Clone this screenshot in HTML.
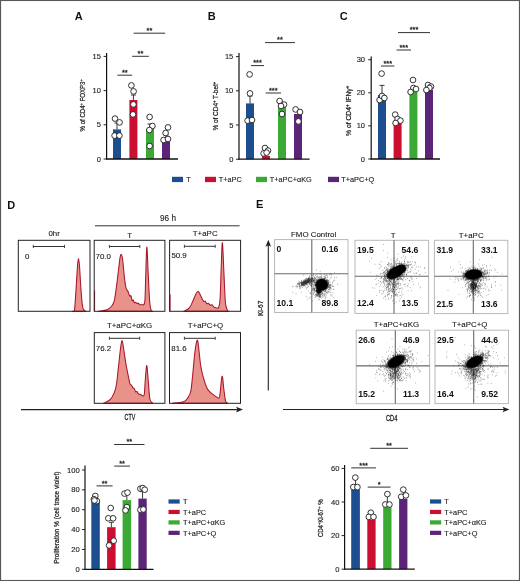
<!DOCTYPE html><html><head><meta charset="utf-8"><style>html,body{margin:0;padding:0;background:#fff;}body{width:520px;height:581px;overflow:hidden;}svg{display:block;will-change:transform;}text{font-family:"Liberation Sans",sans-serif;}</style></head><body><svg width="520" height="581" viewBox="0 0 520 581" font-family="'Liberation Sans', sans-serif" fill="#222"><rect x="0" y="0" width="520" height="581" fill="#fff"/>
<rect x="113" y="129.4" width="8" height="29.6" fill="#1d4e8f"/>
<line x1="117" y1="129.4" x2="117" y2="123" stroke="#222" stroke-width="0.9"/>
<line x1="114.5" y1="123" x2="119.5" y2="123" stroke="#222" stroke-width="0.9"/>
<rect x="129.4" y="100" width="8" height="59" fill="#cc0f30"/>
<line x1="133.4" y1="100" x2="133.4" y2="95" stroke="#222" stroke-width="0.9"/>
<line x1="130.9" y1="95" x2="135.9" y2="95" stroke="#222" stroke-width="0.9"/>
<rect x="146" y="129" width="8" height="30" fill="#3aaa35"/>
<line x1="150" y1="129" x2="150" y2="124" stroke="#222" stroke-width="0.9"/>
<line x1="147.5" y1="124" x2="152.5" y2="124" stroke="#222" stroke-width="0.9"/>
<rect x="162" y="139" width="8" height="20" fill="#5c2479"/>
<line x1="166" y1="139" x2="166" y2="135" stroke="#222" stroke-width="0.9"/>
<line x1="163.5" y1="135" x2="168.5" y2="135" stroke="#222" stroke-width="0.9"/>
<circle cx="115" cy="118.6" r="2.85" fill="#fff" stroke="#111" stroke-width="0.85"/>
<circle cx="119.6" cy="122.4" r="2.85" fill="#fff" stroke="#111" stroke-width="0.85"/>
<circle cx="114.6" cy="135.6" r="2.85" fill="#fff" stroke="#111" stroke-width="0.85"/>
<circle cx="119.4" cy="135.6" r="2.85" fill="#fff" stroke="#111" stroke-width="0.85"/>
<circle cx="131.4" cy="85.4" r="2.85" fill="#fff" stroke="#111" stroke-width="0.85"/>
<circle cx="133.6" cy="91.4" r="2.85" fill="#fff" stroke="#111" stroke-width="0.85"/>
<circle cx="133.4" cy="104.4" r="2.85" fill="#fff" stroke="#111" stroke-width="0.85"/>
<circle cx="133" cy="114.4" r="2.85" fill="#fff" stroke="#111" stroke-width="0.85"/>
<circle cx="149.6" cy="117" r="2.85" fill="#fff" stroke="#111" stroke-width="0.85"/>
<circle cx="152.4" cy="126" r="2.85" fill="#fff" stroke="#111" stroke-width="0.85"/>
<circle cx="149.4" cy="130" r="2.85" fill="#fff" stroke="#111" stroke-width="0.85"/>
<circle cx="149.6" cy="146" r="2.85" fill="#fff" stroke="#111" stroke-width="0.85"/>
<circle cx="168" cy="127.4" r="2.85" fill="#fff" stroke="#111" stroke-width="0.85"/>
<circle cx="165.6" cy="133" r="2.85" fill="#fff" stroke="#111" stroke-width="0.85"/>
<circle cx="163.6" cy="140" r="2.85" fill="#fff" stroke="#111" stroke-width="0.85"/>
<circle cx="168" cy="139" r="2.85" fill="#fff" stroke="#111" stroke-width="0.85"/>
<line x1="106.6" y1="53" x2="106.6" y2="159.6" stroke="#111" stroke-width="1.2"/>
<line x1="106" y1="159" x2="178" y2="159" stroke="#111" stroke-width="1.3"/>
<line x1="103.6" y1="159" x2="106.6" y2="159" stroke="#222" stroke-width="1"/>
<text x="100.9" y="161.59" font-size="7.5" text-anchor="end" stroke="#222" stroke-width="0.12">0</text>
<line x1="103.6" y1="124.8" x2="106.6" y2="124.8" stroke="#222" stroke-width="1"/>
<text x="100.9" y="127.39" font-size="7.5" text-anchor="end" stroke="#222" stroke-width="0.12">5</text>
<line x1="103.6" y1="90.6" x2="106.6" y2="90.6" stroke="#222" stroke-width="1"/>
<text x="100.9" y="93.19" font-size="7.5" text-anchor="end" stroke="#222" stroke-width="0.12">10</text>
<line x1="103.6" y1="56.4" x2="106.6" y2="56.4" stroke="#222" stroke-width="1"/>
<text x="100.9" y="58.99" font-size="7.5" text-anchor="end" stroke="#222" stroke-width="0.12">15</text>
<line x1="117.4" y1="75.2" x2="132.2" y2="75.2" stroke="#333" stroke-width="1"/>
<text x="124.8" y="75" font-size="7.4" text-anchor="middle" stroke="#222" stroke-width="0.3">**</text>
<line x1="132.2" y1="56.3" x2="148.8" y2="56.3" stroke="#333" stroke-width="1"/>
<text x="140.5" y="56.1" font-size="7.4" text-anchor="middle" stroke="#222" stroke-width="0.3">**</text>
<line x1="133.6" y1="33.2" x2="165.2" y2="33.2" stroke="#333" stroke-width="1"/>
<text x="149.4" y="33" font-size="7.4" text-anchor="middle" stroke="#222" stroke-width="0.3">**</text>
<rect x="246" y="103.4" width="8" height="55.8" fill="#1d4e8f"/>
<line x1="250" y1="103.4" x2="250" y2="96" stroke="#222" stroke-width="0.9"/>
<line x1="247.5" y1="96" x2="252.5" y2="96" stroke="#222" stroke-width="0.9"/>
<rect x="262" y="156" width="8" height="3.2" fill="#cc0f30"/>
<rect x="278" y="105" width="8" height="54.2" fill="#3aaa35"/>
<rect x="294" y="114" width="8" height="45.2" fill="#5c2479"/>
<circle cx="249.6" cy="74.4" r="2.85" fill="#fff" stroke="#111" stroke-width="0.85"/>
<circle cx="250" cy="93.4" r="2.85" fill="#fff" stroke="#111" stroke-width="0.85"/>
<circle cx="247.6" cy="120.6" r="2.85" fill="#fff" stroke="#111" stroke-width="0.85"/>
<circle cx="252" cy="120" r="2.85" fill="#fff" stroke="#111" stroke-width="0.85"/>
<circle cx="265" cy="148" r="2.85" fill="#fff" stroke="#111" stroke-width="0.85"/>
<circle cx="268" cy="150.6" r="2.85" fill="#fff" stroke="#111" stroke-width="0.85"/>
<circle cx="263.6" cy="153.4" r="2.85" fill="#fff" stroke="#111" stroke-width="0.85"/>
<circle cx="266.6" cy="152.6" r="2.85" fill="#fff" stroke="#111" stroke-width="0.85"/>
<circle cx="279.6" cy="101" r="2.85" fill="#fff" stroke="#111" stroke-width="0.85"/>
<circle cx="284" cy="104.6" r="2.85" fill="#fff" stroke="#111" stroke-width="0.85"/>
<circle cx="282" cy="114" r="2.85" fill="#fff" stroke="#111" stroke-width="0.85"/>
<circle cx="281" cy="106" r="2.85" fill="#fff" stroke="#111" stroke-width="0.85"/>
<circle cx="295.6" cy="109.4" r="2.85" fill="#fff" stroke="#111" stroke-width="0.85"/>
<circle cx="300" cy="112" r="2.85" fill="#fff" stroke="#111" stroke-width="0.85"/>
<circle cx="298.4" cy="121.4" r="2.85" fill="#fff" stroke="#111" stroke-width="0.85"/>
<line x1="239" y1="53" x2="239" y2="159.8" stroke="#111" stroke-width="1.2"/>
<line x1="238.4" y1="159.2" x2="309.6" y2="159.2" stroke="#111" stroke-width="1.3"/>
<line x1="236" y1="159.2" x2="239" y2="159.2" stroke="#222" stroke-width="1"/>
<text x="233.3" y="161.79" font-size="7.5" text-anchor="end" stroke="#222" stroke-width="0.12">0</text>
<line x1="236" y1="125" x2="239" y2="125" stroke="#222" stroke-width="1"/>
<text x="233.3" y="127.59" font-size="7.5" text-anchor="end" stroke="#222" stroke-width="0.12">5</text>
<line x1="236" y1="90.8" x2="239" y2="90.8" stroke="#222" stroke-width="1"/>
<text x="233.3" y="93.39" font-size="7.5" text-anchor="end" stroke="#222" stroke-width="0.12">10</text>
<line x1="236" y1="56.6" x2="239" y2="56.6" stroke="#222" stroke-width="1"/>
<text x="233.3" y="59.19" font-size="7.5" text-anchor="end" stroke="#222" stroke-width="0.12">15</text>
<line x1="251" y1="65.6" x2="264" y2="65.6" stroke="#333" stroke-width="1"/>
<text x="257.5" y="65.4" font-size="7.4" text-anchor="middle" stroke="#222" stroke-width="0.3">***</text>
<line x1="265.6" y1="93" x2="281" y2="93" stroke="#333" stroke-width="1"/>
<text x="273.3" y="92.8" font-size="7.4" text-anchor="middle" stroke="#222" stroke-width="0.3">***</text>
<line x1="265" y1="42.6" x2="295" y2="42.6" stroke="#333" stroke-width="1"/>
<text x="280" y="42.4" font-size="7.4" text-anchor="middle" stroke="#222" stroke-width="0.3">**</text>
<rect x="378" y="95" width="8" height="64" fill="#1d4e8f"/>
<line x1="382" y1="95" x2="382" y2="85.4" stroke="#222" stroke-width="0.9"/>
<line x1="379.5" y1="85.4" x2="384.5" y2="85.4" stroke="#222" stroke-width="0.9"/>
<rect x="393.6" y="123" width="8" height="36" fill="#cc0f30"/>
<rect x="409.4" y="92" width="8" height="67" fill="#3aaa35"/>
<rect x="425" y="90" width="8" height="69" fill="#5c2479"/>
<circle cx="379.6" cy="100" r="2.85" fill="#fff" stroke="#111" stroke-width="0.85"/>
<circle cx="382" cy="96" r="2.85" fill="#fff" stroke="#111" stroke-width="0.85"/>
<circle cx="384.4" cy="98" r="2.85" fill="#fff" stroke="#111" stroke-width="0.85"/>
<circle cx="381.6" cy="73.6" r="2.85" fill="#fff" stroke="#111" stroke-width="0.85"/>
<circle cx="395.2" cy="114.6" r="2.85" fill="#fff" stroke="#111" stroke-width="0.85"/>
<circle cx="397.6" cy="119" r="2.85" fill="#fff" stroke="#111" stroke-width="0.85"/>
<circle cx="400.4" cy="120.6" r="2.85" fill="#fff" stroke="#111" stroke-width="0.85"/>
<circle cx="395.6" cy="123" r="2.85" fill="#fff" stroke="#111" stroke-width="0.85"/>
<circle cx="413" cy="80" r="2.85" fill="#fff" stroke="#111" stroke-width="0.85"/>
<circle cx="413.4" cy="88" r="2.85" fill="#fff" stroke="#111" stroke-width="0.85"/>
<circle cx="416" cy="89" r="2.85" fill="#fff" stroke="#111" stroke-width="0.85"/>
<circle cx="410.6" cy="92" r="2.85" fill="#fff" stroke="#111" stroke-width="0.85"/>
<circle cx="428" cy="85" r="2.85" fill="#fff" stroke="#111" stroke-width="0.85"/>
<circle cx="431" cy="86.6" r="2.85" fill="#fff" stroke="#111" stroke-width="0.85"/>
<circle cx="429.4" cy="88" r="2.85" fill="#fff" stroke="#111" stroke-width="0.85"/>
<circle cx="426.4" cy="90" r="2.85" fill="#fff" stroke="#111" stroke-width="0.85"/>
<line x1="371.2" y1="56.6" x2="371.2" y2="159.6" stroke="#111" stroke-width="1.2"/>
<line x1="370.6" y1="159" x2="440" y2="159" stroke="#111" stroke-width="1.3"/>
<line x1="368.2" y1="159" x2="371.2" y2="159" stroke="#222" stroke-width="1"/>
<text x="365" y="161.59" font-size="7.5" text-anchor="end" stroke="#222" stroke-width="0.12">0</text>
<line x1="368.2" y1="125.9" x2="371.2" y2="125.9" stroke="#222" stroke-width="1"/>
<text x="365" y="128.49" font-size="7.5" text-anchor="end" stroke="#222" stroke-width="0.12">10</text>
<line x1="368.2" y1="92.8" x2="371.2" y2="92.8" stroke="#222" stroke-width="1"/>
<text x="365" y="95.39" font-size="7.5" text-anchor="end" stroke="#222" stroke-width="0.12">20</text>
<line x1="368.2" y1="59.7" x2="371.2" y2="59.7" stroke="#222" stroke-width="1"/>
<text x="365" y="62.29" font-size="7.5" text-anchor="end" stroke="#222" stroke-width="0.12">30</text>
<line x1="381" y1="66" x2="394.4" y2="66" stroke="#333" stroke-width="1"/>
<text x="387.7" y="65.8" font-size="7.4" text-anchor="middle" stroke="#222" stroke-width="0.3">***</text>
<line x1="396.6" y1="50" x2="411" y2="50" stroke="#333" stroke-width="1"/>
<text x="403.8" y="49.8" font-size="7.4" text-anchor="middle" stroke="#222" stroke-width="0.3">***</text>
<line x1="398" y1="32.6" x2="430" y2="32.6" stroke="#333" stroke-width="1"/>
<text x="414" y="32.4" font-size="7.4" text-anchor="middle" stroke="#222" stroke-width="0.3">***</text>
<text x="74.8" y="20" font-size="11" font-weight="bold" fill="#111">A</text>
<text x="207.8" y="20" font-size="11" font-weight="bold" fill="#111">B</text>
<text x="339.8" y="20" font-size="11" font-weight="bold" fill="#111">C</text>
<text x="7.3" y="208.8" font-size="11" font-weight="bold" fill="#111">D</text>
<text x="256" y="208.2" font-size="11" font-weight="bold" fill="#111">E</text>
<text x="84.89" y="131.4" font-size="7.8" textLength="52.1" lengthAdjust="spacingAndGlyphs" transform="rotate(-90 84.89 131.4)" stroke="#222" stroke-width="0.25">% of CD4<tspan dy="-2" font-size="5">+</tspan><tspan dy="2"> FOXP3</tspan><tspan dy="-2" font-size="5">+</tspan></text>
<text x="217.79" y="130.6" font-size="7.8" textLength="48.8" lengthAdjust="spacingAndGlyphs" transform="rotate(-90 217.79 130.6)" stroke="#222" stroke-width="0.25">% of CD4<tspan dy="-2" font-size="5">+</tspan><tspan dy="2"> T-bet</tspan><tspan dy="-2" font-size="5">+</tspan></text>
<text x="350.59" y="136" font-size="7.8" textLength="50.3" lengthAdjust="spacingAndGlyphs" transform="rotate(-90 350.59 136)" stroke="#222" stroke-width="0.25">% of CD4<tspan dy="-2" font-size="5">+</tspan><tspan dy="2"> IFN&#947;</tspan><tspan dy="-2" font-size="5">+</tspan></text>
<rect x="172" y="176.8" width="11" height="5.3" fill="#1d4e8f"/>
<text x="186.3" y="182.1" font-size="7.3" stroke="#222" stroke-width="0.12">T</text>
<rect x="205" y="176.8" width="11" height="5.3" fill="#cc0f30"/>
<text x="218.8" y="182.1" font-size="7.3" stroke="#222" stroke-width="0.12">T+aPC</text>
<rect x="256" y="176.8" width="11" height="5.3" fill="#3aaa35"/>
<text x="269.8" y="182.1" font-size="7.3" stroke="#222" stroke-width="0.12">T+aPC+&#945;KG</text>
<rect x="328" y="176.8" width="11" height="5.3" fill="#5c2479"/>
<text x="341.3" y="182.1" font-size="7.3" stroke="#222" stroke-width="0.12">T+aPC+Q</text>
<path d="M72.5 311.3C72.83 311 73.92 313.05 74.5 309.5C75.08 305.95 75.5 297.25 76 290C76.5 282.75 77.08 271.25 77.5 266C77.92 260.75 78.17 258.5 78.5 258.5C78.83 258.5 79.08 260.75 79.5 266C79.92 271.25 80.5 283.33 81 290C81.5 296.67 82 302.67 82.5 306C83 309.33 83.42 309.12 84 310C84.58 310.88 85.67 311.08 86 311.3Z" fill="#e8928a" stroke="#a8142c" stroke-width="1.05" stroke-linejoin="round"/>
<path d="M98.5 311.3C99.95 311.05 105.03 310.63 107.2 309.8C109.37 308.97 110.32 307.83 111.5 306.3C112.68 304.77 113.47 303.92 114.3 300.6C115.13 297.28 115.78 291.62 116.5 286.4C117.22 281.18 118.02 274.05 118.6 269.3C119.18 264.55 119.57 260.38 120 257.9C120.43 255.42 120.77 254.17 121.2 254.4C121.63 254.63 122.08 255.63 122.6 259.3C123.12 262.97 123.73 271.65 124.3 276.4C124.87 281.15 125.4 285.32 126 287.8C126.6 290.28 127.4 290.18 127.9 291.3C128.4 292.42 128.65 293.67 129 294.5C129.35 295.33 129.67 296.08 130 296.3C130.33 296.52 130.65 295.08 131 295.8C131.35 296.52 131.73 299.9 132.1 300.6C132.47 301.3 132.83 299.65 133.2 300C133.57 300.35 133.92 302.33 134.3 302.7C134.68 303.07 135.03 302.08 135.5 302.2C135.97 302.32 136.6 303.23 137.1 303.4C137.6 303.57 138.03 302.95 138.5 303.2C138.97 303.45 139.37 304.72 139.9 304.9C140.43 305.08 141.1 304.3 141.7 304.3C142.3 304.3 142.97 305.52 143.5 304.9C144.03 304.28 144.55 304.63 144.9 300.6C145.25 296.57 145.28 289.6 145.6 280.7C145.92 271.8 146.37 248.38 146.8 247.2C147.23 246.02 147.73 264.7 148.2 273.6C148.67 282.5 149.13 294.57 149.6 300.6C150.07 306.63 150.48 308.02 151 309.8C151.52 311.58 152.42 311.05 152.7 311.3Z" fill="#e8928a" stroke="#a8142c" stroke-width="1.05" stroke-linejoin="round"/>
<line x1="94.6" y1="290.5" x2="94.6" y2="311.3" stroke="#a8142c" stroke-width="1"/>
<path d="M183.9 311.3C184.82 310.73 187.9 309.62 189.4 307.9C190.9 306.18 191.87 303.2 192.9 301C193.93 298.8 194.73 296.33 195.6 294.7C196.47 293.07 197.28 291.08 198.1 291.2C198.92 291.32 199.82 294.1 200.5 295.4C201.18 296.7 201.63 297.97 202.2 299C202.77 300.03 203.38 301.25 203.9 301.6C204.42 301.95 204.83 300.75 205.3 301.1C205.77 301.45 206.22 303.33 206.7 303.7C207.18 304.07 207.62 303.07 208.2 303.3C208.78 303.53 209.57 304.85 210.2 305.1C210.83 305.35 211.32 304.45 212 304.8C212.68 305.15 213.22 306.73 214.3 307.2C215.38 307.67 217.53 309.1 218.5 307.6C219.47 306.1 219.65 304.85 220.1 298.2C220.55 291.55 220.82 276.93 221.2 267.7C221.58 258.47 221.93 241.65 222.4 242.8C222.87 243.95 223.5 264.68 224 274.6C224.5 284.52 224.82 296.3 225.4 302.3C225.98 308.3 226.9 309.1 227.5 310.6C228.1 312.1 228.75 311.18 229 311.3Z" fill="#e8928a" stroke="#a8142c" stroke-width="1.05" stroke-linejoin="round"/>
<line x1="170.1" y1="294.5" x2="170.1" y2="311.3" stroke="#a8142c" stroke-width="1"/>
<path d="M103.7 403.2C104.77 402.62 108.33 401.47 110.1 399.7C111.87 397.93 113.23 395.22 114.3 392.6C115.37 389.98 115.78 388.5 116.5 384C117.22 379.5 117.9 371.77 118.6 365.6C119.3 359.43 120.1 351.15 120.7 347C121.3 342.85 121.72 340.45 122.2 340.7C122.68 340.95 123.02 344.83 123.6 348.5C124.18 352.17 124.98 358.43 125.7 362.7C126.42 366.97 127.35 371.3 127.9 374.1C128.45 376.9 128.65 377.85 129 379.5C129.35 381.15 129.6 383.08 130 384C130.4 384.92 130.93 384.4 131.4 385C131.87 385.6 132.33 387 132.8 387.6C133.27 388.2 133.72 387.88 134.2 388.6C134.68 389.32 135.23 391.42 135.7 391.9C136.17 392.38 136.53 391.15 137 391.5C137.47 391.85 137.97 393.55 138.5 394C139.03 394.45 139.6 393.97 140.2 394.2C140.8 394.43 141.43 395.32 142.1 395.4C142.77 395.48 143.67 397.3 144.2 394.7C144.73 392.1 144.87 384.65 145.3 379.8C145.73 374.95 146.27 364.9 146.8 365.6C147.33 366.3 147.98 378.43 148.5 384C149.02 389.57 149.2 395.8 149.9 399C150.6 402.2 152.23 402.5 152.7 403.2Z" fill="#e8928a" stroke="#a8142c" stroke-width="1.05" stroke-linejoin="round"/>
<path d="M172.3 403.2C174.18 402.97 181 402.73 183.6 401.8C186.2 400.87 186.7 399.37 187.9 397.6C189.1 395.83 189.97 395.35 190.8 391.2C191.63 387.05 192.2 379.35 192.9 372.7C193.6 366.05 194.28 356.72 195 351.3C195.72 345.88 196.6 340.92 197.2 340.2C197.8 339.48 198.02 342.77 198.6 347C199.18 351.23 199.87 360.37 200.7 365.6C201.53 370.83 202.53 374.62 203.6 378.4C204.67 382.18 205.92 385.93 207.1 388.3C208.28 390.67 209.52 391.42 210.7 392.6C211.88 393.78 212.9 394.5 214.2 395.4C215.5 396.3 217.55 398.12 218.5 398C219.45 397.88 219.3 398.33 219.9 394.7C220.5 391.07 221.43 377.03 222.1 376.2C222.77 375.37 223.32 385.55 223.9 389.7C224.48 393.85 224.97 398.85 225.6 401.1C226.23 403.35 227.35 402.85 227.7 403.2Z" fill="#e8928a" stroke="#a8142c" stroke-width="1.05" stroke-linejoin="round"/>
<rect x="18.3" y="240.3" width="71.7" height="71" fill="none" stroke="#222" stroke-width="1.0"/>
<rect x="94.2" y="240.3" width="70.7" height="71" fill="none" stroke="#222" stroke-width="1.0"/>
<rect x="169.6" y="240.3" width="71" height="71" fill="none" stroke="#222" stroke-width="1.0"/>
<rect x="94.3" y="332.6" width="70.6" height="70.7" fill="none" stroke="#222" stroke-width="1.0"/>
<rect x="169.5" y="332.6" width="71" height="70.7" fill="none" stroke="#222" stroke-width="1.0"/>
<line x1="33.3" y1="246.5" x2="64.5" y2="246.5" stroke="#333" stroke-width="1"/>
<line x1="33.3" y1="244.9" x2="33.3" y2="248.1" stroke="#333" stroke-width="0.9"/>
<line x1="64.5" y1="244.9" x2="64.5" y2="248.1" stroke="#333" stroke-width="0.9"/>
<line x1="109.4" y1="246.5" x2="139.8" y2="246.5" stroke="#333" stroke-width="1"/>
<line x1="109.4" y1="244.9" x2="109.4" y2="248.1" stroke="#333" stroke-width="0.9"/>
<line x1="139.8" y1="244.9" x2="139.8" y2="248.1" stroke="#333" stroke-width="0.9"/>
<line x1="184.4" y1="246.3" x2="215.2" y2="246.3" stroke="#333" stroke-width="1"/>
<line x1="184.4" y1="244.7" x2="184.4" y2="247.9" stroke="#333" stroke-width="0.9"/>
<line x1="215.2" y1="244.7" x2="215.2" y2="247.9" stroke="#333" stroke-width="0.9"/>
<line x1="109.4" y1="338.3" x2="139.7" y2="338.3" stroke="#333" stroke-width="1"/>
<line x1="109.4" y1="336.7" x2="109.4" y2="339.9" stroke="#333" stroke-width="0.9"/>
<line x1="139.7" y1="336.7" x2="139.7" y2="339.9" stroke="#333" stroke-width="0.9"/>
<line x1="184.4" y1="338.3" x2="215.2" y2="338.3" stroke="#333" stroke-width="1"/>
<line x1="184.4" y1="336.7" x2="184.4" y2="339.9" stroke="#333" stroke-width="0.9"/>
<line x1="215.2" y1="336.7" x2="215.2" y2="339.9" stroke="#333" stroke-width="0.9"/>
<text x="25" y="258.8" font-size="7.9" stroke="#222" stroke-width="0.12">0</text>
<text x="95.5" y="259" font-size="7.9" stroke="#222" stroke-width="0.12">70.0</text>
<text x="171.4" y="258.4" font-size="7.9" stroke="#222" stroke-width="0.12">50.9</text>
<text x="95.8" y="351" font-size="7.9" stroke="#222" stroke-width="0.12">76.2</text>
<text x="171.3" y="351" font-size="7.9" stroke="#222" stroke-width="0.12">81.6</text>
<text x="54.1" y="235.6" font-size="7.9" text-anchor="middle" stroke="#222" stroke-width="0.12">0hr</text>
<text x="168" y="221.2" font-size="8.2" text-anchor="middle" stroke="#222" stroke-width="0.12">96 h</text>
<line x1="95" y1="225.8" x2="239.6" y2="225.8" stroke="#333" stroke-width="1"/>
<text x="129.7" y="237.5" font-size="7.9" text-anchor="middle" stroke="#222" stroke-width="0.12">T</text>
<text x="205.2" y="235.6" font-size="7.9" text-anchor="middle" stroke="#222" stroke-width="0.12">T+aPC</text>
<text x="129.6" y="327.6" font-size="7.9" text-anchor="middle" stroke="#222" stroke-width="0.12">T+aPC+&#945;KG</text>
<text x="205.5" y="327.6" font-size="7.9" text-anchor="middle" stroke="#222" stroke-width="0.12">T+aPC+Q</text>
<line x1="21" y1="409.6" x2="238" y2="409.6" stroke="#222" stroke-width="1.1"/>
<path d="M243 409.6 L236 406.8 L237.5 409.6 L236 412.4Z" fill="#222"/>
<text x="124.6" y="420.4" font-size="8.2" textLength="10.6" lengthAdjust="spacingAndGlyphs" stroke="#222" stroke-width="0.3">CTV</text>
<rect x="274.6" y="239.6" width="73.4" height="72.9" fill="none" stroke="#b8b8b8" stroke-width="1"/>
<line x1="311.8" y1="239.6" x2="311.8" y2="312.5" stroke="#6a6a6a" stroke-width="1.1"/>
<line x1="274.6" y1="273.7" x2="348" y2="273.7" stroke="#6a6a6a" stroke-width="1.1"/>
<path d="M320.3 287.0h.6M320.5 283.7h.6M317.3 284.1h.6M326.5 286.7h.6M326.2 286.0h.6M323.3 285.7h.6M314.0 288.4h.6M323.8 287.0h.6M313.9 278.0h.6M317.5 283.1h.6M322.9 284.8h.6M323.8 282.4h.6M322.9 286.6h.6M318.5 291.9h.6M324.0 289.8h.6M318.7 282.0h.6M320.0 284.6h.6M324.3 286.0h.6M319.5 281.2h.6M319.2 289.9h.6M317.9 286.0h.6M323.4 279.0h.6M321.7 290.2h.6M312.4 283.7h.6M321.0 281.7h.6M323.7 284.8h.6M314.9 288.3h.6M324.5 288.8h.6M328.0 286.4h.6M322.0 279.8h.6M324.3 282.6h.6M319.5 279.9h.6M317.1 282.9h.6M327.3 276.9h.6M314.9 286.0h.6M328.0 287.3h.6M313.0 274.9h.6M323.1 282.1h.6M316.5 288.9h.6M326.5 285.6h.6M322.6 286.7h.6M328.7 287.5h.6M323.8 287.2h.6M314.4 290.1h.6M325.8 287.1h.6M312.6 282.5h.6M325.3 277.8h.6M320.7 289.1h.6M315.6 291.4h.6M324.0 284.4h.6M323.0 287.6h.6M322.0 289.6h.6M318.5 283.3h.6M326.2 285.1h.6M317.5 288.8h.6M328.1 283.2h.6M315.3 284.5h.6M320.8 283.8h.6M327.8 280.9h.6M327.2 279.9h.6M318.0 287.5h.6M326.6 288.4h.6M323.1 285.6h.6M322.2 287.3h.6M320.7 286.1h.6M324.1 285.0h.6M324.9 287.3h.6M330.5 286.3h.6M319.6 283.5h.6M321.4 288.7h.6M320.0 286.5h.6M329.8 274.7h.6M316.4 286.0h.6M323.3 286.0h.6M319.6 287.6h.6M322.8 282.9h.6M332.4 286.4h.6M319.0 284.6h.6M320.5 284.7h.6M309.2 283.1h.6M326.0 280.3h.6M321.2 288.8h.6M325.4 291.0h.6M313.8 283.6h.6M320.0 287.5h.6M326.4 274.3h.6M326.4 279.2h.6M324.6 279.0h.6M322.3 289.8h.6M320.8 285.8h.6M325.1 285.6h.6M321.1 291.1h.6M326.2 283.8h.6M333.9 280.4h.6M325.6 283.9h.6M322.1 287.8h.6M322.5 287.6h.6M314.6 279.0h.6M324.3 281.1h.6M316.9 279.1h.6M327.2 288.0h.6M328.1 281.2h.6M321.5 280.4h.6M324.9 291.4h.6M317.5 291.2h.6M325.9 284.3h.6M312.6 290.6h.6M321.1 282.6h.6M323.3 286.6h.6M328.2 280.9h.6M326.6 290.9h.6M328.0 284.3h.6M318.2 289.1h.6M322.0 285.5h.6M327.9 283.9h.6M311.2 283.5h.6M313.2 288.3h.6M322.9 282.6h.6M321.5 288.3h.6M321.9 290.3h.6M321.2 289.2h.6M328.2 291.4h.6M318.5 288.5h.6M313.1 280.7h.6M312.7 289.3h.6M316.0 284.9h.6M320.6 284.9h.6M318.8 285.9h.6M329.6 285.2h.6M323.9 289.0h.6M320.6 280.0h.6M319.0 289.3h.6M314.1 282.6h.6M326.0 288.2h.6M321.5 288.2h.6M322.2 280.3h.6M314.5 282.4h.6M325.7 282.7h.6M317.4 281.9h.6M314.6 284.5h.6M316.2 286.5h.6M310.9 286.3h.6M318.6 277.2h.6M324.8 283.9h.6M311.5 281.5h.6M322.8 283.2h.6M325.0 288.0h.6M324.5 286.3h.6M327.5 287.6h.6M323.5 276.7h.6M325.5 290.2h.6M320.2 283.1h.6M330.2 278.0h.6M323.6 294.7h.6M317.3 287.8h.6M330.0 284.5h.6M324.0 288.6h.6M317.4 284.6h.6M322.8 288.3h.6M321.3 284.2h.6M316.9 283.6h.6M325.5 285.4h.6M317.7 281.6h.6M333.5 289.6h.6M324.4 274.6h.6M324.3 286.9h.6M329.1 286.7h.6M321.2 287.1h.6M312.8 289.1h.6M323.0 282.2h.6M327.5 292.2h.6M315.2 282.3h.6M322.8 285.7h.6M319.7 281.1h.6M331.0 289.1h.6M316.1 279.6h.6M329.2 289.0h.6M329.7 288.2h.6M317.6 286.0h.6M311.8 282.0h.6M321.2 287.1h.6M318.2 284.5h.6M323.6 286.5h.6M324.4 285.8h.6M320.0 288.2h.6M321.7 281.7h.6M318.7 285.0h.6M321.0 285.6h.6M321.5 285.7h.6M320.9 280.0h.6M323.4 289.2h.6M323.5 284.2h.6M323.5 281.1h.6M313.0 285.2h.6M317.3 288.0h.6M316.6 274.5h.6M316.8 291.3h.6M319.8 279.5h.6M318.1 287.1h.6M323.7 285.7h.6M328.2 287.8h.6M321.4 287.4h.6M328.9 288.9h.6M326.1 280.7h.6M320.8 287.9h.6M320.2 289.3h.6M324.2 288.6h.6M320.5 295.2h.6M327.1 284.1h.6M321.9 295.4h.6M320.0 288.5h.6M325.9 285.0h.6M316.2 285.8h.6M323.1 289.5h.6M325.0 285.1h.6M325.3 287.2h.6M322.4 285.2h.6M320.4 287.7h.6M316.8 282.5h.6M321.5 279.1h.6M319.5 277.0h.6M318.4 287.3h.6M324.0 284.8h.6M320.5 279.3h.6M329.7 287.1h.6M326.4 281.5h.6M320.7 277.7h.6M325.0 288.7h.6M313.0 284.8h.6M324.3 278.0h.6M313.3 280.7h.6M318.7 279.4h.6M321.6 286.0h.6M324.4 287.8h.6M328.3 289.7h.6M315.6 283.0h.6M316.7 280.7h.6M321.1 285.0h.6M323.7 278.7h.6M315.9 284.9h.6M320.6 283.8h.6M321.2 282.0h.6M324.7 286.4h.6M321.1 282.3h.6M320.7 274.1h.6M317.1 285.1h.6M314.7 285.8h.6M322.2 279.5h.6M320.4 283.7h.6M323.6 287.4h.6M321.3 281.6h.6M320.9 284.7h.6M324.8 286.2h.6M318.2 279.6h.6M319.8 282.0h.6M316.5 284.5h.6M319.3 285.4h.6M323.9 283.3h.6M332.0 283.7h.6M326.5 285.5h.6M326.5 275.5h.6M318.1 286.0h.6M324.2 294.3h.6M323.0 290.1h.6M324.9 288.8h.6M323.8 284.4h.6M323.8 280.7h.6M326.8 280.9h.6M322.6 293.5h.6M320.5 285.1h.6M326.7 285.1h.6M317.9 286.0h.6M324.1 287.8h.6M318.0 292.0h.6M329.0 285.1h.6M322.7 283.3h.6M327.9 282.2h.6M324.5 283.1h.6M318.4 287.9h.6M327.5 285.0h.6M318.5 288.2h.6M321.3 286.2h.6M328.4 289.5h.6M319.2 294.1h.6M321.5 288.1h.6M318.6 284.8h.6M313.6 292.1h.6M327.6 280.1h.6M314.7 278.5h.6M326.8 283.2h.6M321.2 283.7h.6M321.0 280.6h.6M321.6 279.2h.6M321.2 286.2h.6M323.6 284.1h.6M317.4 285.6h.6M319.3 291.3h.6M325.0 284.5h.6M319.4 282.2h.6M317.3 283.6h.6M322.8 287.1h.6M324.1 293.4h.6M318.3 285.1h.6M334.1 277.5h.6M319.2 285.7h.6M322.2 286.6h.6M320.4 286.5h.6M321.7 288.1h.6M313.0 281.5h.6M321.5 280.9h.6M316.8 287.5h.6M318.6 287.5h.6M324.9 286.2h.6M323.8 284.6h.6M315.2 284.9h.6M323.5 282.9h.6M321.1 288.0h.6M317.5 287.6h.6M329.9 282.8h.6M322.2 284.4h.6M328.4 286.3h.6M325.5 282.2h.6M321.4 285.0h.6M313.5 290.8h.6M325.5 278.0h.6M324.8 284.5h.6M323.5 286.5h.6M314.8 284.2h.6M328.2 282.7h.6M316.9 279.6h.6M316.0 286.3h.6M329.1 286.7h.6M322.6 293.9h.6M319.2 282.3h.6M323.9 287.2h.6M316.9 280.3h.6M322.8 286.0h.6M315.6 284.2h.6M319.1 286.8h.6M321.0 284.7h.6M319.9 289.2h.6M327.8 283.5h.6M325.3 282.0h.6M321.8 288.0h.6M328.3 283.5h.6M321.2 285.8h.6M314.8 285.1h.6M318.5 286.5h.6M316.4 277.1h.6M321.7 286.0h.6M319.0 288.6h.6M320.3 282.6h.6M323.6 278.7h.6M318.5 284.9h.6M325.3 284.3h.6M322.9 282.4h.6M322.9 291.7h.6M318.4 294.5h.6M318.6 285.1h.6M322.3 289.1h.6M315.9 276.6h.6M324.2 288.2h.6M324.3 295.5h.6M322.4 286.0h.6M325.7 286.5h.6M329.0 280.0h.6M319.8 271.2h.6M325.2 283.5h.6M325.7 293.6h.6M321.5 284.0h.6M319.3 281.6h.6M318.7 287.6h.6M321.7 285.3h.6M320.7 288.7h.6M323.7 284.4h.6M324.5 284.4h.6M316.3 290.8h.6M323.6 281.2h.6M326.4 286.4h.6M314.5 291.4h.6M323.0 288.6h.6M322.4 284.4h.6M314.5 288.9h.6M321.6 283.9h.6M323.1 285.3h.6M324.5 283.5h.6M321.3 276.4h.6M319.6 287.7h.6M327.5 283.5h.6M321.0 291.3h.6M320.0 287.9h.6M329.1 285.2h.6M327.0 282.2h.6M322.4 284.7h.6M322.0 289.5h.6M332.3 282.3h.6M318.9 287.0h.6M316.8 287.0h.6M324.1 283.9h.6M323.9 278.8h.6M324.9 278.8h.6M318.4 282.8h.6M319.7 288.4h.6M321.9 283.4h.6M323.9 291.3h.6M321.5 286.5h.6M327.1 286.1h.6M315.7 295.0h.6M331.4 277.1h.6M321.3 286.7h.6M325.8 287.7h.6M320.3 280.8h.6M322.0 289.1h.6M316.6 280.9h.6M321.4 277.3h.6M320.3 283.3h.6M323.5 282.2h.6M317.5 283.4h.6M321.3 282.3h.6M321.6 288.0h.6M326.8 291.8h.6M318.0 283.3h.6M310.3 292.6h.6M318.2 284.9h.6M323.9 279.6h.6M323.6 284.9h.6M313.3 286.2h.6M326.9 277.5h.6M325.1 285.8h.6M323.6 286.8h.6M327.4 284.1h.6M325.4 283.4h.6M324.8 281.7h.6M321.0 291.9h.6M323.5 284.4h.6M316.3 281.8h.6M322.4 288.8h.6M323.4 287.1h.6M321.3 290.4h.6M319.7 282.8h.6M325.5 285.3h.6M320.2 282.7h.6M320.3 287.5h.6M323.1 280.2h.6M323.4 285.7h.6M317.0 288.1h.6M320.2 283.7h.6M325.1 290.3h.6M318.4 286.8h.6M317.6 294.3h.6M319.3 289.8h.6M318.6 288.2h.6M331.5 274.8h.6M319.5 287.0h.6M321.1 282.3h.6M331.2 285.3h.6M314.1 288.4h.6M313.8 289.6h.6M318.9 285.6h.6M327.2 285.5h.6M315.2 278.2h.6M326.8 288.0h.6M317.8 288.4h.6M323.7 287.6h.6M311.3 283.8h.6M325.6 287.9h.6M325.5 275.2h.6M322.3 287.0h.6M333.0 281.2h.6M320.0 285.1h.6M325.5 283.2h.6M326.7 281.8h.6M322.7 282.9h.6M322.2 282.2h.6M314.3 289.4h.6M322.9 282.8h.6M322.4 289.0h.6M317.1 284.6h.6M323.9 287.1h.6M320.0 276.6h.6M327.1 286.3h.6M321.6 283.9h.6M322.7 283.3h.6M316.9 282.0h.6M318.8 282.6h.6M316.3 287.5h.6M315.6 287.6h.6M316.9 286.4h.6M327.7 285.8h.6M318.2 285.2h.6M322.2 278.1h.6M318.8 285.7h.6M319.4 285.3h.6M324.8 288.1h.6M325.6 287.4h.6M320.2 284.9h.6M320.3 283.7h.6M320.7 278.1h.6M320.0 284.9h.6M317.1 284.9h.6M323.8 284.3h.6M330.8 274.6h.6M320.6 277.7h.6M325.9 295.6h.6M310.2 285.5h.6M323.8 283.8h.6M324.0 276.0h.6M325.3 286.5h.6M321.6 282.6h.6M324.4 283.1h.6M322.5 283.0h.6M311.4 284.9h.6M322.4 288.0h.6M317.6 284.9h.6M324.3 285.6h.6M327.1 293.0h.6M317.4 277.3h.6M325.4 291.1h.6M325.7 288.3h.6M318.7 282.1h.6M325.5 281.4h.6M313.3 281.0h.6M332.7 292.7h.6M318.4 282.1h.6M322.5 282.0h.6M327.4 284.7h.6M316.6 290.2h.6M318.9 285.9h.6M321.4 283.7h.6M323.0 282.2h.6M313.2 276.2h.6M315.8 282.0h.6M321.4 285.2h.6M324.0 285.5h.6M317.9 282.2h.6M312.0 284.3h.6M323.7 287.1h.6M321.0 284.3h.6M325.7 285.1h.6M324.8 287.3h.6M322.5 290.2h.6M318.9 283.6h.6M317.9 281.8h.6M328.5 292.0h.6M321.6 287.3h.6M326.8 288.2h.6M326.9 279.9h.6M318.6 286.8h.6M328.0 285.4h.6M317.6 283.6h.6M318.5 281.6h.6M328.3 282.5h.6M321.6 293.6h.6M326.8 286.3h.6M318.7 286.6h.6M328.8 287.5h.6M327.2 285.4h.6M323.8 284.2h.6M323.4 290.2h.6M315.1 284.7h.6M322.6 282.7h.6M320.1 288.1h.6M330.5 287.5h.6M323.0 278.8h.6M330.2 285.3h.6M321.3 280.5h.6M321.2 280.6h.6M321.8 286.9h.6M321.6 286.1h.6M317.7 290.7h.6M318.6 277.7h.6M320.7 281.9h.6M317.0 283.6h.6M322.8 280.3h.6M320.9 290.7h.6M324.6 284.4h.6M322.1 284.5h.6M321.3 287.9h.6M321.1 275.4h.6M321.4 281.4h.6M324.4 282.6h.6M322.2 293.7h.6M316.8 280.5h.6M315.1 275.4h.6M313.0 286.5h.6M318.6 277.5h.6M314.8 287.5h.6M318.0 283.5h.6M323.0 290.4h.6M330.2 289.1h.6M322.1 285.7h.6M329.6 290.7h.6M320.1 286.8h.6M322.8 285.2h.6M319.2 279.7h.6M319.1 278.8h.6M327.0 287.1h.6M316.1 290.6h.6M325.5 277.4h.6M329.8 288.2h.6M321.6 288.3h.6M319.3 293.3h.6M318.8 292.5h.6M320.1 287.5h.6M316.6 287.8h.6M317.7 290.2h.6M319.1 292.8h.6M318.5 290.0h.6M317.8 294.9h.6M319.6 292.3h.6M318.0 296.7h.6M317.6 293.9h.6M320.2 291.2h.6M319.7 288.7h.6M320.0 292.6h.6M316.1 294.0h.6M317.2 295.8h.6M317.5 291.5h.6M318.9 291.0h.6M318.9 290.3h.6M319.5 292.0h.6M318.8 283.7h.6M320.2 292.1h.6M315.8 292.3h.6M319.2 295.2h.6M316.9 296.6h.6M318.3 299.2h.6M318.3 294.0h.6M318.0 288.7h.6M320.1 294.7h.6M320.8 294.6h.6M317.6 287.0h.6M317.5 290.0h.6M317.3 293.7h.6M319.0 291.2h.6M318.8 291.6h.6M318.8 294.3h.6M319.9 289.9h.6M316.2 296.3h.6M318.7 295.3h.6M316.0 291.0h.6M318.5 287.7h.6M317.7 294.2h.6M320.1 296.8h.6M317.2 287.8h.6M319.3 294.8h.6M318.8 288.1h.6M319.7 294.4h.6M319.3 290.5h.6M319.0 294.4h.6M317.7 286.5h.6M319.0 293.4h.6M318.5 294.7h.6M317.6 291.8h.6M318.0 293.7h.6M320.9 291.2h.6M321.6 296.6h.6M319.7 293.8h.6M321.2 291.5h.6M318.3 288.8h.6M319.2 296.0h.6M319.3 293.3h.6M318.2 292.5h.6M316.4 295.1h.6M317.9 288.7h.6M317.4 289.5h.6M319.8 295.2h.6M316.5 294.8h.6M319.8 290.3h.6M316.3 289.8h.6M317.5 293.0h.6M318.0 285.9h.6M318.9 287.4h.6M319.9 288.4h.6M317.5 289.4h.6M317.7 295.9h.6M319.8 293.8h.6M319.0 287.4h.6M317.7 290.3h.6M317.0 293.5h.6M317.4 289.9h.6M316.9 285.8h.6M319.4 296.0h.6M318.8 289.1h.6M314.4 292.5h.6M320.3 292.9h.6M319.9 296.4h.6M320.2 290.7h.6M320.1 294.3h.6M316.2 290.8h.6M316.4 291.7h.6M319.4 288.8h.6M315.4 295.9h.6M319.1 296.4h.6M316.5 295.2h.6M321.6 298.0h.6M318.2 292.8h.6M318.3 295.0h.6M320.1 292.3h.6M316.5 294.2h.6M317.8 293.9h.6M318.9 296.9h.6M320.2 290.6h.6M319.0 297.3h.6M317.7 293.3h.6M320.3 295.8h.6M319.3 288.0h.6M316.6 292.7h.6M319.1 299.6h.6M317.2 295.4h.6M319.7 287.0h.6M317.3 292.5h.6M317.8 291.5h.6M319.2 289.6h.6M319.2 290.1h.6M317.7 293.6h.6M317.6 292.9h.6M320.9 292.1h.6M318.3 294.2h.6M318.0 295.2h.6M316.6 293.9h.6M317.7 289.6h.6M321.2 289.4h.6M321.1 294.0h.6M320.7 289.1h.6M320.3 296.4h.6M318.3 291.6h.6M322.2 292.5h.6M317.9 290.1h.6M319.2 293.0h.6M318.8 297.2h.6M318.0 293.4h.6M320.7 289.0h.6M320.1 297.5h.6M316.5 288.7h.6M316.9 286.5h.6M319.2 286.4h.6M319.2 296.4h.6M316.1 291.1h.6M315.6 294.3h.6M317.4 291.2h.6M318.6 293.6h.6M318.0 292.0h.6M317.7 292.3h.6M316.7 292.2h.6M315.6 290.5h.6M321.4 292.2h.6M316.6 292.8h.6M317.0 287.0h.6M317.4 294.2h.6M307.4 281.2h.6M301.8 282.1h.6M311.4 280.1h.6M301.2 280.8h.6M302.0 287.4h.6M301.5 283.8h.6M306.7 281.5h.6M304.2 280.7h.6M302.9 285.9h.6M303.5 284.3h.6M299.3 284.4h.6M307.6 282.9h.6M302.0 284.6h.6M307.1 280.4h.6M307.4 280.1h.6M302.9 283.3h.6M295.4 286.3h.6M301.3 281.7h.6M304.8 283.7h.6M305.1 284.3h.6M300.8 282.2h.6M312.2 280.0h.6M309.2 279.4h.6M309.3 281.0h.6M308.5 281.0h.6M310.3 279.2h.6M301.5 281.7h.6M310.1 279.1h.6M301.5 282.5h.6M303.6 281.1h.6M304.5 281.7h.6M303.3 281.7h.6M305.9 281.3h.6M306.6 282.1h.6M306.1 278.6h.6M303.5 281.8h.6M308.1 278.7h.6M303.1 282.8h.6M305.2 283.8h.6M304.8 284.0h.6M299.3 282.1h.6M311.0 280.6h.6M308.0 281.4h.6M307.2 279.6h.6M309.4 279.8h.6M309.9 280.5h.6M297.7 283.6h.6M310.3 280.0h.6M304.6 283.0h.6M304.1 282.0h.6M306.5 282.0h.6M311.9 279.6h.6M314.3 281.3h.6M313.2 280.6h.6M306.6 282.0h.6M305.0 281.3h.6M305.4 281.3h.6M312.6 280.0h.6M303.2 280.3h.6M305.6 281.6h.6M301.2 282.3h.6M297.6 286.4h.6M307.2 285.4h.6M305.8 281.9h.6M311.7 279.8h.6M306.4 281.2h.6M304.5 284.9h.6M310.8 282.6h.6M304.7 282.6h.6M303.1 284.7h.6M300.9 285.0h.6M311.0 282.0h.6M303.0 284.9h.6M302.8 282.2h.6M301.5 285.7h.6M312.1 278.5h.6M302.9 282.8h.6M316.2 279.2h.6M302.9 280.6h.6M304.0 284.6h.6M313.1 278.6h.6M303.0 282.5h.6M299.2 286.3h.6M302.4 285.1h.6M298.7 283.2h.6M306.7 280.5h.6M309.0 280.7h.6M301.8 284.7h.6M308.2 278.2h.6M313.3 279.7h.6M307.9 278.4h.6M303.0 282.7h.6M309.4 278.4h.6M301.5 280.8h.6M305.3 282.8h.6M299.2 284.0h.6M308.8 283.2h.6M308.4 280.5h.6M300.9 282.7h.6M303.5 283.3h.6M306.7 284.2h.6M306.5 280.1h.6M312.5 280.7h.6M306.0 280.9h.6M298.2 283.7h.6M309.1 279.5h.6M301.0 284.4h.6M307.3 282.4h.6M309.3 282.7h.6M303.3 284.6h.6M302.6 284.5h.6M306.8 282.0h.6M309.7 280.4h.6M310.8 281.3h.6M306.2 281.0h.6M302.8 282.6h.6M305.2 282.3h.6M317.9 277.9h.6M308.5 279.6h.6M303.1 282.8h.6M306.2 280.3h.6M311.9 278.6h.6M308.9 277.2h.6M306.1 282.4h.6M307.1 282.5h.6M307.2 281.8h.6M298.3 284.2h.6M297.3 286.6h.6M307.1 281.2h.6M302.5 282.6h.6M314.1 281.2h.6M306.5 283.8h.6M298.8 282.1h.6M303.7 281.7h.6M303.9 283.2h.6M317.3 276.2h.6M306.3 282.3h.6M306.4 283.3h.6M312.2 277.5h.6M306.5 281.4h.6M306.5 279.4h.6M297.9 281.9h.6M308.1 281.4h.6M305.0 278.8h.6M304.1 281.6h.6M300.0 283.1h.6M309.0 281.6h.6M306.2 282.7h.6M303.7 283.1h.6M306.5 282.6h.6M305.7 281.9h.6M305.1 281.4h.6M314.9 279.0h.6M308.9 284.3h.6M310.6 277.7h.6M309.1 281.9h.6M314.0 280.6h.6M308.3 279.2h.6M302.8 283.8h.6M307.4 279.9h.6M304.3 282.1h.6M306.4 282.3h.6M304.2 280.9h.6M311.7 282.0h.6M306.1 283.5h.6M308.1 282.1h.6M307.4 280.2h.6M308.8 282.4h.6M303.6 286.0h.6M315.1 280.9h.6M314.1 279.7h.6M304.4 281.8h.6M302.9 283.5h.6M306.2 282.9h.6M299.4 288.3h.6M314.8 278.2h.6M308.9 281.5h.6M306.9 281.3h.6M305.1 281.1h.6M306.7 281.7h.6M306.8 280.4h.6M306.2 282.0h.6M307.8 279.6h.6M308.2 282.6h.6M308.1 280.5h.6M304.0 282.5h.6M309.7 282.8h.6M305.0 281.4h.6M307.6 281.6h.6M302.1 282.5h.6M306.0 283.0h.6M300.8 282.6h.6M307.3 279.6h.6M306.6 282.3h.6M305.0 280.9h.6M305.6 281.7h.6M306.8 280.4h.6M309.3 278.1h.6M305.3 282.3h.6M309.4 279.6h.6M307.8 280.4h.6M309.8 283.0h.6M304.7 283.2h.6M302.9 284.8h.6M310.7 280.1h.6M301.8 284.4h.6M311.0 281.5h.6M308.1 278.3h.6M304.1 284.9h.6M301.9 285.5h.6M313.7 279.9h.6M310.2 279.7h.6M301.2 283.9h.6M305.2 282.3h.6M308.6 280.7h.6M307.0 282.2h.6M307.0 284.4h.6M307.8 281.4h.6M304.9 281.5h.6M311.3 280.0h.6M301.5 283.0h.6M305.2 281.6h.6M309.6 278.7h.6M308.0 281.4h.6M301.5 284.0h.6M305.9 282.8h.6M304.4 283.1h.6M299.0 283.3h.6M309.6 282.1h.6M305.6 281.2h.6M309.0 277.5h.6M303.3 284.2h.6M308.0 279.6h.6M299.5 287.0h.6M306.1 280.6h.6M306.7 283.1h.6M296.6 287.7h.6M307.7 278.1h.6M308.0 278.4h.6M310.6 280.7h.6M314.4 277.5h.6M306.6 283.3h.6M303.1 282.1h.6M304.5 282.5h.6M302.1 284.4h.6M308.1 281.2h.6M312.4 278.8h.6M310.8 279.2h.6M307.9 278.3h.6M306.7 281.5h.6M303.8 282.0h.6M304.3 281.6h.6M297.2 284.8h.6M303.6 282.2h.6M301.8 283.6h.6M308.9 280.4h.6M304.8 284.6h.6M310.3 281.6h.6M310.3 279.7h.6M306.1 283.6h.6M303.8 282.8h.6M307.7 281.9h.6M305.5 283.7h.6M305.7 283.2h.6M310.5 281.1h.6M308.2 279.3h.6M300.6 283.3h.6M308.7 283.2h.6M301.4 284.4h.6M302.3 282.5h.6M305.3 283.3h.6M307.5 283.2h.6M302.7 284.8h.6M309.6 280.6h.6M307.5 280.5h.6M301.6 283.3h.6M305.1 286.8h.6M305.0 284.9h.6M307.0 282.1h.6M308.5 279.8h.6M309.8 281.0h.6M300.5 285.3h.6M308.4 281.7h.6M311.9 278.9h.6M308.4 282.1h.6M303.2 285.0h.6M299.7 282.7h.6M307.4 279.7h.6M304.7 280.1h.6M305.6 280.4h.6M306.5 279.5h.6M307.6 280.9h.6M306.2 281.8h.6M305.8 280.1h.6M296.1 286.2h.6M302.1 282.9h.6M306.6 278.7h.6M302.7 282.5h.6M302.1 284.2h.6M305.0 281.2h.6M302.6 284.7h.6M303.8 283.8h.6M306.7 278.8h.6M301.8 283.8h.6M307.7 282.4h.6M309.7 282.0h.6M304.4 282.3h.6M308.8 280.2h.6M309.2 278.2h.6M308.4 280.7h.6M298.9 286.5h.6M307.2 281.5h.6M301.6 283.2h.6M311.4 278.5h.6M292.1 286.6h.6M301.3 283.8h.6M304.0 281.5h.6M303.3 284.7h.6M301.5 286.9h.6M303.3 281.5h.6M309.4 281.4h.6M302.4 284.7h.6M298.4 283.8h.6M310.2 279.8h.6M301.2 284.8h.6M309.5 280.5h.6M298.8 284.5h.6M308.0 282.3h.6M313.0 278.6h.6M304.1 282.7h.6M310.2 278.8h.6M309.6 276.3h.6M308.7 279.8h.6M308.2 282.1h.6M301.4 283.8h.6M307.3 282.4h.6M301.9 282.2h.6M299.9 288.4h.6M305.1 282.0h.6M300.7 285.6h.6M304.7 284.7h.6M309.3 280.6h.6M308.2 279.4h.6M304.4 281.8h.6M301.1 284.1h.6M306.2 284.1h.6M292.7 286.6h.6M302.2 282.9h.6M307.9 281.8h.6M305.9 281.3h.6M308.1 281.7h.6M298.7 284.7h.6M300.0 282.7h.6M306.6 281.8h.6M306.0 280.7h.6M304.7 281.2h.6M307.9 282.3h.6M313.5 280.8h.6M302.6 282.7h.6M302.5 283.9h.6M314.0 279.7h.6M296.8 284.0h.6M301.3 284.8h.6M306.2 282.4h.6M312.4 278.0h.6M303.8 285.9h.6M306.9 280.4h.6M297.3 283.4h.6M296.6 286.1h.6M306.7 283.2h.6M305.1 281.3h.6M304.2 285.7h.6M299.3 285.1h.6M306.4 282.8h.6M304.7 283.3h.6M309.1 280.5h.6M304.1 282.5h.6M302.2 283.3h.6M304.9 282.8h.6M311.9 281.5h.6M304.6 283.5h.6M307.6 282.5h.6M306.2 282.3h.6M303.8 281.8h.6M310.1 282.2h.6M308.8 281.5h.6M306.8 281.0h.6M299.5 285.8h.6M306.5 281.0h.6M303.0 285.2h.6M300.0 287.2h.6M309.8 284.0h.6M303.2 283.1h.6M304.1 283.0h.6M304.8 281.4h.6M309.7 279.2h.6M304.3 283.5h.6M303.7 282.3h.6M307.2 280.9h.6M301.1 283.9h.6M306.1 284.6h.6M302.3 285.0h.6M302.8 282.8h.6M304.9 282.9h.6M310.3 282.8h.6M304.3 284.8h.6M310.3 281.4h.6M303.6 284.4h.6M305.8 282.6h.6M305.3 283.3h.6M310.9 281.6h.6M305.7 283.6h.6M311.1 278.4h.6M311.0 277.9h.6M308.4 281.9h.6M311.9 279.9h.6M303.7 281.8h.6M301.6 285.0h.6M304.7 281.5h.6M307.6 280.1h.6M304.1 282.1h.6M313.2 281.2h.6M304.5 280.2h.6M307.1 281.6h.6M307.7 282.2h.6M305.3 283.7h.6M309.4 280.9h.6M304.2 282.0h.6M308.1 279.4h.6M305.0 281.3h.6M300.9 285.1h.6M305.9 282.1h.6M308.6 278.6h.6M305.9 282.5h.6M308.6 279.2h.6M308.9 281.1h.6M311.9 281.3h.6M309.3 283.9h.6M305.8 281.5h.6M304.2 281.3h.6M304.9 279.6h.6M305.9 282.7h.6M309.6 279.9h.6M311.0 278.9h.6M304.5 279.8h.6M302.6 282.2h.6M311.9 280.3h.6M302.1 284.4h.6M307.7 280.9h.6M305.9 281.6h.6M313.2 274.9h.6M317.2 295.8h.6M330.6 285.1h.6M311.4 285.6h.6M325.9 289.4h.6M312.9 289.5h.6M316.2 290.5h.6M314.4 277.0h.6M318.5 292.2h.6M308.3 286.3h.6M325.7 284.4h.6M312.3 300.9h.6M325.3 294.0h.6M309.7 298.1h.6M303.5 283.5h.6M324.5 296.1h.6M309.9 282.5h.6M319.7 273.9h.6M323.6 290.8h.6M314.1 290.7h.6M324.8 289.1h.6M322.6 297.3h.6M313.8 288.1h.6M313.4 294.0h.6M314.4 290.2h.6M319.2 287.5h.6M333.0 286.4h.6M330.4 292.6h.6M329.5 285.9h.6M326.1 292.1h.6M312.7 288.8h.6M316.9 286.8h.6M329.3 282.1h.6M303.4 275.2h.6M314.1 282.6h.6M318.1 290.8h.6M333.3 289.1h.6M322.0 282.0h.6M323.0 296.2h.6M329.6 273.8h.6M325.7 297.7h.6M325.2 276.9h.6M315.3 291.0h.6M321.6 281.5h.6M310.3 293.5h.6M306.4 296.7h.6M318.2 289.0h.6M306.4 283.0h.6M324.0 277.1h.6M335.9 277.5h.6M307.4 287.3h.6M322.2 291.9h.6M314.8 285.6h.6M316.0 283.1h.6M295.7 293.5h.6M320.2 288.1h.6M312.6 288.7h.6M317.9 286.5h.6M327.6 275.4h.6M320.2 279.8h.6M315.3 297.1h.6M308.6 286.3h.6M312.9 293.4h.6M309.5 275.7h.6M322.4 284.6h.6M315.2 294.3h.6M310.3 284.5h.6M319.3 289.8h.6M313.5 294.0h.6M337.4 284.3h.6M334.2 272.8h.6M330.2 284.7h.6M319.2 284.7h.6M312.5 278.4h.6M314.6 295.7h.6M327.9 284.7h.6M313.4 282.3h.6M307.6 299.1h.6M323.7 287.8h.6M313.8 280.1h.6M329.4 292.2h.6M309.8 293.6h.6M308.4 291.3h.6M309.7 284.2h.6M322.3 289.9h.6M326.7 281.4h.6M331.6 296.0h.6M317.9 290.1h.6M311.3 286.0h.6M306.6 287.6h.6M319.7 296.0h.6M326.2 292.5h.6M314.9 285.5h.6M315.1 288.5h.6M301.3 292.2h.6M304.5 283.5h.6M318.2 283.5h.6M332.4 286.3h.6M331.6 294.9h.6M313.7 289.7h.6M329.2 284.8h.6M318.8 283.2h.6M318.5 284.6h.6M318.7 293.7h.6M330.0 287.9h.6M319.7 292.8h.6M315.5 279.9h.6M327.6 280.7h.6M326.0 280.5h.6M333.8 280.0h.6M325.3 297.1h.6M309.7 297.0h.6M310.9 275.1h.6M324.2 291.7h.6M316.2 270.0h.6M317.5 284.9h.6M314.7 285.1h.6M302.5 283.2h.6M333.6 297.4h.6M314.9 282.2h.6M321.4 294.1h.6M324.2 279.1h.6M319.4 287.9h.6M330.4 295.0h.6M322.5 295.2h.6M314.6 297.3h.6M314.3 289.7h.6M325.9 280.9h.6M311.9 275.2h.6M319.4 286.6h.6M315.2 290.3h.6M299.7 286.8h.6M318.8 285.2h.6M324.9 298.8h.6M314.1 280.7h.6M312.8 287.6h.6M323.1 281.2h.6M326.6 280.1h.6M325.1 289.9h.6M322.0 301.5h.6M315.7 285.9h.6M322.1 292.8h.6M306.4 288.8h.6M311.6 291.2h.6M329.8 287.3h.6M317.1 288.2h.6M292.5 292.2h.6M322.8 288.1h.6M314.6 282.1h.6M316.5 295.2h.6" stroke="#111" stroke-width=".6" opacity=".85"/>
<ellipse cx="321.8" cy="284.6" rx="7.32" ry="6.71" transform="rotate(0 321.8 284.6)" fill="#000" opacity="0.22"/>
<ellipse cx="321.8" cy="284.6" rx="6.6" ry="6.05" transform="rotate(0 321.8 284.6)" fill="#000" opacity="0.4"/>
<ellipse cx="321.8" cy="284.6" rx="6" ry="5.5" transform="rotate(0 321.8 284.6)" fill="#000" opacity="1"/>
<ellipse cx="319" cy="290" rx="3.05" ry="3.66" transform="rotate(0 319 290)" fill="#000" opacity="0.2"/>
<ellipse cx="319" cy="290" rx="2.75" ry="3.3" transform="rotate(0 319 290)" fill="#000" opacity="0.36"/>
<ellipse cx="319" cy="290" rx="2.5" ry="3" transform="rotate(0 319 290)" fill="#000" opacity="0.9"/>
<text x="276.6" y="252.2" font-size="8.6" font-weight="bold" fill="#111">0</text>
<text x="321.6" y="252.2" font-size="8.6" font-weight="bold" fill="#111">0.16</text>
<text x="276.6" y="305.5" font-size="8.6" font-weight="bold" fill="#111">10.1</text>
<text x="321.6" y="305.5" font-size="8.6" font-weight="bold" fill="#111">89.8</text>
<rect x="355" y="240.3" width="73.6" height="73.1" fill="none" stroke="#b8b8b8" stroke-width="1"/>
<line x1="394" y1="240.3" x2="394" y2="313.4" stroke="#6a6a6a" stroke-width="1.1"/>
<line x1="355" y1="276.3" x2="428.6" y2="276.3" stroke="#6a6a6a" stroke-width="1.1"/>
<path d="M397.6 275.8h.6M380.1 278.4h.6M397.6 270.6h.6M385.1 274.9h.6M401.3 263.7h.6M388.4 271.5h.6M393.8 275.2h.6M396.2 263.6h.6M403.7 265.1h.6M395.2 278.3h.6M393.5 268.1h.6M391.1 271.4h.6M389.5 273.8h.6M401.7 269.7h.6M392.3 284.2h.6M390.3 275.0h.6M397.4 273.6h.6M394.8 273.9h.6M408.6 265.0h.6M390.1 276.0h.6M390.7 273.0h.6M397.7 271.9h.6M395.7 274.9h.6M392.8 268.3h.6M400.6 267.6h.6M402.1 265.7h.6M399.9 270.6h.6M377.7 275.8h.6M391.7 279.3h.6M386.3 280.3h.6M403.2 269.4h.6M399.2 267.9h.6M396.3 272.2h.6M399.6 272.2h.6M393.7 270.1h.6M393.3 274.5h.6M384.2 273.2h.6M392.7 271.2h.6M390.1 264.5h.6M393.6 271.9h.6M397.4 263.2h.6M395.0 273.9h.6M400.8 273.5h.6M400.5 265.0h.6M399.2 268.5h.6M393.7 278.6h.6M390.9 271.0h.6M392.2 270.3h.6M402.6 269.4h.6M404.9 268.2h.6M394.1 276.6h.6M391.4 272.2h.6M395.1 272.2h.6M402.1 265.9h.6M398.0 270.3h.6M386.8 272.3h.6M395.4 273.4h.6M398.7 271.9h.6M395.6 270.0h.6M396.9 267.2h.6M387.5 274.9h.6M386.7 274.6h.6M390.7 272.3h.6M394.4 269.3h.6M390.7 267.8h.6M395.4 268.4h.6M393.8 261.8h.6M391.6 274.8h.6M381.0 278.3h.6M396.7 271.5h.6M387.5 277.0h.6M395.3 268.1h.6M400.3 268.9h.6M395.4 270.1h.6M399.4 270.0h.6M403.5 269.2h.6M392.0 272.8h.6M400.9 267.4h.6M399.1 271.8h.6M391.2 265.2h.6M397.1 271.7h.6M395.6 268.8h.6M403.0 267.2h.6M391.1 271.4h.6M396.4 267.1h.6M393.3 280.7h.6M405.5 270.4h.6M405.1 268.8h.6M387.9 280.5h.6M404.2 268.9h.6M386.4 281.5h.6M403.3 265.6h.6M398.0 273.4h.6M397.3 275.0h.6M397.6 273.3h.6M394.1 266.8h.6M395.2 284.2h.6M399.8 274.5h.6M405.6 272.9h.6M398.3 267.9h.6M393.0 265.7h.6M396.4 274.8h.6M383.4 279.1h.6M403.1 272.8h.6M389.4 272.6h.6M383.2 274.6h.6M402.6 275.9h.6M391.4 279.3h.6M397.7 268.6h.6M405.0 256.8h.6M396.0 272.4h.6M411.6 269.9h.6M409.7 264.5h.6M404.1 272.4h.6M399.6 270.9h.6M394.2 270.9h.6M391.8 281.3h.6M389.9 266.7h.6M397.5 270.5h.6M400.0 276.3h.6M394.9 271.1h.6M391.5 273.9h.6M393.7 273.5h.6M415.3 262.5h.6M394.0 280.1h.6M402.5 271.1h.6M401.6 271.6h.6M402.3 273.5h.6M404.2 272.2h.6M393.0 273.1h.6M393.2 276.7h.6M400.2 267.4h.6M403.8 277.4h.6M401.6 264.1h.6M396.5 273.7h.6M396.4 272.8h.6M403.6 268.6h.6M390.6 277.2h.6M395.6 272.2h.6M390.4 269.2h.6M388.0 274.5h.6M385.2 266.9h.6M401.0 264.3h.6M392.5 275.5h.6M383.8 283.4h.6M392.5 276.0h.6M393.6 274.0h.6M396.6 271.2h.6M382.7 273.1h.6M398.1 275.9h.6M393.6 274.9h.6M397.8 272.4h.6M399.5 263.8h.6M397.4 270.1h.6M392.7 270.0h.6M389.6 271.0h.6M393.5 282.6h.6M406.2 266.0h.6M398.8 266.2h.6M376.4 275.1h.6M399.2 275.3h.6M394.1 268.6h.6M392.9 269.3h.6M387.3 275.4h.6M392.3 270.4h.6M389.2 271.6h.6M399.7 274.9h.6M398.4 278.9h.6M386.8 277.6h.6M388.8 274.8h.6M397.5 272.8h.6M401.9 266.1h.6M388.3 275.0h.6M396.6 268.4h.6M404.1 273.6h.6M388.1 277.2h.6M398.9 262.4h.6M396.9 270.2h.6M389.6 280.1h.6M396.5 269.4h.6M399.7 272.0h.6M401.6 270.7h.6M396.5 266.6h.6M393.7 273.3h.6M382.9 286.9h.6M392.0 269.6h.6M385.5 278.2h.6M395.2 269.6h.6M392.1 270.2h.6M391.4 273.7h.6M393.3 275.6h.6M395.4 272.4h.6M400.5 274.0h.6M400.0 270.2h.6M393.7 269.6h.6M395.1 274.7h.6M396.7 269.6h.6M385.5 271.3h.6M399.6 273.5h.6M396.0 266.2h.6M395.1 272.9h.6M391.1 275.5h.6M393.4 269.7h.6M389.9 278.0h.6M396.7 267.7h.6M391.4 277.5h.6M399.1 268.6h.6M405.1 265.4h.6M391.5 278.2h.6M395.4 273.1h.6M394.6 268.4h.6M388.6 274.8h.6M402.8 263.9h.6M404.5 267.7h.6M389.8 275.9h.6M397.9 267.0h.6M383.8 279.5h.6M390.1 276.4h.6M384.3 277.3h.6M388.7 269.7h.6M394.8 272.8h.6M390.7 269.8h.6M394.4 265.6h.6M400.0 271.2h.6M407.5 268.7h.6M398.5 271.1h.6M394.0 267.5h.6M405.6 268.3h.6M392.4 269.0h.6M405.7 268.2h.6M390.0 277.4h.6M407.3 265.2h.6M397.7 269.0h.6M394.0 276.8h.6M414.6 261.8h.6M396.6 274.3h.6M395.4 274.7h.6M399.3 265.8h.6M389.5 274.8h.6M401.4 269.6h.6M401.2 263.4h.6M397.9 268.0h.6M397.1 272.1h.6M389.8 274.0h.6M389.5 276.1h.6M390.1 272.8h.6M396.2 268.8h.6M401.8 265.9h.6M401.5 269.6h.6M389.5 274.2h.6M390.4 273.1h.6M397.3 277.8h.6M396.1 277.5h.6M396.5 266.2h.6M383.3 281.0h.6M385.3 280.1h.6M402.8 269.3h.6M394.3 271.4h.6M397.1 269.8h.6M392.2 272.1h.6M402.0 265.8h.6M396.4 266.8h.6M389.5 269.7h.6M395.9 274.2h.6M397.0 269.0h.6M399.1 268.5h.6M398.7 271.1h.6M395.2 262.4h.6M389.5 278.0h.6M399.0 278.5h.6M393.7 270.6h.6M405.8 268.3h.6M408.1 266.9h.6M396.0 274.3h.6M390.6 272.7h.6M392.3 272.6h.6M399.8 267.5h.6M397.1 269.0h.6M396.8 260.4h.6M395.0 272.7h.6M391.2 278.0h.6M399.4 274.6h.6M402.8 270.3h.6M393.4 268.8h.6M393.9 270.8h.6M396.7 269.3h.6M411.6 256.8h.6M402.2 266.3h.6M396.1 275.0h.6M394.1 267.9h.6M398.1 269.6h.6M384.1 278.8h.6M388.5 272.7h.6M399.3 270.8h.6M397.8 278.9h.6M397.5 268.3h.6M397.2 270.4h.6M380.4 274.0h.6M391.1 282.1h.6M394.5 271.3h.6M394.2 276.2h.6M398.9 276.5h.6M403.3 273.8h.6M395.9 273.0h.6M393.2 272.4h.6M384.8 275.4h.6M389.3 272.6h.6M403.6 268.3h.6M404.6 270.1h.6M403.1 271.5h.6M393.7 275.8h.6M393.2 271.0h.6M406.6 274.0h.6M393.0 279.8h.6M399.5 266.3h.6M398.2 271.7h.6M397.6 269.2h.6M388.4 275.8h.6M402.4 271.0h.6M401.7 272.6h.6M390.1 274.6h.6M399.6 273.4h.6M397.8 272.5h.6M400.2 277.3h.6M383.0 278.5h.6M411.0 264.2h.6M385.4 277.8h.6M386.4 274.1h.6M400.1 275.8h.6M399.8 272.0h.6M402.3 268.8h.6M390.8 274.0h.6M397.5 269.6h.6M391.5 272.6h.6M385.5 273.3h.6M394.9 270.7h.6M398.5 275.5h.6M397.7 270.4h.6M387.3 272.1h.6M396.8 267.7h.6M396.8 266.9h.6M396.7 270.9h.6M401.3 267.1h.6M394.2 273.4h.6M399.1 276.3h.6M393.6 270.7h.6M394.9 273.9h.6M398.5 272.8h.6M391.8 283.3h.6M406.8 265.5h.6M389.1 275.9h.6M394.8 263.6h.6M393.7 267.1h.6M400.9 274.1h.6M399.7 263.7h.6M405.6 269.7h.6M394.7 274.1h.6M404.4 265.6h.6M395.0 269.9h.6M399.4 261.4h.6M402.8 264.1h.6M398.9 263.7h.6M389.5 272.8h.6M398.3 264.0h.6M398.5 267.7h.6M402.8 266.6h.6M398.6 269.4h.6M406.0 264.6h.6M399.1 277.4h.6M397.6 273.3h.6M392.0 274.5h.6M382.8 279.1h.6M389.8 269.1h.6M389.5 279.4h.6M396.1 265.6h.6M405.6 263.6h.6M394.2 273.4h.6M386.7 270.4h.6M393.5 277.4h.6M399.1 263.8h.6M403.2 267.7h.6M399.0 270.0h.6M396.8 267.2h.6M389.5 272.4h.6M394.8 274.5h.6M391.4 280.1h.6M391.3 271.8h.6M400.9 270.5h.6M392.3 269.4h.6M387.5 270.0h.6M404.5 271.0h.6M407.8 266.9h.6M399.2 272.7h.6M401.2 267.7h.6M401.6 276.7h.6M383.7 272.8h.6M391.5 276.8h.6M402.5 266.7h.6M399.9 269.2h.6M396.9 268.9h.6M395.8 271.6h.6M406.3 274.4h.6M386.1 278.9h.6M397.5 274.4h.6M403.5 270.4h.6M399.2 266.1h.6M388.6 281.9h.6M401.6 264.8h.6M404.7 269.3h.6M382.9 282.1h.6M392.0 278.1h.6M390.8 271.5h.6M386.5 275.9h.6M400.9 266.2h.6M388.5 283.9h.6M408.0 267.6h.6M390.9 269.7h.6M387.2 278.4h.6M402.0 264.2h.6M395.5 270.7h.6M395.3 273.8h.6M407.4 262.8h.6M402.8 272.0h.6M394.1 272.0h.6M389.8 279.0h.6M391.8 271.3h.6M395.0 268.7h.6M389.3 274.0h.6M404.5 266.1h.6M396.7 265.5h.6M387.4 283.2h.6M391.2 268.2h.6M396.4 273.6h.6M384.3 274.5h.6M396.0 267.9h.6M402.3 271.8h.6M397.9 268.8h.6M394.7 269.8h.6M395.7 272.9h.6M395.8 275.4h.6M410.5 261.5h.6M399.4 272.8h.6M399.4 268.7h.6M394.8 276.0h.6M400.5 271.0h.6M392.3 276.0h.6M400.4 268.4h.6M403.4 275.8h.6M385.8 279.4h.6M386.8 271.2h.6M395.5 273.9h.6M394.4 267.9h.6M386.6 274.5h.6M394.7 269.0h.6M389.9 281.6h.6M390.8 273.8h.6M391.8 271.5h.6M395.8 270.5h.6M397.8 266.0h.6M390.3 282.1h.6M396.8 274.0h.6M403.9 269.3h.6M393.7 266.8h.6M388.1 279.6h.6M401.0 271.0h.6M382.7 270.5h.6M387.8 271.4h.6M395.3 267.9h.6M404.4 264.5h.6M394.1 275.9h.6M396.5 267.8h.6M404.0 274.6h.6M388.3 274.8h.6M386.4 269.2h.6M400.9 271.5h.6M402.5 269.6h.6M384.0 278.0h.6M390.1 270.2h.6M390.6 277.4h.6M397.4 278.3h.6M395.7 264.3h.6M403.4 272.3h.6M394.2 267.8h.6M404.4 261.8h.6M392.4 266.1h.6M385.7 270.5h.6M404.4 271.5h.6M391.4 268.8h.6M396.3 272.8h.6M385.0 273.0h.6M396.5 273.9h.6M397.2 272.6h.6M384.5 268.1h.6M396.4 267.7h.6M394.6 270.8h.6M397.6 267.6h.6M404.7 266.9h.6M400.2 271.7h.6M402.9 269.3h.6M384.5 275.3h.6M407.9 266.8h.6M400.1 271.1h.6M391.0 271.6h.6M394.0 277.1h.6M401.1 275.6h.6M402.1 275.5h.6M396.8 266.4h.6M407.0 266.8h.6M403.5 268.2h.6M394.3 273.1h.6M387.3 271.6h.6M389.8 272.8h.6M387.7 275.7h.6M401.2 276.6h.6M407.0 265.3h.6M401.0 267.9h.6M398.3 270.1h.6M392.9 273.5h.6M387.8 277.7h.6M392.5 269.2h.6M394.7 274.4h.6M392.7 275.2h.6M402.0 274.3h.6M389.2 274.8h.6M401.6 274.3h.6M398.8 272.9h.6M386.2 274.6h.6M405.6 265.2h.6M407.9 262.1h.6M391.7 267.6h.6M400.3 270.2h.6M408.5 265.3h.6M392.2 268.1h.6M397.1 274.6h.6M402.5 272.8h.6M401.2 268.5h.6M400.0 270.0h.6M390.8 281.1h.6M396.5 267.1h.6M398.8 271.1h.6M404.4 272.6h.6M378.5 283.3h.6M403.7 263.5h.6M385.2 278.5h.6M398.6 271.4h.6M388.5 273.8h.6M398.4 273.1h.6M409.8 265.1h.6M388.4 266.3h.6M402.3 267.5h.6M393.7 268.9h.6M397.5 263.6h.6M396.9 271.5h.6M400.0 274.5h.6M395.6 272.1h.6M398.6 263.9h.6M394.3 272.7h.6M400.5 265.9h.6M401.5 270.0h.6M384.5 271.9h.6M387.5 276.7h.6M398.5 273.0h.6M400.1 267.1h.6M403.9 270.4h.6M399.7 271.4h.6M388.8 276.9h.6M387.7 271.3h.6M394.1 273.1h.6M395.1 270.7h.6M390.2 275.4h.6M389.1 269.7h.6M399.0 275.6h.6M391.8 269.6h.6M407.3 272.1h.6M393.9 271.8h.6M402.2 279.8h.6M398.5 274.1h.6M395.7 264.5h.6M387.2 271.4h.6M398.8 270.4h.6M406.5 264.7h.6M398.0 270.7h.6M400.7 278.1h.6M400.2 275.1h.6M402.9 265.3h.6M399.6 268.0h.6M396.9 271.6h.6M395.3 270.0h.6M405.1 265.5h.6M403.1 274.3h.6M401.5 272.5h.6M406.3 270.2h.6M404.1 261.4h.6M408.0 265.0h.6M384.2 275.4h.6M387.4 276.1h.6M385.2 273.4h.6M398.1 271.0h.6M390.7 273.5h.6M395.5 272.1h.6M395.6 270.8h.6M398.7 263.6h.6M393.2 273.6h.6M392.6 271.1h.6M393.7 273.6h.6M403.3 266.8h.6M395.0 273.5h.6M391.3 266.4h.6M397.0 269.4h.6M393.5 275.3h.6M395.3 269.6h.6M379.8 273.5h.6M395.9 271.1h.6M399.1 270.7h.6M390.9 269.2h.6M389.0 274.7h.6M390.2 277.7h.6M384.9 270.4h.6M391.8 266.7h.6M404.3 263.0h.6M395.3 270.9h.6M388.0 268.8h.6M386.0 280.4h.6M405.9 274.7h.6M388.0 278.1h.6M397.3 274.1h.6M394.1 275.4h.6M402.5 270.4h.6M404.6 266.1h.6M404.3 264.2h.6M401.6 257.5h.6M394.7 269.0h.6M397.7 274.7h.6M400.6 269.4h.6M404.0 261.3h.6M393.5 278.9h.6M394.5 264.0h.6M396.1 266.7h.6M407.0 270.1h.6M394.8 277.3h.6M392.4 277.1h.6M399.3 269.2h.6M386.8 275.4h.6M381.0 277.5h.6M386.7 281.4h.6M386.0 267.3h.6M400.2 270.7h.6M396.4 279.7h.6M400.9 269.1h.6M387.1 264.6h.6M400.6 272.8h.6M390.0 269.1h.6M392.9 266.5h.6M397.3 273.8h.6M405.7 267.2h.6M398.5 273.1h.6M404.1 265.8h.6M387.1 273.2h.6M386.8 273.0h.6M395.8 273.0h.6M397.1 271.2h.6M394.5 274.0h.6M402.7 270.9h.6M404.7 265.6h.6M397.3 277.5h.6M397.9 272.1h.6M395.6 275.6h.6M391.8 269.8h.6M394.9 270.3h.6M400.5 267.5h.6M396.4 270.4h.6M397.0 268.4h.6M400.4 263.4h.6M392.4 270.6h.6M400.0 269.4h.6M398.4 268.9h.6M389.7 270.5h.6M393.0 271.0h.6M398.3 271.7h.6M401.8 267.9h.6M389.6 270.8h.6M397.0 272.4h.6M408.3 265.5h.6M409.9 271.4h.6M391.6 278.7h.6M405.2 271.8h.6M397.5 274.5h.6M392.9 272.9h.6M399.1 276.9h.6M396.3 275.2h.6M395.2 269.1h.6M398.6 272.7h.6M392.7 275.8h.6M390.2 271.2h.6M397.0 270.0h.6M387.2 269.8h.6M396.6 272.2h.6M393.5 273.6h.6M387.3 277.8h.6M399.0 271.0h.6M388.9 283.6h.6M392.7 291.6h.6M393.4 285.0h.6M388.4 289.9h.6M397.9 279.1h.6M395.2 285.5h.6M391.8 272.7h.6M400.8 268.1h.6M393.5 280.0h.6M397.7 279.6h.6M392.2 287.9h.6M394.3 278.8h.6M395.4 286.1h.6M396.9 278.9h.6M391.8 279.9h.6M387.8 285.0h.6M394.0 294.3h.6M390.4 286.1h.6M397.7 282.1h.6M392.3 284.1h.6M388.6 275.1h.6M397.6 284.4h.6M391.6 273.1h.6M392.6 292.4h.6M386.3 275.9h.6M397.5 294.4h.6M399.7 278.6h.6M395.0 277.0h.6M394.6 280.1h.6M393.0 293.7h.6M393.7 281.1h.6M392.3 285.1h.6M389.4 284.6h.6M395.0 295.4h.6M381.7 273.5h.6M385.8 290.0h.6M404.1 284.5h.6M392.6 292.1h.6M379.9 281.6h.6M376.5 284.2h.6M389.5 279.1h.6M393.7 278.4h.6M397.5 283.0h.6M393.9 303.2h.6M389.8 290.4h.6M387.9 292.9h.6M396.8 284.1h.6M396.9 295.8h.6M398.8 283.0h.6M391.7 291.8h.6M384.7 278.2h.6M394.4 287.5h.6M401.2 297.0h.6M393.6 286.5h.6M385.5 281.5h.6M393.3 281.2h.6M392.3 287.8h.6M387.3 278.5h.6M383.2 292.1h.6M386.8 269.5h.6M395.8 281.3h.6M396.8 280.1h.6M402.5 288.7h.6M392.7 283.9h.6M391.0 289.4h.6M401.9 279.7h.6M386.6 287.7h.6M397.3 271.2h.6M388.6 275.1h.6M394.8 287.0h.6M388.4 274.1h.6M395.4 266.8h.6M395.2 281.8h.6M401.5 290.9h.6M389.1 280.8h.6M390.6 277.3h.6M392.4 290.6h.6M384.6 281.2h.6M399.4 288.9h.6M388.0 276.6h.6M387.8 270.3h.6M397.7 283.5h.6M388.6 271.7h.6M390.1 279.0h.6M400.5 279.4h.6M392.6 291.4h.6M395.3 281.6h.6M381.3 294.0h.6M394.9 279.6h.6M391.6 275.5h.6M387.6 271.3h.6M394.5 287.1h.6M392.9 289.1h.6M394.6 284.0h.6M387.7 287.6h.6M397.8 288.0h.6M398.1 279.3h.6M387.2 292.8h.6M389.1 284.9h.6M391.1 283.2h.6M390.7 278.8h.6M383.2 298.0h.6M393.0 267.9h.6M387.5 274.2h.6M388.4 263.0h.6M394.8 295.9h.6M390.8 288.8h.6M394.9 273.2h.6M398.0 269.8h.6M389.2 280.2h.6M398.2 283.9h.6M391.4 276.7h.6M392.4 283.3h.6M395.6 293.9h.6M395.6 283.1h.6M391.3 295.5h.6M393.0 282.9h.6M400.8 295.3h.6M394.8 282.1h.6M388.9 291.4h.6M389.8 290.5h.6M388.2 283.8h.6M394.0 284.1h.6M393.1 286.0h.6M386.5 274.3h.6M391.3 297.1h.6M391.4 275.7h.6M388.8 283.3h.6M397.8 278.6h.6M394.7 284.5h.6M390.3 275.6h.6M391.3 277.3h.6M394.6 269.2h.6M397.5 288.9h.6M394.8 294.7h.6M394.9 269.6h.6M392.3 286.5h.6M388.7 274.2h.6M394.1 287.0h.6M389.9 281.1h.6M389.5 278.6h.6M391.7 291.4h.6M384.1 280.3h.6M399.9 285.5h.6M392.8 289.5h.6M387.1 273.6h.6M383.9 271.6h.6M393.2 289.6h.6M390.0 277.7h.6M394.0 287.8h.6M393.3 268.1h.6M389.3 263.3h.6M393.2 276.4h.6M388.8 294.7h.6M398.4 286.8h.6M393.3 284.3h.6M389.1 282.6h.6M401.3 276.2h.6M388.8 284.3h.6M396.3 289.5h.6M387.3 282.0h.6M390.7 273.4h.6M392.4 279.3h.6M396.5 286.4h.6M388.2 283.6h.6M390.3 278.1h.6M389.6 291.3h.6M390.0 269.7h.6M388.2 289.3h.6M402.5 274.8h.6M390.3 280.4h.6M385.2 286.1h.6M391.8 285.2h.6M402.9 280.9h.6M395.9 289.5h.6M388.9 278.4h.6M399.6 288.6h.6M392.7 274.5h.6M396.3 287.1h.6M402.7 294.5h.6M395.9 285.1h.6M392.3 278.7h.6M393.5 284.9h.6M395.2 291.5h.6M393.5 278.8h.6M395.9 295.1h.6M387.9 286.3h.6M394.7 287.2h.6M394.5 282.3h.6M391.5 296.1h.6M400.4 272.1h.6M379.7 286.4h.6M388.7 279.0h.6M384.3 285.8h.6M391.7 278.8h.6M396.4 301.9h.6M399.2 292.1h.6M390.0 288.1h.6M391.8 292.0h.6M394.8 282.7h.6M394.7 277.4h.6M395.9 294.7h.6M390.2 287.3h.6M383.9 290.3h.6M396.3 275.1h.6M400.5 283.9h.6M383.6 272.4h.6M396.2 280.9h.6M397.4 271.0h.6M391.5 290.6h.6M388.7 288.3h.6M390.3 285.7h.6M393.6 300.4h.6M386.0 289.1h.6M398.4 274.3h.6M392.4 301.0h.6M397.1 259.9h.6M390.8 269.7h.6M393.5 277.4h.6M389.3 276.5h.6M393.4 279.4h.6M387.6 281.2h.6M394.0 276.3h.6M397.4 270.1h.6M394.0 280.0h.6M399.6 278.0h.6M388.8 272.6h.6M401.6 287.8h.6M386.7 280.4h.6M387.3 294.8h.6M394.0 267.2h.6M393.0 290.1h.6M392.0 286.7h.6M391.5 284.6h.6M393.0 277.5h.6M393.7 284.3h.6M391.8 277.7h.6M387.1 284.9h.6M396.0 264.2h.6M389.4 293.5h.6M396.4 277.5h.6M398.6 275.3h.6M388.2 298.1h.6M389.9 281.3h.6M384.0 275.1h.6M386.3 281.9h.6M383.1 291.3h.6M390.3 278.3h.6M388.9 288.8h.6M399.5 279.8h.6M399.8 295.5h.6M398.5 285.3h.6M384.8 288.2h.6M390.0 284.5h.6M382.8 280.8h.6M393.1 275.7h.6M393.4 296.0h.6M393.1 277.7h.6M403.6 266.2h.6M387.5 286.2h.6M389.1 265.1h.6M393.3 289.5h.6M388.1 294.4h.6M394.4 292.3h.6M384.6 283.0h.6M399.8 298.7h.6M398.4 283.0h.6M392.9 278.1h.6M397.3 277.6h.6M392.6 266.9h.6M384.7 296.9h.6M392.3 284.7h.6M381.3 282.7h.6M402.1 271.3h.6M380.4 281.7h.6M389.4 281.4h.6M385.9 272.4h.6M386.0 288.0h.6M391.8 289.4h.6M386.7 287.6h.6M389.8 283.7h.6M396.6 283.3h.6M390.3 270.0h.6M392.3 289.1h.6M388.9 282.5h.6M383.4 272.6h.6M394.0 293.1h.6M390.5 269.9h.6M390.1 270.8h.6M390.7 298.1h.6M393.5 281.8h.6M397.1 280.0h.6M393.6 284.6h.6M394.2 271.5h.6M395.5 289.9h.6M380.8 261.7h.6M387.6 294.7h.6M392.1 288.3h.6M394.7 290.0h.6M388.9 278.4h.6M393.8 287.8h.6M394.8 285.7h.6M389.6 291.7h.6M394.3 291.4h.6M379.5 290.9h.6M380.0 284.7h.6M388.7 283.9h.6M389.7 280.6h.6M392.9 285.7h.6M388.1 263.1h.6M388.2 287.3h.6M387.8 286.4h.6M390.2 275.6h.6M397.8 296.1h.6M391.5 282.6h.6M396.7 272.5h.6M387.7 291.9h.6M396.4 279.1h.6M388.2 285.8h.6M385.1 279.1h.6M390.9 263.5h.6M394.9 289.0h.6M397.3 271.6h.6M385.7 276.6h.6M385.5 299.3h.6M387.2 280.5h.6M393.0 286.6h.6M399.2 274.4h.6M396.4 284.2h.6M386.2 284.2h.6M385.1 295.9h.6M388.4 291.0h.6M398.4 278.1h.6M387.6 284.0h.6M386.8 290.1h.6M392.9 276.9h.6M388.6 288.8h.6M384.8 296.4h.6M388.1 281.4h.6M387.4 295.9h.6M396.1 293.3h.6M395.2 283.7h.6M400.4 288.3h.6M394.2 287.6h.6M395.7 285.2h.6M391.2 270.3h.6M402.2 272.6h.6M381.3 277.3h.6M401.6 292.7h.6M389.0 285.1h.6M397.7 254.2h.6M394.0 276.9h.6M412.0 262.0h.6M371.0 258.3h.6M402.0 274.8h.6M399.8 275.5h.6M393.6 260.4h.6M403.4 277.9h.6M404.9 286.4h.6M383.2 250.6h.6M376.6 295.3h.6M387.0 278.0h.6M397.8 281.3h.6M396.0 268.0h.6M400.9 279.2h.6M386.4 287.2h.6M411.8 278.4h.6M396.7 271.6h.6M378.3 280.6h.6M386.3 269.0h.6M410.0 264.8h.6M391.7 282.6h.6M420.3 267.1h.6M411.2 267.5h.6M402.7 278.8h.6M384.3 284.3h.6M419.6 274.5h.6M401.2 262.3h.6M419.5 274.6h.6M382.7 281.6h.6M380.5 267.1h.6M372.4 287.8h.6M424.5 267.7h.6M390.2 268.2h.6M391.2 279.5h.6M415.5 263.9h.6M403.3 256.0h.6M416.3 273.1h.6M389.6 289.3h.6M396.7 287.7h.6M410.9 290.6h.6M388.4 274.6h.6M402.4 272.1h.6M416.3 266.9h.6M410.0 287.6h.6M374.6 264.3h.6M387.2 268.5h.6M402.7 272.3h.6M398.9 269.4h.6M397.0 278.8h.6M406.9 266.2h.6M396.6 266.4h.6M395.9 259.6h.6M409.5 280.7h.6M396.5 267.2h.6M392.5 267.3h.6M379.5 290.3h.6M384.0 279.8h.6M405.3 258.3h.6M374.9 279.4h.6M374.1 288.2h.6M392.1 274.9h.6M398.0 268.4h.6M396.3 271.0h.6M412.9 273.1h.6M397.6 268.7h.6M390.4 266.6h.6M398.1 292.4h.6M411.4 276.4h.6M418.0 284.1h.6M400.5 272.4h.6M384.8 276.5h.6M394.2 258.1h.6M382.6 293.4h.6M400.6 279.0h.6M400.4 269.4h.6M403.5 284.8h.6M394.3 279.1h.6M410.3 269.2h.6M400.0 266.6h.6M405.2 270.3h.6M411.8 266.4h.6M418.3 270.9h.6M387.9 265.0h.6M406.0 265.4h.6M419.7 286.8h.6M404.2 259.8h.6M397.7 266.7h.6M376.3 278.3h.6M424.4 268.6h.6M407.7 286.8h.6M386.5 270.6h.6M401.2 278.7h.6M384.3 276.2h.6M396.7 283.5h.6M378.8 268.4h.6M392.0 270.8h.6M406.7 267.7h.6M408.1 284.2h.6M409.6 272.0h.6M388.0 271.4h.6M406.0 275.2h.6M405.0 279.7h.6M387.4 264.6h.6M415.3 269.1h.6M379.0 292.6h.6M388.0 264.7h.6M409.6 262.7h.6M387.5 284.5h.6M388.2 299.1h.6M399.2 300.8h.6M399.6 274.6h.6M390.3 271.8h.6M392.0 273.8h.6M407.3 261.3h.6M387.0 253.1h.6M416.0 273.3h.6M397.8 273.4h.6M410.1 277.2h.6M408.2 272.3h.6M396.5 273.4h.6M375.7 284.9h.6M379.1 264.1h.6M406.1 274.6h.6M407.8 291.1h.6M420.3 287.8h.6M395.3 294.5h.6M387.4 273.1h.6M410.0 271.9h.6M396.5 270.5h.6M414.4 249.3h.6M413.3 284.6h.6M397.1 279.6h.6M386.4 285.1h.6M414.8 273.4h.6M393.9 269.1h.6M395.7 261.5h.6M381.7 290.6h.6M397.8 279.5h.6M401.7 278.8h.6M379.7 264.5h.6M405.6 284.0h.6M384.3 268.2h.6M385.2 280.5h.6M402.1 274.3h.6M390.2 277.4h.6M398.4 266.6h.6M402.0 267.4h.6M409.4 280.3h.6M389.7 279.9h.6M398.8 266.9h.6M387.0 257.4h.6M384.4 277.5h.6M412.5 267.7h.6M399.9 277.4h.6M407.4 278.4h.6M412.7 281.7h.6M388.9 278.0h.6M369.9 272.2h.6M398.2 279.8h.6M394.4 282.3h.6M413.9 265.6h.6M391.5 276.6h.6M403.9 275.4h.6M408.0 262.2h.6M407.3 285.7h.6M411.3 278.3h.6M395.1 278.0h.6M397.1 258.1h.6M390.7 273.6h.6M391.8 264.7h.6M395.2 270.3h.6M398.8 273.5h.6M400.1 283.9h.6M399.6 278.1h.6M383.3 244.5h.6M393.2 280.8h.6M393.9 267.8h.6M383.1 282.9h.6M391.7 276.5h.6M411.6 279.4h.6M424.9 272.7h.6M409.5 280.9h.6M390.1 274.5h.6M391.2 263.8h.6M401.6 266.3h.6M418.2 266.6h.6M391.5 274.9h.6M391.8 274.5h.6M390.7 259.8h.6M369.0 261.1h.6M416.3 278.4h.6M399.8 269.4h.6M396.3 277.0h.6M381.3 266.0h.6M387.3 286.6h.6" stroke="#111" stroke-width=".6" opacity=".85"/>
<ellipse cx="395.5" cy="272.5" rx="10.98" ry="6.1" transform="rotate(-30 395.5 272.5)" fill="#000" opacity="0.22"/>
<ellipse cx="395.5" cy="272.5" rx="9.9" ry="5.5" transform="rotate(-30 395.5 272.5)" fill="#000" opacity="0.4"/>
<ellipse cx="395.5" cy="272.5" rx="9" ry="5" transform="rotate(-30 395.5 272.5)" fill="#000" opacity="1"/>
<ellipse cx="401.5" cy="268.5" rx="5.25" ry="4.64" transform="rotate(0 401.5 268.5)" fill="#000" opacity="0.22"/>
<ellipse cx="401.5" cy="268.5" rx="4.73" ry="4.18" transform="rotate(0 401.5 268.5)" fill="#000" opacity="0.4"/>
<ellipse cx="401.5" cy="268.5" rx="4.3" ry="3.8" transform="rotate(0 401.5 268.5)" fill="#000" opacity="1"/>
<text x="357" y="252.9" font-size="8.6" font-weight="bold" fill="#111">19.5</text>
<text x="401.6" y="252.9" font-size="8.6" font-weight="bold" fill="#111">54.6</text>
<text x="357" y="306.4" font-size="8.6" font-weight="bold" fill="#111">12.4</text>
<text x="401.6" y="306.4" font-size="8.6" font-weight="bold" fill="#111">13.5</text>
<rect x="434.4" y="240.3" width="73.4" height="73.3" fill="none" stroke="#b8b8b8" stroke-width="1"/>
<line x1="473.3" y1="240.3" x2="473.3" y2="313.6" stroke="#6a6a6a" stroke-width="1.1"/>
<line x1="434.4" y1="276.3" x2="507.8" y2="276.3" stroke="#6a6a6a" stroke-width="1.1"/>
<path d="M467.5 278.7h.6M471.8 282.9h.6M473.5 274.6h.6M483.0 276.2h.6M479.8 270.7h.6M481.8 278.8h.6M473.2 273.1h.6M467.2 278.2h.6M475.9 274.3h.6M466.5 280.1h.6M479.7 273.9h.6M483.3 270.7h.6M479.4 270.9h.6M483.0 272.8h.6M481.8 272.5h.6M476.9 277.6h.6M468.2 275.4h.6M468.8 277.6h.6M470.0 273.8h.6M473.0 278.1h.6M467.3 275.1h.6M471.7 273.1h.6M468.9 274.5h.6M474.8 269.8h.6M475.2 270.8h.6M474.8 281.3h.6M467.7 274.9h.6M472.6 277.6h.6M470.4 269.5h.6M463.6 276.1h.6M476.0 277.5h.6M470.7 276.8h.6M467.5 279.1h.6M473.3 272.5h.6M475.7 279.6h.6M468.1 271.3h.6M467.1 271.7h.6M473.8 275.6h.6M473.0 275.2h.6M481.6 272.9h.6M465.2 268.5h.6M475.4 272.3h.6M472.5 275.9h.6M476.5 269.5h.6M467.8 275.3h.6M473.4 278.0h.6M470.1 268.7h.6M481.1 268.9h.6M467.8 276.3h.6M467.9 282.6h.6M475.7 275.9h.6M471.8 281.4h.6M477.3 272.0h.6M481.6 268.6h.6M470.3 275.7h.6M474.6 271.5h.6M484.7 277.9h.6M468.1 276.2h.6M469.8 273.6h.6M480.4 274.2h.6M473.3 274.9h.6M466.8 278.9h.6M469.5 278.9h.6M470.9 273.4h.6M483.7 274.1h.6M469.7 273.3h.6M478.5 279.7h.6M477.9 272.9h.6M466.5 273.2h.6M473.3 275.3h.6M470.1 278.7h.6M467.6 273.0h.6M477.4 275.6h.6M471.8 277.6h.6M465.4 280.3h.6M488.7 278.9h.6M475.4 280.3h.6M474.7 278.4h.6M472.8 275.2h.6M476.9 268.9h.6M473.2 279.8h.6M455.2 277.5h.6M480.1 274.9h.6M475.7 278.5h.6M475.6 268.6h.6M467.8 274.2h.6M474.8 273.1h.6M473.8 279.5h.6M455.4 279.8h.6M480.2 275.7h.6M474.1 274.7h.6M476.4 275.0h.6M469.6 277.3h.6M468.6 274.9h.6M471.3 271.3h.6M477.9 273.9h.6M466.4 275.0h.6M465.5 279.7h.6M477.9 280.1h.6M470.5 277.0h.6M467.5 272.6h.6M473.5 275.8h.6M479.9 273.1h.6M481.4 276.7h.6M468.3 274.5h.6M468.6 280.2h.6M470.7 277.5h.6M479.8 273.2h.6M471.0 275.8h.6M468.6 271.2h.6M467.9 276.1h.6M475.8 279.6h.6M462.4 277.2h.6M466.9 278.7h.6M478.5 274.4h.6M483.4 272.4h.6M470.3 271.7h.6M469.8 275.3h.6M478.7 277.9h.6M472.1 272.5h.6M471.7 273.4h.6M470.9 273.6h.6M468.4 274.9h.6M470.7 274.3h.6M465.1 275.8h.6M477.9 276.1h.6M470.1 271.5h.6M465.3 271.9h.6M469.8 274.0h.6M462.8 277.6h.6M463.9 273.5h.6M469.6 277.4h.6M485.7 272.3h.6M472.1 273.5h.6M472.7 274.1h.6M489.5 269.7h.6M473.1 272.2h.6M476.1 272.7h.6M477.4 270.9h.6M487.6 273.8h.6M462.9 277.7h.6M470.7 271.4h.6M476.7 272.7h.6M478.6 272.4h.6M479.8 274.4h.6M476.3 274.7h.6M471.6 273.7h.6M477.1 276.3h.6M472.1 281.4h.6M484.5 270.0h.6M480.9 273.6h.6M475.3 272.0h.6M484.3 271.0h.6M473.3 272.4h.6M486.7 277.0h.6M465.4 274.0h.6M476.2 273.0h.6M471.4 271.6h.6M475.3 271.1h.6M480.0 281.0h.6M472.4 279.5h.6M476.2 272.3h.6M471.5 271.9h.6M474.9 276.5h.6M479.9 273.1h.6M466.4 275.0h.6M484.8 274.3h.6M473.0 268.4h.6M471.4 276.4h.6M468.4 279.1h.6M470.1 272.3h.6M470.3 274.6h.6M480.2 272.2h.6M462.6 275.4h.6M477.8 278.7h.6M467.3 279.6h.6M478.4 275.4h.6M468.9 272.4h.6M468.2 277.9h.6M475.7 277.5h.6M485.6 273.4h.6M474.3 280.2h.6M465.6 274.0h.6M471.5 273.6h.6M474.7 272.0h.6M481.0 269.8h.6M468.3 270.1h.6M465.3 277.1h.6M477.9 273.5h.6M479.6 275.8h.6M470.3 274.8h.6M476.9 280.2h.6M471.3 275.9h.6M477.8 277.7h.6M477.0 277.4h.6M467.2 274.4h.6M461.7 275.6h.6M488.9 273.7h.6M474.6 275.2h.6M474.5 270.6h.6M469.5 274.4h.6M474.8 271.9h.6M473.1 272.4h.6M465.4 273.4h.6M469.1 277.5h.6M482.7 275.4h.6M472.5 273.0h.6M463.9 274.0h.6M484.3 276.9h.6M475.4 273.7h.6M474.2 275.7h.6M474.1 275.8h.6M469.1 275.1h.6M472.1 277.9h.6M466.5 279.1h.6M473.3 273.1h.6M474.2 274.9h.6M472.6 275.9h.6M469.8 270.0h.6M478.4 274.0h.6M484.7 274.6h.6M461.6 279.4h.6M469.8 276.6h.6M488.4 276.3h.6M467.0 275.0h.6M464.0 277.5h.6M477.3 271.2h.6M477.2 277.0h.6M478.9 272.1h.6M469.3 271.7h.6M465.9 276.3h.6M474.6 278.3h.6M475.6 273.4h.6M465.4 279.9h.6M475.0 274.3h.6M467.3 272.1h.6M477.7 271.3h.6M477.9 276.0h.6M471.1 270.1h.6M477.0 278.3h.6M468.4 271.4h.6M481.0 274.2h.6M470.4 278.5h.6M472.4 276.0h.6M471.2 272.6h.6M475.1 271.9h.6M462.6 274.1h.6M482.2 276.9h.6M488.1 276.0h.6M484.3 274.2h.6M471.4 276.2h.6M468.2 277.3h.6M471.2 275.6h.6M468.6 274.7h.6M480.2 273.3h.6M469.8 275.8h.6M479.5 273.4h.6M466.1 270.8h.6M465.8 278.5h.6M473.6 276.0h.6M480.9 274.7h.6M476.9 272.8h.6M464.0 277.4h.6M473.6 276.3h.6M467.2 274.8h.6M486.5 270.8h.6M475.0 278.3h.6M472.6 275.0h.6M460.7 278.1h.6M471.6 278.5h.6M473.3 273.5h.6M476.7 273.6h.6M471.2 279.3h.6M480.3 274.2h.6M479.4 276.4h.6M477.7 274.3h.6M474.6 275.7h.6M477.7 275.2h.6M470.5 274.7h.6M476.6 271.4h.6M474.2 276.7h.6M475.0 273.6h.6M473.7 273.2h.6M480.1 272.8h.6M463.1 272.1h.6M476.0 275.0h.6M470.6 271.1h.6M472.8 272.2h.6M469.8 275.0h.6M469.2 275.9h.6M469.2 273.7h.6M473.0 278.9h.6M484.3 276.2h.6M469.3 275.0h.6M480.0 276.3h.6M463.7 275.4h.6M469.5 277.2h.6M477.9 272.6h.6M487.5 272.4h.6M489.4 272.5h.6M474.0 280.0h.6M470.5 273.5h.6M483.3 273.5h.6M476.7 270.6h.6M485.6 276.2h.6M476.5 276.3h.6M470.7 273.5h.6M464.2 276.6h.6M482.1 276.2h.6M480.0 276.0h.6M467.8 271.4h.6M478.1 274.6h.6M480.2 273.1h.6M468.6 276.4h.6M470.0 270.2h.6M469.9 272.4h.6M466.8 273.7h.6M480.7 280.6h.6M484.8 272.3h.6M481.2 273.6h.6M476.4 272.4h.6M473.1 269.8h.6M485.1 271.2h.6M477.5 272.5h.6M475.4 271.0h.6M471.9 277.4h.6M477.2 268.6h.6M479.0 270.3h.6M476.0 275.8h.6M469.9 274.1h.6M472.6 275.8h.6M480.2 277.8h.6M476.6 280.0h.6M468.5 280.2h.6M472.6 276.9h.6M473.2 274.9h.6M468.3 276.2h.6M486.9 273.7h.6M473.9 274.6h.6M478.5 273.5h.6M474.0 275.2h.6M482.5 276.4h.6M467.2 273.4h.6M474.4 276.9h.6M480.1 273.3h.6M487.4 272.7h.6M483.3 277.7h.6M484.2 274.1h.6M477.2 269.8h.6M462.6 273.9h.6M478.9 277.1h.6M473.7 277.6h.6M478.1 278.5h.6M463.7 273.2h.6M467.7 272.2h.6M484.2 270.9h.6M468.6 273.9h.6M479.5 272.7h.6M478.8 275.6h.6M469.3 268.3h.6M467.8 271.6h.6M484.2 271.5h.6M467.3 276.3h.6M474.1 271.9h.6M481.2 276.4h.6M475.6 272.2h.6M467.9 269.3h.6M476.5 275.4h.6M468.2 275.2h.6M494.5 269.3h.6M463.4 277.4h.6M471.2 273.4h.6M477.9 273.8h.6M480.5 275.4h.6M481.4 274.1h.6M460.7 279.8h.6M463.5 278.6h.6M475.2 270.4h.6M474.7 277.0h.6M467.5 275.3h.6M469.0 272.2h.6M470.5 278.5h.6M478.3 274.0h.6M473.5 275.0h.6M475.9 274.9h.6M463.4 278.2h.6M467.8 267.7h.6M478.1 270.7h.6M473.1 274.4h.6M470.4 276.4h.6M472.2 273.9h.6M467.9 274.3h.6M467.4 275.3h.6M482.7 276.6h.6M476.3 270.4h.6M480.8 276.5h.6M486.5 266.8h.6M474.0 273.6h.6M480.6 270.8h.6M472.2 281.4h.6M479.8 268.2h.6M474.5 278.4h.6M470.2 276.6h.6M474.2 270.3h.6M470.3 278.2h.6M481.4 272.1h.6M481.0 271.8h.6M475.6 274.3h.6M466.2 276.2h.6M470.7 267.0h.6M468.5 272.6h.6M468.4 272.3h.6M468.9 268.0h.6M479.7 274.2h.6M475.5 273.6h.6M474.3 273.7h.6M466.6 270.9h.6M474.8 277.4h.6M476.0 279.0h.6M465.2 274.6h.6M470.4 278.4h.6M484.6 272.0h.6M478.6 273.4h.6M467.6 274.8h.6M467.8 279.6h.6M478.1 277.5h.6M475.6 267.4h.6M479.1 274.3h.6M458.9 276.3h.6M480.9 278.7h.6M467.7 277.4h.6M476.1 273.8h.6M472.3 276.2h.6M477.9 276.0h.6M471.0 271.0h.6M482.8 277.4h.6M470.4 274.8h.6M478.6 269.0h.6M477.9 281.1h.6M475.5 272.3h.6M487.0 273.2h.6M475.2 273.2h.6M474.6 269.3h.6M465.4 271.1h.6M479.7 273.7h.6M480.7 268.0h.6M470.6 279.1h.6M468.4 269.7h.6M469.2 274.0h.6M474.3 278.2h.6M482.9 278.1h.6M477.6 272.7h.6M470.4 270.6h.6M482.5 277.3h.6M474.3 271.9h.6M478.4 275.5h.6M474.6 271.1h.6M475.4 272.7h.6M478.9 275.7h.6M476.7 273.0h.6M483.9 275.7h.6M482.3 276.1h.6M478.3 275.2h.6M466.7 270.0h.6M468.2 276.9h.6M479.8 274.4h.6M475.1 279.7h.6M471.0 269.7h.6M464.1 274.6h.6M478.7 276.2h.6M472.8 277.0h.6M473.5 272.5h.6M471.8 276.9h.6M479.7 270.7h.6M467.8 275.5h.6M487.2 269.8h.6M466.2 276.5h.6M477.1 272.4h.6M474.0 275.9h.6M462.9 275.5h.6M478.1 276.8h.6M481.4 273.6h.6M465.2 279.3h.6M478.7 272.2h.6M480.9 276.8h.6M472.4 267.8h.6M470.8 272.6h.6M468.7 274.8h.6M467.3 276.3h.6M485.6 269.9h.6M480.4 272.3h.6M477.4 273.8h.6M481.9 271.7h.6M478.4 271.8h.6M475.4 274.3h.6M480.4 269.3h.6M465.9 279.3h.6M476.9 279.1h.6M467.5 275.8h.6M478.3 279.2h.6M473.5 273.3h.6M478.5 273.8h.6M469.5 277.2h.6M461.7 272.8h.6M482.5 272.2h.6M472.1 275.8h.6M481.3 275.3h.6M467.7 273.5h.6M480.6 273.5h.6M470.3 277.4h.6M481.8 280.0h.6M467.0 273.2h.6M469.7 276.0h.6M471.3 278.0h.6M457.3 279.0h.6M469.9 274.1h.6M477.7 274.7h.6M468.0 279.4h.6M477.5 272.7h.6M475.0 271.2h.6M466.2 274.4h.6M476.3 274.6h.6M468.7 271.0h.6M463.9 280.1h.6M476.1 272.0h.6M481.7 275.3h.6M471.2 273.0h.6M481.3 274.7h.6M484.4 274.5h.6M470.1 273.2h.6M469.6 275.7h.6M475.8 276.1h.6M476.5 271.2h.6M472.4 271.9h.6M476.7 270.4h.6M470.1 272.4h.6M470.0 274.2h.6M483.5 272.8h.6M464.9 274.5h.6M478.9 275.6h.6M476.1 280.1h.6M481.0 274.1h.6M481.3 269.9h.6M472.7 272.1h.6M475.6 279.0h.6M471.3 279.4h.6M468.0 279.2h.6M463.1 273.1h.6M480.3 273.6h.6M474.9 274.4h.6M475.1 273.9h.6M467.8 274.3h.6M474.4 271.9h.6M477.4 279.3h.6M463.5 274.0h.6M472.2 274.7h.6M474.4 272.4h.6M473.8 274.5h.6M473.9 279.0h.6M474.4 270.2h.6M464.3 277.2h.6M471.7 272.9h.6M465.4 274.5h.6M473.2 272.6h.6M472.0 277.3h.6M479.1 275.6h.6M472.5 270.7h.6M479.3 278.3h.6M482.3 277.0h.6M475.9 275.4h.6M474.3 278.1h.6M472.9 280.8h.6M478.8 273.1h.6M473.5 269.9h.6M469.3 274.1h.6M489.2 270.6h.6M479.8 274.1h.6M472.3 276.5h.6M461.8 278.5h.6M486.2 274.1h.6M473.7 275.0h.6M478.0 272.7h.6M474.9 275.9h.6M471.9 275.8h.6M476.3 276.3h.6M467.6 273.6h.6M471.7 278.2h.6M475.1 269.6h.6M466.5 280.9h.6M475.8 270.6h.6M468.3 275.5h.6M483.4 278.2h.6M471.6 273.9h.6M485.8 270.5h.6M483.9 274.5h.6M475.0 278.1h.6M476.8 271.8h.6M464.4 275.5h.6M477.6 278.1h.6M458.0 280.0h.6M475.3 292.6h.6M475.8 286.9h.6M474.8 287.7h.6M471.7 285.5h.6M473.9 284.1h.6M469.2 279.8h.6M475.0 288.3h.6M473.8 280.9h.6M476.0 284.3h.6M467.5 292.8h.6M469.2 295.7h.6M475.1 284.1h.6M466.7 283.0h.6M477.8 291.9h.6M474.3 278.6h.6M472.4 284.8h.6M474.8 285.5h.6M474.5 278.9h.6M471.6 292.2h.6M469.3 290.0h.6M480.2 288.8h.6M469.5 291.4h.6M468.1 287.5h.6M472.3 291.4h.6M476.9 286.8h.6M478.7 290.3h.6M472.1 281.8h.6M480.7 284.2h.6M474.7 285.5h.6M472.1 279.0h.6M473.1 285.5h.6M476.4 283.8h.6M468.9 281.4h.6M473.4 287.1h.6M475.6 284.3h.6M475.1 286.6h.6M478.4 285.8h.6M473.9 288.5h.6M477.1 282.0h.6M472.1 284.8h.6M467.3 291.6h.6M476.6 286.1h.6M483.3 291.5h.6M479.4 292.8h.6M476.1 279.9h.6M478.0 287.8h.6M470.0 286.2h.6M475.7 290.3h.6M474.0 283.7h.6M475.7 282.7h.6M473.3 289.3h.6M469.3 287.6h.6M467.8 282.0h.6M469.9 285.6h.6M475.6 285.8h.6M476.2 286.4h.6M472.9 288.1h.6M472.8 286.6h.6M476.5 283.5h.6M476.9 281.2h.6M472.9 278.5h.6M472.0 292.9h.6M474.5 291.5h.6M469.2 281.6h.6M474.9 289.6h.6M475.9 278.7h.6M475.0 285.7h.6M473.9 288.1h.6M472.7 278.7h.6M470.4 279.7h.6M469.7 285.4h.6M477.3 282.9h.6M471.3 281.0h.6M468.5 286.3h.6M472.1 285.0h.6M470.7 288.1h.6M470.0 288.4h.6M471.6 289.4h.6M470.9 287.9h.6M474.8 285.7h.6M478.3 286.8h.6M470.9 289.0h.6M471.1 283.7h.6M473.5 286.8h.6M478.5 278.4h.6M472.7 290.9h.6M473.0 287.4h.6M478.0 280.7h.6M473.6 289.4h.6M471.8 278.4h.6M470.6 286.8h.6M474.1 294.0h.6M477.4 279.3h.6M476.5 290.0h.6M478.2 285.3h.6M471.9 286.6h.6M478.0 288.7h.6M478.5 289.4h.6M471.8 281.6h.6M478.9 279.4h.6M472.5 284.6h.6M470.8 283.5h.6M473.5 296.3h.6M473.3 283.7h.6M473.9 290.1h.6M471.1 284.2h.6M468.4 289.1h.6M475.5 292.5h.6M470.0 295.5h.6M476.1 284.8h.6M472.4 284.7h.6M470.0 289.4h.6M471.7 282.9h.6M475.0 286.5h.6M471.8 285.0h.6M472.1 291.9h.6M476.4 282.8h.6M473.4 292.0h.6M472.7 293.8h.6M474.8 288.9h.6M467.4 289.7h.6M474.5 288.5h.6M474.9 288.3h.6M472.0 289.9h.6M473.7 281.4h.6M470.5 286.7h.6M474.5 276.4h.6M467.5 290.6h.6M473.5 298.4h.6M469.0 284.9h.6M471.7 288.4h.6M477.6 293.0h.6M470.5 291.4h.6M469.9 287.3h.6M474.0 288.7h.6M471.2 291.8h.6M473.3 285.9h.6M472.7 281.4h.6M475.6 287.5h.6M474.8 294.1h.6M471.0 284.8h.6M473.5 289.7h.6M473.0 290.1h.6M474.8 278.3h.6M471.5 277.1h.6M472.7 284.2h.6M475.2 286.7h.6M473.3 291.5h.6M475.2 280.6h.6M471.5 287.4h.6M478.5 285.1h.6M473.0 287.2h.6M475.8 285.6h.6M474.4 284.2h.6M471.9 282.5h.6M475.4 283.6h.6M475.1 287.8h.6M476.4 274.3h.6M470.7 280.7h.6M473.0 289.5h.6M480.9 292.7h.6M477.5 287.7h.6M472.4 288.3h.6M467.1 290.1h.6M473.5 288.7h.6M470.5 281.2h.6M471.6 285.8h.6M474.5 284.4h.6M474.5 289.0h.6M470.1 285.6h.6M468.9 283.6h.6M476.2 282.9h.6M479.0 288.2h.6M476.1 286.5h.6M476.0 290.8h.6M473.8 283.7h.6M471.9 294.4h.6M473.0 284.0h.6M471.4 278.6h.6M472.0 287.4h.6M472.1 282.7h.6M474.7 288.0h.6M472.2 287.3h.6M470.6 289.8h.6M470.6 284.5h.6M473.9 284.2h.6M470.1 295.2h.6M477.9 278.4h.6M473.9 280.5h.6M474.4 280.3h.6M475.2 288.3h.6M478.5 291.3h.6M472.2 290.1h.6M472.2 285.5h.6M472.0 278.3h.6M475.3 277.1h.6M472.8 288.3h.6M473.8 279.1h.6M471.6 289.0h.6M476.7 293.0h.6M468.2 288.0h.6M472.1 289.3h.6M468.6 285.4h.6M475.6 283.2h.6M472.4 281.7h.6M476.8 280.2h.6M470.8 284.5h.6M472.6 295.3h.6M474.3 282.4h.6M475.2 287.5h.6M474.3 285.7h.6M474.9 280.9h.6M470.0 284.1h.6M470.3 289.1h.6M479.2 291.4h.6M474.8 287.5h.6M471.5 280.3h.6M475.1 279.5h.6M474.4 285.4h.6M475.7 286.2h.6M473.8 283.5h.6M468.5 284.5h.6M475.5 290.6h.6M477.5 281.6h.6M470.8 289.1h.6M472.2 297.3h.6M474.4 279.3h.6M471.9 292.9h.6M468.2 286.7h.6M469.4 293.0h.6M472.2 281.5h.6M468.5 282.9h.6M466.0 283.9h.6M479.9 286.4h.6M472.7 280.9h.6M474.5 283.9h.6M471.0 292.1h.6M474.8 282.1h.6M477.8 285.8h.6M475.0 286.6h.6M477.0 288.7h.6M472.5 289.1h.6M472.4 286.6h.6M478.3 281.3h.6M470.5 284.2h.6M472.0 291.7h.6M468.8 296.1h.6M478.1 284.0h.6M474.0 284.4h.6M475.5 288.9h.6M475.7 289.4h.6M479.2 285.3h.6M475.6 285.2h.6M473.6 287.0h.6M473.3 287.5h.6M471.0 285.3h.6M471.7 280.9h.6M471.4 283.8h.6M473.1 279.2h.6M472.7 281.0h.6M471.1 286.8h.6M476.8 287.3h.6M472.1 284.1h.6M477.4 278.9h.6M476.8 279.4h.6M471.6 286.2h.6M472.9 293.3h.6M475.0 285.8h.6M476.3 286.2h.6M471.1 290.9h.6M477.9 291.6h.6M470.1 294.4h.6M472.3 289.4h.6M477.0 296.4h.6M468.8 281.5h.6M477.0 288.2h.6M472.6 273.1h.6M474.8 285.2h.6M465.8 297.8h.6M466.2 283.5h.6M473.5 287.0h.6M475.7 284.8h.6M470.9 284.4h.6M467.3 281.1h.6M479.3 283.0h.6M473.3 294.3h.6M476.6 286.5h.6M475.7 284.8h.6M470.8 290.4h.6M473.9 293.0h.6M472.7 284.4h.6M474.5 285.2h.6M472.6 282.1h.6M474.2 287.4h.6M478.9 285.9h.6M468.3 288.0h.6M480.2 284.1h.6M471.1 285.3h.6M465.1 284.5h.6M472.9 279.4h.6M475.2 282.1h.6M468.1 282.8h.6M475.4 294.5h.6M477.2 286.9h.6M472.0 284.9h.6M476.3 283.7h.6M474.7 290.3h.6M470.8 283.4h.6M474.8 286.0h.6M473.1 283.7h.6M473.3 294.2h.6M477.5 278.9h.6M473.6 286.4h.6M473.6 279.9h.6M473.1 286.7h.6M471.5 287.4h.6M466.3 279.4h.6M473.8 287.7h.6M473.0 284.0h.6M474.0 290.8h.6M476.1 285.7h.6M472.1 290.7h.6M475.1 289.9h.6M472.7 282.2h.6M474.1 283.2h.6M476.9 289.8h.6M467.1 288.9h.6M477.4 290.6h.6M472.1 282.2h.6M476.4 290.5h.6M473.7 280.9h.6M469.0 287.2h.6M471.1 283.0h.6M474.8 290.6h.6M467.4 283.0h.6M477.3 285.8h.6M472.5 288.8h.6M470.1 280.6h.6M473.6 292.9h.6M476.5 286.0h.6M476.5 284.2h.6M470.0 278.6h.6M474.3 290.0h.6M474.6 285.8h.6M472.3 290.8h.6M473.4 279.7h.6M477.5 283.1h.6M474.7 286.0h.6M476.6 287.1h.6M477.1 286.9h.6M471.5 275.5h.6M482.4 272.7h.6M485.1 277.9h.6M466.9 272.3h.6M474.6 295.6h.6M483.6 280.2h.6M467.1 296.8h.6M473.3 280.0h.6M471.8 291.8h.6M477.7 276.0h.6M477.8 271.2h.6M465.7 278.6h.6M447.7 290.4h.6M495.5 270.2h.6M474.6 266.1h.6M477.7 281.9h.6M483.3 268.2h.6M470.1 274.3h.6M473.6 300.2h.6M474.0 279.6h.6M471.0 287.0h.6M501.2 290.3h.6M491.1 270.5h.6M486.4 280.2h.6M488.3 289.3h.6M482.4 265.2h.6M477.3 275.6h.6M480.4 280.3h.6M486.3 265.9h.6M468.7 279.3h.6M479.2 276.4h.6M475.7 280.5h.6M486.3 279.0h.6M478.4 264.0h.6M450.3 267.1h.6M479.5 259.6h.6M480.0 279.2h.6M476.0 273.6h.6M471.9 287.3h.6M479.5 279.8h.6M471.2 281.9h.6M487.7 279.8h.6M472.4 269.6h.6M477.0 271.9h.6M461.9 287.7h.6M469.9 262.0h.6M468.9 296.3h.6M475.0 268.3h.6M465.2 286.4h.6M480.0 281.9h.6M474.1 284.3h.6M491.1 284.3h.6M474.4 267.6h.6M480.4 293.9h.6M482.4 268.9h.6M477.8 291.5h.6M469.8 284.4h.6M487.9 294.5h.6M460.3 264.6h.6M479.7 286.2h.6M472.5 279.8h.6M472.0 290.6h.6M454.2 282.3h.6M463.4 274.0h.6M460.9 272.0h.6M475.8 280.2h.6M493.6 278.0h.6M479.4 283.1h.6M478.5 293.0h.6M477.4 281.3h.6M474.9 280.0h.6M475.5 288.8h.6M476.2 280.6h.6M475.5 286.7h.6M471.3 288.3h.6M470.4 286.1h.6M494.9 282.1h.6M475.1 269.5h.6M483.3 280.1h.6M485.0 274.2h.6M481.1 296.0h.6M480.0 277.1h.6M463.2 279.9h.6M482.5 285.3h.6M465.0 270.9h.6M466.4 271.0h.6M473.3 282.4h.6M495.0 281.7h.6M490.3 265.3h.6M491.2 287.1h.6M480.3 287.3h.6M482.1 297.0h.6M483.9 264.6h.6M458.8 294.3h.6M475.2 291.7h.6M472.6 274.2h.6M472.6 282.8h.6M477.8 274.5h.6M481.3 285.5h.6M466.9 270.1h.6M456.6 277.3h.6M476.1 273.8h.6M470.1 278.8h.6M476.3 285.1h.6M484.2 283.9h.6M487.0 271.4h.6M482.0 283.3h.6M465.7 274.0h.6M480.4 280.7h.6M463.6 275.1h.6M491.1 287.5h.6M476.8 292.0h.6M467.0 278.5h.6M485.5 277.0h.6M465.0 285.2h.6M491.8 257.4h.6M477.5 268.9h.6M473.1 267.4h.6M501.7 274.0h.6M476.4 273.7h.6M466.2 276.0h.6M478.1 295.6h.6M478.8 293.9h.6M465.5 280.6h.6M471.7 266.1h.6M478.4 273.3h.6M470.3 270.8h.6M486.1 276.4h.6M474.6 281.6h.6M463.9 282.1h.6M474.3 284.0h.6M472.2 280.3h.6M481.1 288.6h.6M469.2 288.6h.6M466.3 278.3h.6M477.3 281.3h.6M451.3 271.3h.6M474.2 288.2h.6M469.0 293.4h.6M458.2 280.7h.6M481.3 280.2h.6M478.6 288.3h.6M468.0 285.2h.6M486.5 277.9h.6M453.1 269.4h.6M467.6 270.6h.6M480.3 272.8h.6M500.5 285.1h.6M463.1 277.5h.6M491.1 286.0h.6M465.9 289.2h.6M471.3 299.7h.6M470.5 285.3h.6M481.6 276.0h.6M474.5 290.3h.6M480.9 279.5h.6M480.4 295.5h.6M485.2 284.2h.6M479.3 266.1h.6M477.3 275.7h.6M483.2 274.6h.6M480.4 270.6h.6M484.8 273.5h.6M475.7 285.1h.6M472.8 280.1h.6M486.5 295.7h.6M458.2 272.0h.6M482.7 288.4h.6M471.3 280.8h.6M474.1 300.2h.6M474.0 269.4h.6M460.7 268.6h.6M488.9 276.5h.6M495.3 285.7h.6M479.8 285.7h.6M483.8 288.2h.6M466.4 275.0h.6M470.6 280.9h.6M473.5 269.0h.6M469.1 295.9h.6M497.0 272.4h.6M479.8 279.7h.6M467.6 286.3h.6M475.3 294.8h.6M480.5 277.2h.6M449.8 279.1h.6M484.4 273.7h.6M484.7 286.1h.6M458.6 278.3h.6M479.2 286.7h.6M477.5 279.9h.6M472.6 277.4h.6M476.0 270.6h.6M482.3 277.1h.6M481.2 275.5h.6M480.1 281.1h.6M484.8 284.1h.6M485.2 278.5h.6M475.5 277.7h.6M463.6 278.9h.6M486.8 286.8h.6M467.6 282.7h.6M483.4 267.9h.6M479.4 282.9h.6M483.4 282.3h.6M458.8 262.1h.6M495.6 276.5h.6M488.6 291.2h.6M476.9 269.8h.6M489.5 279.7h.6M481.1 284.2h.6M485.4 289.0h.6M462.0 267.5h.6M477.4 280.1h.6M483.7 278.8h.6M474.2 298.0h.6M489.6 290.3h.6M486.2 273.0h.6M475.2 279.4h.6" stroke="#111" stroke-width=".6" opacity=".85"/>
<ellipse cx="473.5" cy="274.5" rx="10.37" ry="5.86" transform="rotate(-5 473.5 274.5)" fill="#000" opacity="0.22"/>
<ellipse cx="473.5" cy="274.5" rx="9.35" ry="5.28" transform="rotate(-5 473.5 274.5)" fill="#000" opacity="0.4"/>
<ellipse cx="473.5" cy="274.5" rx="8.5" ry="4.8" transform="rotate(-5 473.5 274.5)" fill="#000" opacity="1"/>
<ellipse cx="473.5" cy="285.5" rx="3.66" ry="4.27" transform="rotate(0 473.5 285.5)" fill="#000" opacity="0.07"/>
<ellipse cx="473.5" cy="285.5" rx="3.3" ry="3.85" transform="rotate(0 473.5 285.5)" fill="#000" opacity="0.12"/>
<ellipse cx="473.5" cy="285.5" rx="3" ry="3.5" transform="rotate(0 473.5 285.5)" fill="#000" opacity="0.3"/>
<text x="436.4" y="252.9" font-size="8.6" font-weight="bold" fill="#111">31.9</text>
<text x="480.9" y="252.9" font-size="8.6" font-weight="bold" fill="#111">33.1</text>
<text x="436.4" y="306.6" font-size="8.6" font-weight="bold" fill="#111">21.5</text>
<text x="480.9" y="306.6" font-size="8.6" font-weight="bold" fill="#111">13.6</text>
<rect x="356.2" y="330.2" width="73.4" height="73.5" fill="none" stroke="#b8b8b8" stroke-width="1"/>
<line x1="395.3" y1="330.2" x2="395.3" y2="403.7" stroke="#6a6a6a" stroke-width="1.1"/>
<line x1="356.2" y1="365.9" x2="429.6" y2="365.9" stroke="#6a6a6a" stroke-width="1.1"/>
<path d="M388.0 362.5h.6M395.1 357.4h.6M400.0 361.0h.6M394.0 361.2h.6M400.4 360.8h.6M396.3 356.7h.6M389.3 372.6h.6M391.5 362.5h.6M383.7 365.2h.6M392.8 366.1h.6M377.8 366.2h.6M392.7 361.4h.6M390.6 362.7h.6M386.8 367.4h.6M403.5 357.9h.6M394.7 366.8h.6M397.4 356.8h.6M391.6 361.6h.6M397.6 365.0h.6M391.5 363.3h.6M394.8 357.6h.6M394.1 364.7h.6M400.0 352.3h.6M399.8 358.2h.6M404.8 358.9h.6M408.4 355.8h.6M392.3 360.3h.6M388.2 367.7h.6M400.4 362.0h.6M395.8 356.0h.6M393.2 362.1h.6M398.2 363.1h.6M405.1 357.5h.6M381.9 365.3h.6M381.9 366.3h.6M389.1 366.1h.6M396.4 365.3h.6M401.8 356.5h.6M401.8 358.3h.6M400.9 363.7h.6M388.9 365.0h.6M404.2 354.1h.6M397.5 361.1h.6M391.4 359.1h.6M390.3 360.9h.6M403.0 358.5h.6M398.4 355.7h.6M399.3 360.1h.6M401.2 355.9h.6M403.1 362.6h.6M405.5 352.8h.6M386.9 361.0h.6M402.8 359.9h.6M396.7 357.8h.6M406.1 361.8h.6M395.6 361.2h.6M404.0 358.9h.6M403.5 355.8h.6M397.5 359.3h.6M392.1 362.4h.6M395.1 363.8h.6M394.3 362.6h.6M389.2 360.6h.6M403.2 353.9h.6M408.5 358.1h.6M381.1 367.2h.6M393.5 362.8h.6M394.0 360.3h.6M403.4 356.9h.6M400.8 356.3h.6M393.9 367.5h.6M392.6 359.2h.6M396.6 364.9h.6M393.9 359.9h.6M401.4 362.1h.6M394.3 361.2h.6M398.0 370.3h.6M397.6 367.0h.6M395.7 363.0h.6M383.9 368.7h.6M395.8 360.3h.6M391.4 358.9h.6M387.2 366.8h.6M392.0 363.3h.6M394.1 360.6h.6M394.5 369.1h.6M388.5 363.6h.6M392.4 359.1h.6M391.5 367.0h.6M401.9 358.7h.6M417.0 353.0h.6M402.2 355.0h.6M405.2 362.6h.6M396.5 367.8h.6M389.4 360.9h.6M394.5 359.3h.6M398.2 356.2h.6M393.5 355.6h.6M397.4 364.5h.6M394.9 363.2h.6M400.9 354.7h.6M388.4 365.8h.6M397.3 359.7h.6M392.0 368.0h.6M388.6 364.5h.6M396.9 363.6h.6M392.0 360.6h.6M406.9 352.3h.6M400.6 358.3h.6M393.1 362.8h.6M394.9 363.1h.6M380.6 369.7h.6M395.0 358.4h.6M397.3 369.3h.6M408.2 357.1h.6M397.0 359.8h.6M403.7 355.5h.6M392.1 366.1h.6M388.9 362.4h.6M402.3 352.1h.6M395.8 361.9h.6M395.3 356.4h.6M394.1 361.2h.6M409.2 357.9h.6M392.8 366.4h.6M399.8 358.9h.6M394.1 361.4h.6M385.7 364.7h.6M403.9 362.4h.6M406.7 354.2h.6M396.0 352.5h.6M392.4 358.7h.6M398.5 354.0h.6M388.0 361.7h.6M399.7 362.4h.6M393.2 369.5h.6M395.7 358.5h.6M398.1 360.2h.6M401.6 359.6h.6M411.1 357.4h.6M393.4 365.7h.6M399.1 356.0h.6M390.2 361.6h.6M382.0 371.4h.6M396.6 365.6h.6M392.8 363.4h.6M401.9 361.7h.6M396.4 357.4h.6M410.7 356.5h.6M406.8 361.4h.6M405.2 357.9h.6M399.9 361.6h.6M388.2 368.7h.6M390.8 365.8h.6M391.0 366.8h.6M396.9 370.0h.6M398.0 362.2h.6M390.1 363.6h.6M395.2 360.8h.6M392.0 360.4h.6M400.1 357.8h.6M391.7 365.1h.6M390.9 363.6h.6M391.5 360.5h.6M393.4 359.8h.6M389.0 366.5h.6M392.0 358.2h.6M393.9 363.2h.6M399.2 361.0h.6M398.5 362.2h.6M391.8 360.8h.6M399.1 358.2h.6M397.1 363.2h.6M403.6 361.7h.6M391.3 362.6h.6M397.2 355.5h.6M389.4 367.3h.6M390.9 360.8h.6M401.7 360.2h.6M401.1 357.4h.6M393.8 361.4h.6M394.7 354.7h.6M393.0 365.7h.6M391.2 363.8h.6M397.6 362.4h.6M391.4 359.8h.6M410.0 351.1h.6M403.7 350.8h.6M396.4 360.5h.6M410.7 360.9h.6M400.4 355.3h.6M390.0 361.9h.6M393.3 363.8h.6M390.9 363.3h.6M407.2 360.6h.6M383.3 364.8h.6M395.8 366.3h.6M397.0 367.8h.6M400.5 364.2h.6M390.4 363.3h.6M403.1 359.6h.6M384.4 366.8h.6M398.1 362.6h.6M394.9 368.4h.6M399.2 364.9h.6M398.6 360.3h.6M392.3 359.1h.6M402.4 360.6h.6M401.1 357.2h.6M389.4 363.6h.6M394.2 362.4h.6M400.6 355.6h.6M394.2 364.9h.6M404.9 364.6h.6M397.9 357.3h.6M388.6 362.6h.6M396.9 361.8h.6M394.7 359.9h.6M394.8 361.8h.6M399.8 359.6h.6M389.4 360.8h.6M404.9 356.2h.6M395.0 361.9h.6M402.4 356.8h.6M396.8 360.1h.6M398.0 356.6h.6M398.9 363.6h.6M404.2 359.2h.6M400.3 364.8h.6M402.5 363.0h.6M387.2 362.2h.6M400.5 358.0h.6M392.0 360.1h.6M403.2 353.1h.6M394.6 357.1h.6M398.5 368.2h.6M410.0 352.0h.6M392.5 369.3h.6M388.2 359.2h.6M396.5 357.2h.6M389.1 369.3h.6M390.1 360.8h.6M396.8 360.3h.6M403.0 357.9h.6M407.4 359.3h.6M408.5 358.6h.6M397.4 362.7h.6M393.8 356.9h.6M390.1 367.3h.6M380.6 366.8h.6M388.3 365.4h.6M390.2 365.5h.6M394.2 360.7h.6M387.6 357.9h.6M394.6 357.5h.6M394.9 363.4h.6M403.5 359.9h.6M402.8 352.5h.6M402.6 363.5h.6M396.8 357.0h.6M397.7 358.6h.6M393.9 366.5h.6M393.3 358.8h.6M395.0 369.1h.6M392.1 366.0h.6M399.0 364.0h.6M393.0 359.6h.6M390.7 360.6h.6M412.0 353.4h.6M396.1 365.9h.6M399.8 358.7h.6M400.3 360.1h.6M405.4 362.3h.6M394.2 362.3h.6M396.9 365.4h.6M399.6 362.3h.6M400.5 356.6h.6M399.0 364.8h.6M402.9 360.6h.6M393.9 361.3h.6M390.5 363.4h.6M393.5 357.6h.6M401.9 355.4h.6M398.5 362.2h.6M390.0 358.1h.6M402.5 359.3h.6M396.3 365.4h.6M400.0 355.7h.6M392.9 356.7h.6M396.7 366.2h.6M392.3 366.4h.6M386.6 365.5h.6M404.4 363.1h.6M400.0 362.0h.6M402.7 348.9h.6M388.8 372.2h.6M411.8 354.9h.6M396.9 361.9h.6M395.3 359.5h.6M395.8 361.1h.6M401.2 361.1h.6M402.9 359.8h.6M392.4 368.4h.6M380.3 370.4h.6M397.3 358.8h.6M405.7 352.2h.6M388.3 363.8h.6M399.8 362.2h.6M397.8 362.9h.6M391.0 362.0h.6M394.8 357.2h.6M396.6 359.6h.6M398.6 356.3h.6M392.1 361.5h.6M392.4 359.8h.6M392.5 358.4h.6M400.3 361.5h.6M395.7 360.9h.6M389.3 361.6h.6M393.4 359.5h.6M389.3 365.7h.6M395.4 360.3h.6M391.2 363.9h.6M391.3 362.4h.6M398.3 362.8h.6M399.7 357.2h.6M401.5 354.2h.6M397.1 365.6h.6M410.5 354.0h.6M393.4 361.5h.6M388.6 364.9h.6M392.4 360.6h.6M402.0 355.3h.6M407.5 358.2h.6M399.0 357.6h.6M390.0 357.4h.6M397.3 359.7h.6M397.4 358.2h.6M396.7 355.6h.6M383.8 369.8h.6M397.7 349.1h.6M403.2 356.2h.6M392.8 357.6h.6M391.2 366.6h.6M391.7 363.6h.6M398.2 367.4h.6M399.4 354.8h.6M391.5 359.7h.6M386.8 364.0h.6M402.7 357.9h.6M399.9 358.8h.6M393.7 363.0h.6M398.6 367.0h.6M407.3 356.6h.6M396.6 353.8h.6M399.0 368.4h.6M392.6 366.2h.6M402.7 356.3h.6M394.1 360.8h.6M400.9 358.8h.6M406.8 359.8h.6M400.0 368.7h.6M393.3 360.7h.6M393.3 359.7h.6M393.5 362.5h.6M399.0 354.0h.6M386.6 363.7h.6M395.0 363.6h.6M393.7 368.1h.6M392.6 362.5h.6M398.2 364.5h.6M397.9 360.5h.6M393.1 363.6h.6M397.9 359.1h.6M393.1 356.3h.6M394.7 366.4h.6M404.4 356.6h.6M386.1 373.5h.6M399.0 369.1h.6M395.2 365.5h.6M394.5 367.2h.6M401.3 354.6h.6M408.1 365.2h.6M392.9 358.7h.6M397.1 359.3h.6M385.6 363.3h.6M395.2 356.3h.6M403.2 359.1h.6M397.2 365.9h.6M391.6 366.3h.6M387.5 364.8h.6M399.0 357.8h.6M396.4 363.6h.6M407.1 360.1h.6M398.4 359.1h.6M390.1 370.9h.6M403.9 349.2h.6M401.2 358.4h.6M400.7 360.0h.6M394.9 362.0h.6M397.6 364.8h.6M393.7 360.7h.6M400.9 361.1h.6M399.1 360.8h.6M406.5 359.7h.6M397.0 360.1h.6M397.1 354.0h.6M391.9 361.1h.6M396.5 359.7h.6M411.8 355.5h.6M401.9 366.4h.6M395.6 360.5h.6M404.6 359.7h.6M403.4 361.8h.6M392.9 360.7h.6M392.0 364.0h.6M400.4 355.2h.6M390.8 359.3h.6M409.1 357.2h.6M395.5 357.2h.6M389.0 362.9h.6M394.3 357.7h.6M396.6 365.5h.6M396.3 361.6h.6M383.3 367.4h.6M394.1 359.9h.6M387.8 365.6h.6M389.2 363.1h.6M386.5 366.3h.6M400.1 356.1h.6M395.6 356.1h.6M400.3 361.0h.6M395.1 365.1h.6M390.9 364.3h.6M406.0 355.9h.6M391.2 368.2h.6M398.8 358.9h.6M382.4 361.9h.6M389.4 370.5h.6M396.5 358.0h.6M405.1 361.8h.6M391.8 365.4h.6M386.9 367.7h.6M404.6 351.5h.6M395.4 359.4h.6M395.6 361.9h.6M399.1 363.0h.6M400.7 362.7h.6M403.7 361.2h.6M392.7 364.7h.6M392.6 360.2h.6M408.0 355.9h.6M393.1 355.3h.6M395.9 364.3h.6M394.0 360.5h.6M404.3 355.7h.6M393.9 362.2h.6M396.3 365.1h.6M399.3 359.3h.6M393.6 361.9h.6M405.6 355.1h.6M397.5 354.8h.6M399.0 362.3h.6M404.0 358.2h.6M400.0 360.4h.6M405.5 363.7h.6M396.0 358.4h.6M399.4 359.1h.6M401.0 361.5h.6M396.3 359.6h.6M395.9 356.9h.6M396.3 358.0h.6M398.9 360.3h.6M392.9 358.7h.6M395.3 359.3h.6M396.3 363.8h.6M399.7 354.7h.6M403.7 362.2h.6M403.1 358.5h.6M398.2 366.6h.6M391.8 358.1h.6M397.0 361.9h.6M388.1 361.3h.6M407.9 355.3h.6M399.7 357.2h.6M386.9 365.7h.6M402.9 355.2h.6M385.3 366.6h.6M394.4 362.3h.6M389.4 363.8h.6M394.2 365.6h.6M398.3 363.3h.6M392.5 355.5h.6M385.4 369.2h.6M402.6 361.0h.6M392.9 356.6h.6M393.8 364.1h.6M403.6 356.0h.6M391.6 361.0h.6M403.4 360.5h.6M387.2 370.7h.6M388.4 360.2h.6M385.6 364.4h.6M413.6 361.1h.6M387.7 363.5h.6M397.6 362.0h.6M390.8 358.4h.6M392.6 360.8h.6M385.8 367.5h.6M384.8 361.2h.6M406.4 359.2h.6M404.8 357.1h.6M393.5 362.4h.6M389.2 367.8h.6M397.2 359.6h.6M384.9 367.1h.6M407.9 360.2h.6M400.7 357.6h.6M397.7 362.5h.6M398.8 363.7h.6M388.6 356.9h.6M380.4 366.6h.6M389.0 367.7h.6M402.4 357.9h.6M399.4 359.9h.6M396.4 359.5h.6M395.5 366.0h.6M394.4 362.1h.6M404.6 360.3h.6M394.2 363.3h.6M390.3 365.0h.6M397.9 360.3h.6M397.6 361.9h.6M379.9 367.2h.6M395.8 359.7h.6M390.0 363.8h.6M405.2 355.5h.6M391.5 362.1h.6M389.8 366.6h.6M391.7 367.1h.6M402.3 360.1h.6M402.0 357.8h.6M385.6 366.8h.6M397.4 354.9h.6M390.6 368.4h.6M400.7 363.8h.6M400.1 359.4h.6M399.9 362.4h.6M395.6 360.9h.6M397.4 359.5h.6M409.1 351.4h.6M385.1 362.6h.6M401.6 356.8h.6M396.7 360.2h.6M395.5 356.4h.6M395.7 359.5h.6M403.4 359.6h.6M387.2 362.7h.6M401.3 362.9h.6M400.4 358.5h.6M399.0 351.1h.6M391.4 360.3h.6M390.9 366.3h.6M398.2 361.3h.6M396.3 363.5h.6M399.8 357.2h.6M400.2 355.7h.6M404.5 352.0h.6M392.7 359.2h.6M398.3 365.0h.6M394.4 368.8h.6M405.0 357.9h.6M394.0 365.8h.6M378.0 368.4h.6M401.7 358.1h.6M409.7 351.4h.6M387.9 365.1h.6M402.2 364.3h.6M385.9 367.5h.6M402.5 355.4h.6M391.5 359.4h.6M401.9 361.2h.6M400.0 360.1h.6M401.8 357.8h.6M401.6 361.4h.6M404.6 358.6h.6M397.7 363.1h.6M384.1 361.4h.6M405.9 356.5h.6M388.9 363.1h.6M395.3 362.0h.6M393.1 366.7h.6M390.3 374.9h.6M392.2 369.6h.6M397.4 354.4h.6M388.9 365.5h.6M397.0 359.3h.6M396.4 361.8h.6M389.4 365.3h.6M408.6 352.1h.6M391.1 366.6h.6M405.7 359.9h.6M392.2 363.2h.6M397.0 360.1h.6M400.2 363.1h.6M399.3 359.5h.6M397.7 367.1h.6M391.8 371.1h.6M400.6 359.2h.6M394.5 369.0h.6M404.8 360.0h.6M405.8 349.4h.6M396.2 360.2h.6M391.8 364.0h.6M400.1 361.1h.6M393.2 358.0h.6M400.4 361.3h.6M410.3 357.1h.6M394.4 358.0h.6M411.4 350.5h.6M398.4 362.8h.6M401.2 363.5h.6M388.8 362.8h.6M395.2 357.3h.6M394.5 367.3h.6M397.7 360.1h.6M392.7 363.4h.6M394.2 358.4h.6M398.8 355.1h.6M403.3 356.2h.6M379.9 364.5h.6M396.5 357.9h.6M409.2 359.3h.6M410.2 357.0h.6M403.3 355.2h.6M403.3 355.8h.6M393.7 357.6h.6M397.1 362.3h.6M394.0 358.4h.6M403.0 361.0h.6M396.8 363.9h.6M400.5 355.3h.6M393.0 356.1h.6M390.5 366.0h.6M391.4 365.4h.6M395.0 354.2h.6M395.5 367.3h.6M396.4 361.7h.6M389.3 359.1h.6M390.9 374.9h.6M393.6 359.5h.6M393.7 355.4h.6M407.3 361.6h.6M392.0 364.8h.6M391.9 366.8h.6M390.7 363.7h.6M404.9 358.5h.6M391.7 358.1h.6M388.2 370.1h.6M399.3 359.8h.6M404.0 357.6h.6M391.5 363.5h.6M395.5 361.6h.6M412.2 354.7h.6M397.4 359.7h.6M390.4 360.8h.6M383.8 366.3h.6M383.9 361.1h.6M387.1 358.7h.6M406.5 360.4h.6M393.4 370.5h.6M396.1 351.9h.6M394.6 358.4h.6M385.0 366.4h.6M403.8 358.8h.6M386.1 364.3h.6M393.2 367.2h.6M393.9 358.9h.6M387.4 358.7h.6M392.3 366.8h.6M384.6 368.3h.6M396.7 364.1h.6M390.5 367.8h.6M409.2 362.8h.6M386.0 366.7h.6M395.0 362.4h.6M391.3 367.2h.6M412.9 357.8h.6M389.3 362.9h.6M400.8 359.3h.6M393.3 367.5h.6M400.9 362.6h.6M397.0 365.7h.6M391.4 359.7h.6M393.8 357.4h.6M404.9 359.3h.6M386.0 367.5h.6M400.7 357.5h.6M397.7 358.3h.6M395.5 361.4h.6M397.0 367.7h.6M390.5 374.1h.6M393.0 375.1h.6M393.0 365.9h.6M398.0 373.8h.6M398.0 370.8h.6M393.6 378.8h.6M388.2 381.2h.6M397.1 372.2h.6M395.4 375.5h.6M391.9 373.9h.6M391.2 363.2h.6M395.8 373.0h.6M397.6 375.3h.6M397.8 376.5h.6M390.8 378.6h.6M405.8 369.7h.6M390.0 375.9h.6M398.7 377.6h.6M401.2 365.6h.6M396.5 374.8h.6M400.0 368.0h.6M395.1 370.6h.6M394.4 371.8h.6M394.4 363.6h.6M394.9 372.8h.6M393.5 354.7h.6M392.2 369.2h.6M391.5 380.5h.6M398.7 371.6h.6M397.4 389.0h.6M391.1 374.9h.6M392.6 380.0h.6M399.5 371.9h.6M397.5 368.5h.6M388.6 376.7h.6M401.6 371.0h.6M392.9 363.5h.6M403.7 366.5h.6M391.1 371.5h.6M399.9 372.8h.6M394.9 372.6h.6M398.4 372.3h.6M395.6 372.1h.6M390.5 379.2h.6M392.2 365.9h.6M393.3 372.7h.6M398.3 365.1h.6M389.9 373.4h.6M396.6 367.0h.6M390.4 373.4h.6M394.4 364.4h.6M391.5 380.0h.6M390.8 377.8h.6M388.8 380.0h.6M401.5 369.3h.6M392.3 375.7h.6M390.0 375.3h.6M399.9 373.8h.6M396.3 371.7h.6M399.0 368.4h.6M401.4 372.4h.6M393.7 364.3h.6M393.2 373.7h.6M400.0 364.4h.6M394.5 369.1h.6M390.2 372.5h.6M392.0 376.9h.6M384.2 376.2h.6M387.4 362.7h.6M397.1 370.8h.6M395.5 367.6h.6M390.8 368.8h.6M394.8 368.3h.6M393.3 368.2h.6M395.9 366.8h.6M386.6 359.3h.6M394.9 373.0h.6M398.9 368.8h.6M390.4 365.0h.6M398.1 369.4h.6M399.0 372.1h.6M393.9 363.2h.6M392.3 376.5h.6M392.6 375.9h.6M388.4 377.6h.6M406.2 378.1h.6M396.3 366.3h.6M392.9 369.2h.6M395.7 362.4h.6M391.5 376.5h.6M395.6 376.2h.6M398.4 366.8h.6M389.6 374.8h.6M395.1 372.9h.6M391.7 377.6h.6M397.0 378.2h.6M393.6 376.0h.6M394.8 367.8h.6M394.7 364.2h.6M394.3 373.4h.6M397.8 367.2h.6M389.7 368.8h.6M386.7 369.2h.6M405.5 373.2h.6M392.0 369.1h.6M402.1 366.7h.6M394.5 372.1h.6M392.1 368.9h.6M388.3 368.3h.6M400.2 379.6h.6M393.9 376.0h.6M396.8 373.1h.6M394.5 378.6h.6M397.3 371.4h.6M394.1 377.2h.6M392.6 368.9h.6M393.9 370.0h.6M400.1 374.3h.6M394.6 369.9h.6M400.7 374.7h.6M403.4 377.1h.6M394.1 369.7h.6M393.9 373.4h.6M398.2 374.9h.6M401.3 364.9h.6M395.1 365.4h.6M390.9 369.5h.6M392.4 367.6h.6M388.9 378.2h.6M393.7 377.3h.6M390.6 360.9h.6M392.6 376.9h.6M392.8 374.5h.6M390.7 379.5h.6M396.7 377.8h.6M393.9 378.9h.6M395.3 370.0h.6M392.4 372.8h.6M391.4 366.5h.6M395.5 376.1h.6M393.8 376.7h.6M401.4 366.1h.6M396.0 367.7h.6M392.4 373.4h.6M385.5 375.5h.6M398.4 375.2h.6M397.6 381.6h.6M393.5 378.0h.6M400.8 375.0h.6M387.8 371.7h.6M393.8 364.4h.6M394.8 376.3h.6M394.0 371.6h.6M400.9 369.4h.6M391.2 372.7h.6M399.5 375.5h.6M395.3 370.0h.6M399.9 376.9h.6M388.0 374.2h.6M385.4 380.0h.6M397.5 369.3h.6M389.8 371.0h.6M388.0 375.3h.6M392.9 363.6h.6M394.9 378.4h.6M389.9 370.7h.6M402.3 373.4h.6M392.8 373.4h.6M398.1 367.5h.6M394.6 364.3h.6M388.6 364.8h.6M398.4 374.0h.6M397.9 378.6h.6M395.2 373.7h.6M396.6 374.8h.6M390.7 371.1h.6M394.4 372.7h.6M392.0 371.8h.6M396.1 373.4h.6M397.4 376.6h.6M397.2 377.3h.6M398.4 379.5h.6M397.5 369.4h.6M404.3 378.1h.6M400.0 376.2h.6M395.2 366.8h.6M396.7 370.7h.6M393.4 361.8h.6M401.2 366.6h.6M390.6 374.8h.6M397.3 368.5h.6M395.0 373.8h.6M395.6 375.1h.6M398.1 370.7h.6M388.5 383.3h.6M393.5 367.5h.6M398.0 375.4h.6M392.5 384.3h.6M385.6 378.9h.6M394.8 374.0h.6M396.3 371.3h.6M396.3 366.0h.6M393.4 381.8h.6M384.7 378.7h.6M386.0 368.2h.6M398.5 370.4h.6M392.7 365.0h.6M394.5 371.6h.6M392.4 364.7h.6M395.6 374.6h.6M399.6 375.1h.6M401.1 378.5h.6M383.7 380.8h.6M394.6 367.2h.6M396.7 377.3h.6M388.8 366.3h.6M397.8 369.7h.6M400.8 373.6h.6M392.8 365.8h.6M397.4 363.9h.6M389.8 365.9h.6M401.8 381.0h.6M394.1 370.6h.6M397.8 378.7h.6M391.8 383.5h.6M394.2 378.2h.6M385.5 372.2h.6M392.2 382.5h.6M394.1 366.1h.6M402.8 369.1h.6M395.0 366.2h.6M397.7 373.5h.6M393.8 370.5h.6M392.7 368.9h.6M389.3 378.5h.6M398.6 365.5h.6M390.3 374.5h.6M404.1 371.5h.6M393.7 371.2h.6M396.0 371.6h.6M399.3 377.4h.6M397.2 380.4h.6M394.1 369.7h.6M407.0 362.8h.6M388.7 360.7h.6M396.4 367.1h.6M399.3 362.0h.6M394.4 370.5h.6M390.7 378.1h.6M393.4 374.8h.6M392.9 373.2h.6M393.2 372.9h.6M394.6 369.1h.6M396.8 371.6h.6M391.1 367.2h.6M396.8 379.2h.6M389.7 370.4h.6M396.8 377.7h.6M397.9 366.6h.6M395.1 377.0h.6M396.0 371.4h.6M390.2 373.3h.6M394.7 372.7h.6M401.0 378.5h.6M391.8 373.7h.6M393.7 373.0h.6M401.6 377.1h.6M395.2 369.2h.6M394.3 374.3h.6M393.0 378.0h.6M395.1 366.6h.6M403.2 357.9h.6M393.9 371.9h.6M399.0 378.1h.6M400.9 380.3h.6M396.3 373.1h.6M399.1 372.4h.6M389.9 370.2h.6M397.7 375.6h.6M390.6 378.5h.6M396.2 365.0h.6M396.9 377.5h.6M397.1 370.9h.6M391.8 378.1h.6M395.9 372.5h.6M393.4 367.3h.6M387.5 370.8h.6M399.5 376.3h.6M392.3 380.2h.6M394.1 367.4h.6M398.9 379.4h.6M393.4 366.4h.6M394.7 360.3h.6M395.2 380.1h.6M396.1 368.8h.6M397.8 370.0h.6M400.1 370.7h.6M403.2 370.7h.6M395.8 367.8h.6M389.9 374.2h.6M396.4 367.6h.6M397.3 370.4h.6M392.8 372.1h.6M396.6 376.1h.6M400.0 374.4h.6M392.1 369.1h.6M396.5 366.5h.6M394.3 370.6h.6M394.6 373.4h.6M399.2 380.7h.6M398.5 377.6h.6M390.7 377.7h.6M400.2 365.7h.6M405.1 369.7h.6M385.4 381.4h.6M395.3 368.5h.6M392.7 377.9h.6M396.0 370.6h.6M399.6 367.8h.6M391.6 369.7h.6M392.0 376.0h.6M394.1 367.2h.6M393.2 362.5h.6M395.7 373.0h.6M397.4 371.3h.6M396.6 367.8h.6M395.1 373.3h.6M390.1 375.4h.6M395.6 372.8h.6M393.1 382.5h.6M395.0 368.7h.6M391.6 375.5h.6M394.2 368.5h.6M392.1 377.2h.6M395.3 377.8h.6M394.9 366.6h.6M398.5 374.1h.6M392.4 370.9h.6M391.1 376.7h.6M393.3 374.9h.6M396.0 371.2h.6M396.5 371.3h.6M390.3 370.4h.6M390.3 376.3h.6M397.6 369.6h.6M397.5 373.7h.6M398.9 367.8h.6M395.1 367.5h.6M392.3 379.3h.6M375.9 357.8h.6M403.4 373.0h.6M389.4 347.7h.6M379.1 369.3h.6M410.1 374.2h.6M389.9 378.2h.6M395.9 371.5h.6M395.9 380.3h.6M392.3 346.7h.6M394.5 367.7h.6M401.1 359.5h.6M395.4 355.8h.6M395.4 366.8h.6M400.6 380.8h.6M376.0 370.7h.6M402.8 355.6h.6M398.8 365.9h.6M387.0 372.5h.6M419.0 372.1h.6M406.5 375.6h.6M396.6 374.7h.6M389.1 367.6h.6M405.7 377.7h.6M394.8 363.4h.6M403.1 365.3h.6M399.5 373.2h.6M389.6 373.9h.6M402.2 363.6h.6M384.3 360.3h.6M397.5 374.4h.6M376.4 372.4h.6M400.1 355.9h.6M407.4 369.6h.6M402.8 357.2h.6M385.9 374.1h.6M413.4 369.3h.6M395.9 362.0h.6M379.2 374.8h.6M397.0 377.0h.6M390.1 375.4h.6M390.2 371.2h.6M413.0 359.7h.6M407.9 365.9h.6M387.7 367.8h.6M405.1 359.6h.6M395.1 360.9h.6M389.6 364.1h.6M407.0 361.6h.6M411.6 362.6h.6M390.5 375.6h.6M413.3 360.2h.6M404.4 355.6h.6M393.6 362.7h.6M405.7 354.8h.6M392.4 359.8h.6M399.1 355.0h.6M383.4 391.2h.6M400.3 352.6h.6M407.1 354.3h.6M377.5 380.9h.6M411.6 358.5h.6M386.1 370.2h.6M420.1 371.3h.6M405.2 355.4h.6M378.6 369.4h.6M409.0 367.2h.6M397.9 378.3h.6M388.8 375.8h.6M407.0 360.4h.6M399.3 367.0h.6M404.3 357.3h.6M395.5 366.8h.6M398.3 366.2h.6M400.7 364.3h.6M392.6 375.2h.6M391.0 363.2h.6M388.4 355.8h.6M402.9 365.6h.6M396.5 370.0h.6M396.1 372.0h.6M417.6 369.1h.6M395.1 380.7h.6M405.7 351.2h.6M412.4 367.9h.6M407.2 355.8h.6M388.8 360.2h.6M404.0 356.0h.6M390.3 374.4h.6M391.0 367.0h.6M388.3 350.9h.6M397.1 364.9h.6M382.5 374.6h.6M406.9 373.8h.6M392.5 355.8h.6M397.0 367.5h.6M396.1 360.8h.6M387.2 359.5h.6M397.1 361.7h.6M416.0 363.6h.6M402.9 361.9h.6M396.0 357.4h.6M392.8 352.7h.6M375.6 377.8h.6M386.6 369.8h.6M396.6 361.0h.6M405.8 361.1h.6M402.7 362.7h.6M408.5 374.4h.6M398.7 375.7h.6M403.4 379.7h.6M396.7 352.3h.6M400.3 368.1h.6M394.1 364.2h.6M395.1 354.9h.6M416.5 359.1h.6M386.4 352.0h.6M388.9 365.6h.6M413.9 371.3h.6M390.1 355.0h.6M385.9 365.3h.6M407.3 361.7h.6M415.3 383.0h.6M399.7 346.9h.6M409.7 365.1h.6M405.2 374.7h.6M387.1 366.6h.6M399.9 359.3h.6M405.5 364.8h.6M393.6 382.6h.6M399.8 380.4h.6M396.3 375.1h.6M389.9 367.3h.6M409.6 346.8h.6M403.8 363.6h.6M409.7 367.6h.6M397.2 354.7h.6M394.5 359.6h.6M394.7 367.9h.6M383.6 375.3h.6M395.2 371.3h.6M375.3 361.4h.6M394.8 362.6h.6M390.8 368.7h.6M402.3 357.3h.6M376.9 372.4h.6M394.5 375.4h.6M407.3 365.1h.6M382.6 362.8h.6M390.1 376.9h.6M379.7 374.0h.6M381.4 360.9h.6M382.8 359.8h.6M393.2 369.2h.6M391.6 372.0h.6M416.8 367.4h.6M385.6 364.4h.6M396.8 362.8h.6M410.3 376.2h.6M419.5 370.6h.6M369.3 364.8h.6M405.1 358.9h.6M391.5 374.0h.6M399.5 356.1h.6M391.7 338.8h.6M397.9 355.2h.6M397.4 355.5h.6M388.0 361.4h.6M427.8 355.5h.6M385.2 361.2h.6M409.3 373.0h.6M405.4 363.1h.6M399.3 359.2h.6M396.0 358.9h.6M382.3 357.2h.6M418.6 369.5h.6M389.9 365.0h.6M393.1 376.7h.6M397.6 360.4h.6M405.2 368.8h.6M390.6 359.2h.6M399.4 351.5h.6M388.1 374.9h.6M407.2 375.8h.6M393.1 360.7h.6M395.0 361.7h.6M411.6 364.0h.6M412.4 359.7h.6M401.9 380.3h.6M389.9 360.2h.6M391.5 351.8h.6M394.7 360.3h.6M421.6 361.8h.6M375.0 374.3h.6M408.1 365.7h.6M401.0 372.3h.6M391.9 366.3h.6M399.4 380.6h.6M413.0 367.4h.6M383.5 373.7h.6M397.3 376.3h.6M398.5 367.6h.6M404.9 359.5h.6M390.8 386.2h.6M388.6 374.2h.6M405.2 373.2h.6M412.5 354.2h.6M408.1 347.8h.6M398.4 368.9h.6M408.9 375.5h.6M387.9 363.6h.6M396.2 359.8h.6M389.1 360.1h.6M410.2 378.0h.6M405.9 380.8h.6M398.8 356.4h.6M390.9 367.8h.6M408.9 376.7h.6M388.3 374.4h.6M392.2 371.2h.6" stroke="#111" stroke-width=".6" opacity=".85"/>
<ellipse cx="396" cy="361.6" rx="10.98" ry="5.73" transform="rotate(-29 396 361.6)" fill="#000" opacity="0.22"/>
<ellipse cx="396" cy="361.6" rx="9.9" ry="5.17" transform="rotate(-29 396 361.6)" fill="#000" opacity="0.4"/>
<ellipse cx="396" cy="361.6" rx="9" ry="4.7" transform="rotate(-29 396 361.6)" fill="#000" opacity="1"/>
<text x="358.2" y="342.8" font-size="8.6" font-weight="bold" fill="#111">26.6</text>
<text x="402.9" y="342.8" font-size="8.6" font-weight="bold" fill="#111">46.9</text>
<text x="358.2" y="396.7" font-size="8.6" font-weight="bold" fill="#111">15.2</text>
<text x="402.9" y="396.7" font-size="8.6" font-weight="bold" fill="#111">11.3</text>
<rect x="435" y="330.2" width="73.5" height="73.4" fill="none" stroke="#b8b8b8" stroke-width="1"/>
<line x1="473.7" y1="330.2" x2="473.7" y2="403.6" stroke="#6a6a6a" stroke-width="1.1"/>
<line x1="435" y1="365.9" x2="508.5" y2="365.9" stroke="#6a6a6a" stroke-width="1.1"/>
<path d="M482.2 362.9h.6M471.6 364.1h.6M476.3 359.1h.6M475.9 363.1h.6M463.6 365.3h.6M488.9 355.5h.6M468.2 358.3h.6M469.5 366.3h.6M479.2 360.8h.6M477.0 358.1h.6M482.2 353.3h.6M477.1 359.3h.6M465.6 369.9h.6M473.9 364.7h.6M482.3 358.1h.6M470.1 363.3h.6M476.2 366.1h.6M482.0 363.4h.6M477.8 357.1h.6M481.5 361.5h.6M474.4 363.5h.6M470.6 359.2h.6M475.1 364.2h.6M468.8 356.6h.6M471.3 367.4h.6M477.5 364.2h.6M469.3 363.0h.6M467.2 362.8h.6M477.7 360.5h.6M472.0 364.2h.6M466.0 364.9h.6M463.1 362.4h.6M464.6 363.1h.6M486.0 360.5h.6M481.0 356.0h.6M476.4 356.5h.6M471.5 364.2h.6M465.2 367.5h.6M474.9 353.8h.6M459.4 368.9h.6M473.9 362.6h.6M468.5 367.1h.6M474.0 359.3h.6M484.6 357.1h.6M481.7 364.6h.6M471.1 362.7h.6M463.7 366.8h.6M480.9 367.5h.6M478.1 360.5h.6M465.5 363.4h.6M461.2 363.9h.6M475.5 362.2h.6M468.6 364.1h.6M470.6 366.1h.6M477.3 358.1h.6M469.8 359.7h.6M475.0 369.5h.6M475.7 364.2h.6M480.2 364.1h.6M471.0 360.2h.6M482.0 361.0h.6M472.2 367.0h.6M474.3 361.7h.6M486.2 357.3h.6M475.8 359.8h.6M477.2 364.1h.6M475.9 358.1h.6M476.9 359.9h.6M475.9 360.2h.6M458.8 364.3h.6M468.7 356.7h.6M468.6 372.5h.6M477.8 358.2h.6M472.9 354.3h.6M477.4 363.8h.6M473.5 357.4h.6M479.4 357.1h.6M471.3 364.2h.6M475.8 368.6h.6M476.9 368.4h.6M475.2 356.7h.6M474.5 361.9h.6M485.0 360.7h.6M488.7 351.5h.6M475.4 369.9h.6M469.6 365.7h.6M482.5 353.6h.6M471.1 360.8h.6M478.2 361.2h.6M475.2 363.8h.6M469.1 363.2h.6M480.4 366.0h.6M474.3 362.0h.6M482.4 357.7h.6M482.6 358.2h.6M481.6 358.5h.6M467.5 362.3h.6M479.9 365.8h.6M485.1 354.7h.6M487.7 350.3h.6M470.8 367.2h.6M466.7 369.4h.6M477.7 362.3h.6M467.8 366.8h.6M480.0 358.5h.6M480.6 358.4h.6M476.0 359.7h.6M466.0 365.8h.6M476.2 357.9h.6M460.2 363.7h.6M482.0 356.8h.6M471.8 367.8h.6M471.0 358.0h.6M470.4 360.7h.6M471.9 359.7h.6M475.5 362.9h.6M470.6 363.1h.6M474.8 364.7h.6M471.3 366.3h.6M481.6 357.1h.6M468.1 364.0h.6M462.9 366.0h.6M466.9 365.2h.6M473.0 364.5h.6M475.8 362.6h.6M474.6 362.7h.6M468.6 367.4h.6M484.0 360.7h.6M467.0 367.4h.6M465.8 369.3h.6M472.4 361.1h.6M469.5 363.5h.6M472.9 359.0h.6M475.2 362.3h.6M477.5 359.9h.6M478.0 368.5h.6M481.0 359.4h.6M467.0 368.1h.6M473.7 352.2h.6M474.0 363.4h.6M474.8 361.9h.6M475.7 366.3h.6M476.3 359.7h.6M476.3 368.5h.6M468.4 363.1h.6M476.6 361.1h.6M478.4 364.7h.6M482.0 359.2h.6M474.6 361.4h.6M474.6 365.4h.6M465.1 362.9h.6M470.1 360.5h.6M471.9 367.6h.6M461.7 370.8h.6M466.1 365.4h.6M469.4 360.8h.6M465.6 366.9h.6M453.2 365.4h.6M473.8 366.2h.6M485.2 354.8h.6M469.1 363.6h.6M478.7 362.9h.6M469.4 366.3h.6M476.0 365.2h.6M471.6 362.5h.6M467.2 360.7h.6M477.2 362.9h.6M481.7 358.8h.6M470.2 360.6h.6M466.3 363.5h.6M476.6 360.9h.6M460.4 369.0h.6M471.0 359.7h.6M475.1 363.3h.6M466.0 361.3h.6M472.9 363.6h.6M475.3 367.1h.6M473.7 358.4h.6M478.1 357.3h.6M478.8 359.7h.6M480.3 354.8h.6M479.5 360.6h.6M470.1 366.8h.6M488.8 355.3h.6M469.5 363.8h.6M482.7 358.2h.6M482.4 354.9h.6M479.9 352.8h.6M473.0 361.4h.6M473.4 366.9h.6M471.3 364.7h.6M487.0 358.0h.6M470.8 361.0h.6M462.9 369.5h.6M481.6 362.0h.6M479.3 367.2h.6M475.5 352.5h.6M470.3 367.0h.6M473.3 365.5h.6M488.8 351.0h.6M487.8 354.1h.6M465.6 366.9h.6M479.0 357.0h.6M482.7 353.9h.6M474.7 365.0h.6M472.3 360.8h.6M475.4 363.7h.6M487.2 359.9h.6M485.8 355.4h.6M464.3 367.1h.6M470.4 360.2h.6M471.2 363.2h.6M476.2 364.2h.6M470.7 368.1h.6M475.9 363.7h.6M480.1 354.0h.6M483.1 354.3h.6M478.6 363.5h.6M477.6 354.1h.6M477.3 364.5h.6M473.6 361.9h.6M477.5 366.2h.6M469.7 360.8h.6M466.9 363.9h.6M473.6 363.5h.6M471.2 357.0h.6M465.9 368.9h.6M476.8 355.4h.6M476.4 351.5h.6M489.6 355.7h.6M465.1 368.7h.6M473.6 360.5h.6M471.9 362.3h.6M472.4 359.4h.6M471.9 365.2h.6M475.6 356.1h.6M473.9 367.9h.6M481.5 364.1h.6M464.6 363.2h.6M458.1 363.4h.6M470.5 359.9h.6M466.7 363.3h.6M474.7 364.7h.6M475.1 354.7h.6M483.1 355.8h.6M468.3 365.0h.6M469.8 359.0h.6M483.1 354.8h.6M471.7 365.3h.6M485.5 357.5h.6M469.7 366.0h.6M481.9 359.1h.6M477.7 358.1h.6M471.4 357.1h.6M468.3 360.8h.6M476.9 366.0h.6M458.6 365.4h.6M468.6 364.6h.6M480.4 355.5h.6M471.6 367.9h.6M477.6 362.0h.6M478.4 356.8h.6M474.8 359.0h.6M470.3 364.5h.6M475.1 356.5h.6M470.7 366.1h.6M476.6 363.1h.6M471.3 360.4h.6M480.3 360.8h.6M458.4 373.8h.6M470.9 366.2h.6M483.7 355.6h.6M468.9 365.7h.6M475.9 363.0h.6M466.2 367.1h.6M481.1 360.7h.6M480.3 363.1h.6M471.4 368.0h.6M474.2 358.1h.6M473.1 363.5h.6M478.7 364.5h.6M474.9 359.6h.6M487.4 353.4h.6M470.9 367.2h.6M470.7 360.8h.6M469.8 368.7h.6M468.1 365.6h.6M471.4 362.7h.6M469.7 364.9h.6M479.9 362.7h.6M470.4 359.5h.6M465.4 366.7h.6M461.3 373.9h.6M474.9 362.0h.6M464.9 364.5h.6M471.0 366.2h.6M473.0 364.9h.6M474.6 354.4h.6M475.1 366.2h.6M471.6 363.8h.6M471.8 358.6h.6M487.7 354.0h.6M477.7 358.3h.6M485.0 360.3h.6M483.3 360.5h.6M481.0 363.4h.6M477.2 360.8h.6M478.1 356.4h.6M460.1 372.6h.6M474.3 359.2h.6M471.3 359.9h.6M469.6 365.1h.6M476.6 363.7h.6M474.9 363.9h.6M477.6 357.4h.6M463.0 365.4h.6M472.1 361.0h.6M487.0 352.3h.6M476.2 357.9h.6M476.8 355.7h.6M480.7 359.0h.6M470.2 359.6h.6M483.9 354.4h.6M479.6 349.9h.6M470.0 371.0h.6M485.5 355.8h.6M481.6 360.1h.6M472.5 363.3h.6M465.3 361.7h.6M476.4 363.4h.6M473.6 357.6h.6M479.9 359.1h.6M478.7 358.4h.6M474.5 365.7h.6M481.1 353.6h.6M469.2 368.3h.6M476.8 360.7h.6M470.1 368.0h.6M476.0 361.7h.6M476.1 358.9h.6M477.2 360.8h.6M479.6 360.4h.6M465.5 364.0h.6M474.7 366.0h.6M472.3 367.2h.6M482.6 360.6h.6M488.4 354.1h.6M478.4 364.2h.6M478.6 363.2h.6M476.0 366.3h.6M473.7 355.0h.6M480.9 357.5h.6M468.6 363.8h.6M474.6 366.0h.6M476.5 360.4h.6M473.0 359.2h.6M469.8 362.5h.6M471.3 359.1h.6M473.6 366.0h.6M477.3 360.2h.6M476.3 359.9h.6M468.6 368.3h.6M489.2 355.7h.6M482.6 366.5h.6M467.9 367.3h.6M472.0 362.1h.6M464.2 367.1h.6M474.5 355.8h.6M472.4 361.1h.6M469.4 366.9h.6M485.3 357.4h.6M482.1 360.5h.6M475.0 363.6h.6M482.0 356.1h.6M471.4 358.3h.6M461.8 365.7h.6M480.6 359.8h.6M478.2 364.7h.6M465.8 371.7h.6M476.3 363.7h.6M481.8 354.7h.6M469.8 365.8h.6M473.3 360.3h.6M472.6 360.1h.6M474.8 360.2h.6M483.4 353.0h.6M478.2 360.0h.6M482.8 353.6h.6M474.4 368.3h.6M469.9 362.9h.6M470.6 360.3h.6M484.4 362.0h.6M472.4 360.1h.6M467.2 368.2h.6M472.1 365.1h.6M459.0 368.6h.6M479.0 360.8h.6M457.3 372.2h.6M475.3 361.2h.6M471.7 361.6h.6M476.2 362.7h.6M455.0 372.4h.6M479.9 358.0h.6M480.6 354.9h.6M487.8 358.1h.6M476.3 371.0h.6M485.9 361.4h.6M467.0 365.4h.6M479.1 363.2h.6M473.0 357.8h.6M481.8 357.1h.6M476.7 359.3h.6M471.7 358.2h.6M477.7 357.7h.6M464.2 368.9h.6M475.8 364.6h.6M477.7 355.5h.6M473.4 362.3h.6M473.4 358.4h.6M476.5 364.3h.6M484.5 361.7h.6M475.2 351.9h.6M472.0 361.1h.6M459.0 375.9h.6M480.1 358.6h.6M477.5 361.9h.6M475.3 366.4h.6M487.1 357.9h.6M471.5 364.3h.6M481.7 360.5h.6M471.8 366.8h.6M479.9 361.0h.6M471.9 363.1h.6M462.7 368.1h.6M471.3 362.4h.6M472.3 361.8h.6M475.2 361.7h.6M470.5 363.4h.6M474.7 363.4h.6M476.7 359.2h.6M466.9 359.8h.6M467.4 367.1h.6M471.4 369.4h.6M472.9 361.2h.6M472.7 360.7h.6M470.7 364.0h.6M465.8 367.0h.6M472.5 359.5h.6M481.4 359.3h.6M480.2 356.2h.6M465.0 362.5h.6M461.9 361.6h.6M483.4 355.1h.6M474.9 359.5h.6M476.1 366.7h.6M462.3 364.8h.6M473.9 358.7h.6M480.8 363.1h.6M481.2 360.9h.6M475.1 365.1h.6M467.7 361.0h.6M472.5 361.9h.6M480.5 354.8h.6M480.4 355.6h.6M464.1 361.1h.6M472.0 357.7h.6M475.9 361.1h.6M469.0 357.6h.6M472.0 364.7h.6M464.6 369.7h.6M473.8 360.1h.6M476.8 362.9h.6M473.2 359.6h.6M478.3 357.1h.6M478.3 363.3h.6M485.1 361.9h.6M481.0 358.7h.6M473.6 362.9h.6M482.4 368.5h.6M477.3 357.1h.6M481.4 352.0h.6M478.7 354.7h.6M467.0 363.9h.6M470.7 358.8h.6M478.1 359.3h.6M481.2 354.3h.6M464.4 369.8h.6M474.7 365.3h.6M458.2 366.0h.6M478.1 367.0h.6M463.9 360.4h.6M473.9 367.3h.6M482.1 352.5h.6M467.9 358.5h.6M467.8 361.8h.6M478.9 363.5h.6M488.6 352.7h.6M479.9 359.6h.6M478.3 366.8h.6M481.3 363.8h.6M477.7 363.2h.6M477.5 359.7h.6M469.6 362.9h.6M474.0 360.6h.6M471.3 360.8h.6M479.4 358.1h.6M473.4 361.5h.6M481.8 355.8h.6M481.9 354.5h.6M484.9 358.3h.6M472.2 364.7h.6M480.0 355.2h.6M473.6 363.4h.6M472.8 361.6h.6M475.1 362.5h.6M481.6 363.3h.6M477.1 371.2h.6M475.3 367.9h.6M471.5 358.0h.6M471.3 362.2h.6M477.9 352.3h.6M470.4 363.5h.6M479.2 360.6h.6M479.5 358.4h.6M475.0 365.9h.6M485.7 357.0h.6M474.1 358.7h.6M488.1 355.8h.6M475.8 355.0h.6M482.0 366.6h.6M473.2 361.7h.6M483.7 356.0h.6M482.7 364.4h.6M466.0 363.3h.6M478.9 359.8h.6M474.5 361.1h.6M475.9 362.3h.6M471.2 362.5h.6M474.2 357.8h.6M473.8 353.9h.6M478.3 359.2h.6M469.4 369.5h.6M470.6 371.6h.6M472.0 367.6h.6M476.7 366.5h.6M474.8 365.4h.6M469.6 357.4h.6M477.7 361.8h.6M479.6 365.2h.6M467.8 360.1h.6M475.0 358.9h.6M473.9 362.0h.6M471.2 367.6h.6M476.6 367.2h.6M477.7 363.9h.6M471.7 360.8h.6M469.9 360.9h.6M477.5 360.6h.6M465.5 360.9h.6M466.4 359.3h.6M466.7 360.3h.6M477.0 356.0h.6M470.7 363.3h.6M475.4 362.8h.6M480.2 361.0h.6M474.4 366.4h.6M475.7 358.4h.6M481.8 353.3h.6M479.4 363.7h.6M475.8 362.3h.6M476.3 363.2h.6M475.9 361.0h.6M475.9 353.9h.6M475.6 360.0h.6M487.0 356.0h.6M471.5 365.8h.6M470.3 359.6h.6M473.6 364.1h.6M483.4 360.7h.6M475.7 360.5h.6M477.7 364.5h.6M475.6 365.4h.6M469.7 364.3h.6M480.4 361.1h.6M475.0 359.5h.6M462.9 366.4h.6M468.8 363.4h.6M482.9 354.2h.6M479.7 358.8h.6M468.0 365.7h.6M477.2 355.8h.6M466.9 364.5h.6M478.0 357.6h.6M477.8 361.6h.6M475.3 362.9h.6M481.9 356.9h.6M474.8 357.6h.6M470.0 363.8h.6M478.4 357.1h.6M467.6 368.9h.6M484.9 346.5h.6M468.3 365.6h.6M476.0 357.4h.6M478.3 363.7h.6M474.0 364.7h.6M473.9 358.6h.6M469.9 362.0h.6M484.4 360.6h.6M473.6 356.4h.6M470.9 362.2h.6M462.8 368.0h.6M474.2 357.0h.6M471.2 361.8h.6M486.7 357.5h.6M479.3 359.4h.6M468.2 368.6h.6M467.5 358.4h.6M478.4 358.3h.6M475.3 363.2h.6M473.8 363.6h.6M481.8 356.5h.6M472.4 362.9h.6M477.8 358.4h.6M474.0 359.5h.6M474.9 363.5h.6M469.3 363.9h.6M464.6 364.5h.6M475.8 363.0h.6M468.2 364.8h.6M469.4 365.6h.6M476.8 362.1h.6M471.0 358.3h.6M469.1 359.7h.6M470.4 363.8h.6M480.0 356.3h.6M470.2 364.8h.6M465.2 374.1h.6M466.9 369.6h.6M481.9 361.2h.6M475.0 364.1h.6M474.0 365.6h.6M469.3 361.5h.6M476.1 359.2h.6M477.2 357.0h.6M474.6 358.0h.6M477.3 368.2h.6M466.2 361.7h.6M464.6 366.3h.6M483.5 355.1h.6M479.8 358.1h.6M473.9 369.5h.6M478.1 352.9h.6M469.3 366.1h.6M478.1 358.9h.6M477.2 362.2h.6M474.0 365.7h.6M470.6 366.6h.6M480.3 359.3h.6M472.4 362.8h.6M461.7 369.7h.6M462.9 360.6h.6M477.6 356.6h.6M476.7 360.7h.6M462.6 364.9h.6M473.6 363.9h.6M473.0 357.9h.6M471.5 363.7h.6M466.2 364.6h.6M467.9 357.4h.6M486.2 358.6h.6M473.2 365.9h.6M470.7 369.5h.6M472.5 363.3h.6M471.2 363.8h.6M476.5 360.7h.6M470.8 366.5h.6M477.8 359.9h.6M479.6 356.2h.6M481.9 357.1h.6M482.8 355.5h.6M473.3 363.1h.6M483.3 362.2h.6M470.7 361.1h.6M481.0 362.8h.6M478.2 358.5h.6M482.1 357.5h.6M476.5 362.9h.6M467.6 357.1h.6M476.9 363.0h.6M478.0 361.8h.6M477.1 364.1h.6M477.5 365.6h.6M476.1 363.8h.6M471.7 364.3h.6M477.3 360.7h.6M483.8 356.8h.6M481.7 359.1h.6M479.6 355.6h.6M473.9 365.6h.6M470.3 365.5h.6M475.7 373.5h.6M475.2 375.2h.6M472.6 374.5h.6M471.5 370.3h.6M467.4 372.0h.6M466.9 372.6h.6M474.3 367.1h.6M473.8 373.9h.6M472.2 368.0h.6M473.1 374.5h.6M477.1 382.0h.6M465.9 374.2h.6M475.2 369.4h.6M474.8 382.8h.6M473.9 379.2h.6M477.6 370.3h.6M464.6 378.2h.6M479.5 363.8h.6M472.7 369.1h.6M474.3 372.8h.6M477.9 369.6h.6M481.0 364.1h.6M474.3 385.7h.6M473.1 375.6h.6M471.7 388.8h.6M477.0 370.8h.6M466.1 373.6h.6M476.3 362.4h.6M471.6 375.3h.6M464.2 371.6h.6M467.4 365.9h.6M475.1 378.1h.6M478.0 369.3h.6M475.5 363.8h.6M467.8 375.2h.6M472.0 367.5h.6M466.3 371.3h.6M482.2 362.5h.6M469.5 378.1h.6M466.1 369.4h.6M473.8 378.1h.6M473.2 381.5h.6M473.4 372.0h.6M475.2 374.2h.6M467.7 367.8h.6M472.6 374.2h.6M468.8 369.0h.6M470.6 374.2h.6M471.8 375.5h.6M475.0 368.0h.6M472.4 366.4h.6M473.9 376.5h.6M469.7 363.7h.6M475.5 371.1h.6M473.4 374.8h.6M475.0 377.1h.6M471.7 361.6h.6M471.6 371.0h.6M471.9 374.5h.6M472.5 378.9h.6M471.0 372.5h.6M472.1 383.0h.6M469.8 367.5h.6M472.0 376.3h.6M473.6 371.6h.6M467.8 362.2h.6M472.7 371.3h.6M480.4 374.3h.6M475.2 377.3h.6M470.0 366.4h.6M472.1 379.9h.6M477.4 369.6h.6M468.7 377.1h.6M477.8 367.1h.6M479.8 368.7h.6M476.4 371.5h.6M472.2 369.5h.6M476.2 375.6h.6M476.6 371.1h.6M470.2 383.2h.6M480.2 371.5h.6M469.0 379.9h.6M474.0 372.8h.6M476.8 374.2h.6M473.9 382.4h.6M466.1 375.7h.6M469.7 372.9h.6M472.8 373.8h.6M464.1 376.0h.6M482.6 370.4h.6M477.0 375.6h.6M474.7 370.0h.6M476.0 373.9h.6M479.2 376.6h.6M470.7 358.0h.6M479.4 374.9h.6M474.2 369.5h.6M483.3 379.2h.6M473.9 370.7h.6M475.8 379.3h.6M475.5 377.2h.6M474.5 374.3h.6M468.5 373.1h.6M473.7 372.1h.6M472.6 374.0h.6M471.2 371.5h.6M468.3 384.0h.6M470.0 366.5h.6M471.4 370.4h.6M469.3 360.3h.6M480.0 377.6h.6M472.0 375.3h.6M469.1 364.4h.6M474.8 375.4h.6M470.8 372.5h.6M461.4 371.9h.6M477.7 373.3h.6M474.2 375.4h.6M465.3 366.1h.6M468.5 373.7h.6M471.0 363.1h.6M477.0 371.6h.6M477.4 382.5h.6M467.0 366.1h.6M477.8 379.5h.6M475.1 374.3h.6M476.2 375.8h.6M468.5 376.2h.6M477.4 370.5h.6M469.9 370.1h.6M471.2 375.1h.6M476.6 372.6h.6M472.3 363.7h.6M471.8 367.5h.6M471.3 374.2h.6M474.1 390.0h.6M470.0 369.8h.6M469.0 371.2h.6M472.4 377.5h.6M465.8 377.0h.6M476.1 369.9h.6M470.8 373.5h.6M475.6 371.7h.6M472.9 372.6h.6M469.2 373.9h.6M475.8 372.8h.6M469.0 372.5h.6M473.1 374.1h.6M471.8 376.6h.6M477.8 376.6h.6M474.4 378.6h.6M473.3 371.7h.6M467.8 372.6h.6M478.3 367.8h.6M476.6 366.2h.6M474.7 381.5h.6M473.7 366.7h.6M474.6 371.8h.6M476.6 369.9h.6M466.6 370.1h.6M475.8 377.6h.6M474.6 372.6h.6M476.2 371.5h.6M471.7 373.6h.6M477.8 370.0h.6M475.5 369.4h.6M470.6 373.4h.6M468.2 368.3h.6M468.8 369.6h.6M469.9 384.0h.6M475.9 372.9h.6M468.2 360.8h.6M475.2 369.4h.6M477.6 370.6h.6M468.3 369.4h.6M467.4 365.6h.6M476.3 369.9h.6M476.2 369.8h.6M472.6 369.8h.6M471.3 369.3h.6M479.4 372.2h.6M465.7 380.8h.6M478.5 378.0h.6M473.1 371.8h.6M471.6 373.1h.6M475.3 372.5h.6M470.2 367.8h.6M480.1 380.8h.6M468.5 369.4h.6M473.3 375.4h.6M473.0 373.7h.6M474.9 378.1h.6M468.3 377.9h.6M475.2 375.1h.6M467.5 371.4h.6M472.4 375.6h.6M476.2 375.9h.6M468.3 378.6h.6M473.7 377.1h.6M473.4 369.1h.6M483.9 375.7h.6M476.5 370.3h.6M472.6 377.9h.6M475.2 381.0h.6M478.2 367.3h.6M467.3 378.2h.6M475.8 371.3h.6M472.3 369.8h.6M480.6 371.7h.6M468.0 376.9h.6M473.1 374.2h.6M471.9 372.3h.6M466.0 375.1h.6M470.7 370.7h.6M474.7 378.7h.6M464.9 371.9h.6M475.6 377.4h.6M469.8 374.1h.6M475.0 377.0h.6M471.0 371.6h.6M471.4 378.0h.6M477.8 370.4h.6M472.9 373.6h.6M469.8 372.0h.6M476.9 376.3h.6M470.7 369.4h.6M473.0 365.5h.6M474.7 373.1h.6M468.1 371.4h.6M470.8 371.2h.6M469.9 379.1h.6M469.6 376.2h.6M474.3 379.5h.6M473.2 372.5h.6M473.7 363.5h.6M483.0 371.5h.6M472.2 367.1h.6M472.9 380.3h.6M470.4 374.7h.6M477.5 377.1h.6M471.8 364.2h.6M475.1 375.3h.6M472.1 370.5h.6M480.4 365.0h.6M471.4 369.6h.6M467.2 369.2h.6M470.2 378.5h.6M466.5 366.0h.6M474.5 365.2h.6M465.4 369.6h.6M468.6 367.9h.6M472.8 374.7h.6M470.8 371.2h.6M476.3 371.8h.6M476.4 369.8h.6M475.4 378.6h.6M467.9 386.8h.6M472.1 370.9h.6M472.8 374.8h.6M468.6 372.7h.6M471.1 379.3h.6M466.5 375.6h.6M472.2 369.0h.6M474.0 371.4h.6M473.6 373.7h.6M478.2 370.6h.6M480.1 359.7h.6M480.7 378.3h.6M479.7 373.5h.6M474.6 367.8h.6M478.8 367.1h.6M470.3 372.6h.6M474.4 374.2h.6M468.8 370.9h.6M475.4 378.2h.6M476.5 374.5h.6M472.4 370.0h.6M471.4 372.1h.6M475.5 370.2h.6M481.6 367.8h.6M476.7 371.6h.6M472.9 370.8h.6M479.5 371.2h.6M475.6 373.1h.6M476.4 375.3h.6M480.0 369.1h.6M470.1 380.6h.6M478.5 372.9h.6M472.3 373.8h.6M478.6 368.9h.6M479.2 372.3h.6M472.0 370.7h.6M465.1 374.1h.6M468.2 369.9h.6M469.9 373.7h.6M476.3 372.8h.6M474.2 374.5h.6M479.8 375.3h.6M479.7 372.3h.6M474.8 369.5h.6M475.8 368.5h.6M475.3 369.6h.6M472.0 378.3h.6M474.0 376.3h.6M472.5 363.8h.6M479.3 371.7h.6M470.8 377.0h.6M468.9 369.1h.6M478.0 369.3h.6M477.9 371.1h.6M472.6 372.9h.6M471.4 377.6h.6M477.8 372.9h.6M475.9 375.1h.6M480.1 365.1h.6M477.5 376.9h.6M472.2 372.6h.6M472.0 378.4h.6M468.9 375.4h.6M478.5 375.3h.6M471.5 370.4h.6M465.0 367.7h.6M477.8 368.1h.6M466.9 371.4h.6M467.5 374.7h.6M470.0 377.1h.6M473.0 365.9h.6M470.4 369.5h.6M470.1 378.4h.6M469.4 374.3h.6M471.1 375.4h.6M467.7 365.2h.6M475.5 379.3h.6M467.9 371.1h.6M471.4 368.2h.6M477.3 372.8h.6M467.9 371.6h.6M478.7 369.2h.6M471.4 368.7h.6M474.1 370.0h.6M477.0 368.7h.6M467.6 374.7h.6M460.8 368.1h.6M474.6 373.7h.6M471.1 370.5h.6M475.5 390.1h.6M470.2 371.7h.6M471.6 375.2h.6M473.5 375.2h.6M479.9 371.3h.6M473.6 369.3h.6M499.8 363.1h.6M495.4 376.2h.6M446.8 357.7h.6M466.1 369.5h.6M491.4 366.6h.6M478.6 384.5h.6M480.7 384.4h.6M467.0 380.1h.6M471.3 345.6h.6M467.7 362.1h.6M476.3 372.6h.6M484.4 370.6h.6M468.6 381.3h.6M490.0 366.5h.6M470.6 365.7h.6M474.4 360.2h.6M476.7 360.5h.6M483.9 360.6h.6M482.2 368.9h.6M478.7 370.6h.6M465.6 388.0h.6M469.2 372.4h.6M477.1 362.5h.6M495.9 375.5h.6M473.8 370.9h.6M484.3 379.6h.6M488.0 364.7h.6M474.1 356.3h.6M479.7 373.5h.6M472.6 371.8h.6M478.3 362.2h.6M463.5 375.6h.6M504.7 370.8h.6M465.0 357.4h.6M479.6 371.7h.6M493.5 345.6h.6M497.2 367.6h.6M478.4 369.4h.6M473.0 363.7h.6M488.5 351.4h.6M475.6 370.9h.6M458.8 364.8h.6M493.7 369.3h.6M484.6 372.1h.6M479.3 369.2h.6M467.9 364.4h.6M497.2 355.7h.6M475.0 355.3h.6M471.0 359.6h.6M463.4 368.2h.6M466.5 370.6h.6M496.8 344.3h.6M475.1 348.3h.6M475.5 369.3h.6M479.2 376.4h.6M478.6 351.4h.6M493.5 358.0h.6M475.9 368.9h.6M467.2 366.9h.6M493.3 351.7h.6M458.6 362.3h.6M475.1 355.2h.6M451.6 373.9h.6M481.2 354.8h.6M483.2 365.6h.6M478.7 354.7h.6M474.5 370.2h.6M457.6 357.1h.6M487.6 383.2h.6M484.2 365.5h.6M465.0 362.6h.6M474.2 369.9h.6M474.1 387.3h.6M491.5 347.3h.6M464.1 366.1h.6M487.7 369.6h.6M446.6 352.0h.6M491.8 371.2h.6M505.1 373.0h.6M482.0 379.2h.6M472.0 361.4h.6M465.8 368.2h.6M481.8 374.2h.6M492.9 371.5h.6M490.5 364.0h.6M466.3 372.4h.6M488.1 377.6h.6M475.1 362.1h.6M472.9 369.2h.6M476.4 364.5h.6M479.8 363.6h.6M480.7 361.0h.6M459.9 363.4h.6M497.8 359.1h.6M487.0 377.7h.6M471.0 368.3h.6M451.8 371.0h.6M493.9 367.7h.6M455.0 361.1h.6M468.8 367.1h.6M480.1 362.5h.6M473.6 359.0h.6M483.3 367.8h.6M480.8 361.7h.6M482.4 363.5h.6M480.3 364.7h.6M469.7 356.6h.6M456.4 354.3h.6M482.1 394.2h.6M458.9 359.0h.6M476.9 396.9h.6M474.7 356.0h.6M481.6 384.1h.6M446.2 356.0h.6M490.6 356.0h.6M475.8 360.6h.6M485.4 353.5h.6M480.4 368.0h.6M483.2 369.8h.6M478.7 350.7h.6M473.4 357.9h.6M482.8 364.0h.6M478.7 375.6h.6M475.8 380.7h.6M486.2 353.2h.6M470.5 376.6h.6M471.5 376.4h.6M470.8 365.0h.6M488.3 352.4h.6M477.8 362.1h.6M478.9 380.9h.6M482.4 354.3h.6M487.6 362.1h.6M478.8 376.1h.6M473.6 374.4h.6M479.0 358.2h.6M473.6 354.3h.6M490.0 367.5h.6M487.7 356.4h.6M486.3 355.7h.6M480.1 365.9h.6M470.5 368.7h.6M477.4 358.5h.6M468.8 354.7h.6M492.1 367.3h.6M473.0 372.0h.6M467.5 355.9h.6M480.9 379.8h.6M480.3 367.4h.6M496.2 352.6h.6M476.2 354.3h.6M463.6 363.9h.6M503.9 357.8h.6M470.2 368.4h.6M465.8 363.8h.6M486.0 347.0h.6M473.7 363.5h.6M471.4 365.0h.6M457.2 362.2h.6M471.3 357.1h.6M490.9 383.4h.6M485.8 358.5h.6M492.6 370.4h.6M468.0 371.3h.6M470.6 371.0h.6M487.1 376.1h.6M465.4 364.9h.6M477.0 355.4h.6M481.6 372.0h.6M461.8 361.2h.6M464.8 354.9h.6M465.3 378.0h.6M469.7 362.6h.6M487.9 374.9h.6M492.5 347.9h.6M485.3 350.7h.6M470.0 362.4h.6M470.7 383.1h.6M475.2 376.2h.6M475.0 365.5h.6M482.6 369.9h.6M482.5 350.9h.6M482.6 368.8h.6M483.6 365.5h.6M481.5 354.6h.6M489.5 355.4h.6M492.4 374.8h.6M476.3 363.4h.6M485.6 363.3h.6M463.9 368.4h.6M463.6 362.0h.6M496.7 373.1h.6M472.0 365.4h.6M469.9 365.9h.6M461.1 372.0h.6M477.2 360.7h.6M470.2 389.0h.6M472.1 361.8h.6M470.6 361.7h.6M491.4 371.9h.6M481.6 369.2h.6M464.5 344.9h.6M493.6 372.3h.6M479.4 368.4h.6M479.2 366.2h.6M474.1 346.5h.6M483.3 366.4h.6M487.8 368.7h.6M473.9 371.3h.6M479.1 362.1h.6M472.9 362.3h.6M473.7 362.1h.6M487.8 391.5h.6M475.8 375.8h.6M455.3 337.7h.6M471.8 364.6h.6M468.8 354.1h.6M467.6 361.5h.6" stroke="#111" stroke-width=".6" opacity=".85"/>
<ellipse cx="474.5" cy="361.9" rx="10.74" ry="5.73" transform="rotate(-28 474.5 361.9)" fill="#000" opacity="0.22"/>
<ellipse cx="474.5" cy="361.9" rx="9.68" ry="5.17" transform="rotate(-28 474.5 361.9)" fill="#000" opacity="0.4"/>
<ellipse cx="474.5" cy="361.9" rx="8.8" ry="4.7" transform="rotate(-28 474.5 361.9)" fill="#000" opacity="1"/>
<text x="437" y="342.8" font-size="8.6" font-weight="bold" fill="#111">29.5</text>
<text x="481.3" y="342.8" font-size="8.6" font-weight="bold" fill="#111">44.6</text>
<text x="437" y="396.6" font-size="8.6" font-weight="bold" fill="#111">16.4</text>
<text x="481.3" y="396.6" font-size="8.6" font-weight="bold" fill="#111">9.52</text>
<text x="313.6" y="237" font-size="7.9" text-anchor="middle" stroke="#222" stroke-width="0.12">FMO Control</text>
<text x="393.2" y="237.6" font-size="7.9" text-anchor="middle" stroke="#222" stroke-width="0.12">T</text>
<text x="471.2" y="238" font-size="7.9" text-anchor="middle" stroke="#222" stroke-width="0.12">T+aPC</text>
<text x="396.4" y="327.2" font-size="7.9" text-anchor="middle" stroke="#222" stroke-width="0.12">T+aPC+&#945;KG</text>
<text x="469.7" y="327.2" font-size="7.9" text-anchor="middle" stroke="#222" stroke-width="0.12">T+aPC+Q</text>
<line x1="268.3" y1="245" x2="268.3" y2="390.6" stroke="#222" stroke-width="1.1"/>
<path d="M268.3 239.8 L265.5 246.8 L268.3 245.3 L271.1 246.8Z" fill="#222"/>
<line x1="283" y1="409.5" x2="504" y2="409.5" stroke="#222" stroke-width="1.1"/>
<path d="M509.5 409.5 L502.5 406.7 L504 409.5 L502.5 412.3Z" fill="#222"/>
<text x="386" y="420.8" font-size="8.2" textLength="11.4" lengthAdjust="spacingAndGlyphs" stroke="#222" stroke-width="0.3">CD4</text>
<text x="262.89" y="316.1" font-size="7.8" textLength="15.5" lengthAdjust="spacingAndGlyphs" transform="rotate(-90 262.89 316.1)" stroke="#222" stroke-width="0.25">Ki-67</text>
<rect x="91.3" y="500.5" width="8.5" height="68.8" fill="#1d4e8f"/>
<rect x="107.1" y="527.2" width="8.5" height="42.1" fill="#cc0f30"/>
<line x1="111.35" y1="527.2" x2="111.35" y2="522.3" stroke="#222" stroke-width="0.9"/>
<line x1="108.85" y1="522.3" x2="113.85" y2="522.3" stroke="#222" stroke-width="0.9"/>
<rect x="122.6" y="500.1" width="8.5" height="69.2" fill="#3aaa35"/>
<line x1="126.85" y1="500.1" x2="126.85" y2="494" stroke="#222" stroke-width="0.9"/>
<line x1="124.35" y1="494" x2="129.35" y2="494" stroke="#222" stroke-width="0.9"/>
<rect x="138.4" y="498.6" width="8.3" height="70.7" fill="#5c2479"/>
<line x1="142.55" y1="498.6" x2="142.55" y2="491.6" stroke="#222" stroke-width="0.9"/>
<line x1="140.05" y1="491.6" x2="145.05" y2="491.6" stroke="#222" stroke-width="0.9"/>
<circle cx="95.3" cy="496" r="2.85" fill="#fff" stroke="#111" stroke-width="0.85"/>
<circle cx="93.9" cy="499.2" r="2.85" fill="#fff" stroke="#111" stroke-width="0.85"/>
<circle cx="96.9" cy="501.1" r="2.85" fill="#fff" stroke="#111" stroke-width="0.85"/>
<circle cx="94.5" cy="500.5" r="2.85" fill="#fff" stroke="#111" stroke-width="0.85"/>
<circle cx="110.7" cy="508" r="2.85" fill="#fff" stroke="#111" stroke-width="0.85"/>
<circle cx="108.3" cy="518.3" r="2.85" fill="#fff" stroke="#111" stroke-width="0.85"/>
<circle cx="113.1" cy="518.3" r="2.85" fill="#fff" stroke="#111" stroke-width="0.85"/>
<circle cx="113.7" cy="540.7" r="2.85" fill="#fff" stroke="#111" stroke-width="0.85"/>
<circle cx="109.1" cy="545.4" r="2.85" fill="#fff" stroke="#111" stroke-width="0.85"/>
<circle cx="124.5" cy="493.6" r="2.85" fill="#fff" stroke="#111" stroke-width="0.85"/>
<circle cx="127.5" cy="492.6" r="2.85" fill="#fff" stroke="#111" stroke-width="0.85"/>
<circle cx="126.9" cy="507.1" r="2.85" fill="#fff" stroke="#111" stroke-width="0.85"/>
<circle cx="125.5" cy="510.4" r="2.85" fill="#fff" stroke="#111" stroke-width="0.85"/>
<circle cx="140.4" cy="488.7" r="2.85" fill="#fff" stroke="#111" stroke-width="0.85"/>
<circle cx="142.7" cy="488.1" r="2.85" fill="#fff" stroke="#111" stroke-width="0.85"/>
<circle cx="144.7" cy="489.7" r="2.85" fill="#fff" stroke="#111" stroke-width="0.85"/>
<circle cx="140.4" cy="509.8" r="2.85" fill="#fff" stroke="#111" stroke-width="0.85"/>
<circle cx="143.3" cy="509.4" r="2.85" fill="#fff" stroke="#111" stroke-width="0.85"/>
<line x1="85" y1="465.5" x2="85" y2="569.9" stroke="#111" stroke-width="1.2"/>
<line x1="84.4" y1="569.3" x2="153.5" y2="569.3" stroke="#111" stroke-width="1.3"/>
<line x1="82" y1="569.3" x2="85" y2="569.3" stroke="#222" stroke-width="1"/>
<text x="79.7" y="571.92" font-size="7.6" text-anchor="end" stroke="#222" stroke-width="0.12">0</text>
<line x1="82" y1="549.44" x2="85" y2="549.44" stroke="#222" stroke-width="1"/>
<text x="79.7" y="552.06" font-size="7.6" text-anchor="end" stroke="#222" stroke-width="0.12">20</text>
<line x1="82" y1="529.58" x2="85" y2="529.58" stroke="#222" stroke-width="1"/>
<text x="79.7" y="532.2" font-size="7.6" text-anchor="end" stroke="#222" stroke-width="0.12">40</text>
<line x1="82" y1="509.72" x2="85" y2="509.72" stroke="#222" stroke-width="1"/>
<text x="79.7" y="512.34" font-size="7.6" text-anchor="end" stroke="#222" stroke-width="0.12">60</text>
<line x1="82" y1="489.86" x2="85" y2="489.86" stroke="#222" stroke-width="1"/>
<text x="79.7" y="492.48" font-size="7.6" text-anchor="end" stroke="#222" stroke-width="0.12">80</text>
<line x1="82" y1="470" x2="85" y2="470" stroke="#222" stroke-width="1"/>
<text x="79.7" y="472.62" font-size="7.6" text-anchor="end" stroke="#222" stroke-width="0.12">100</text>
<line x1="96.5" y1="485.9" x2="112.6" y2="485.9" stroke="#333" stroke-width="1"/>
<text x="104.55" y="485.7" font-size="7.4" text-anchor="middle" stroke="#222" stroke-width="0.3">**</text>
<line x1="114.2" y1="466.1" x2="130" y2="466.1" stroke="#333" stroke-width="1"/>
<text x="122.1" y="465.9" font-size="7.4" text-anchor="middle" stroke="#222" stroke-width="0.3">**</text>
<line x1="114.2" y1="444.5" x2="144.5" y2="444.5" stroke="#333" stroke-width="1"/>
<text x="129.35" y="444.3" font-size="7.4" text-anchor="middle" stroke="#222" stroke-width="0.3">**</text>
<text x="58.99" y="563.8" font-size="7.8" textLength="92.3" lengthAdjust="spacingAndGlyphs" transform="rotate(-90 58.99 563.8)" stroke="#222" stroke-width="0.25">Proliferation % (cell trace violet)</text>
<rect x="351.2" y="489.6" width="8.7" height="79.6" fill="#1d4e8f"/>
<line x1="355.55" y1="489.6" x2="355.55" y2="478.5" stroke="#222" stroke-width="0.9"/>
<line x1="353.05" y1="478.5" x2="358.05" y2="478.5" stroke="#222" stroke-width="0.9"/>
<rect x="367.3" y="519.5" width="8.3" height="49.7" fill="#cc0f30"/>
<rect x="383.2" y="507.1" width="8.3" height="62.1" fill="#3aaa35"/>
<line x1="387.35" y1="507.1" x2="387.35" y2="495" stroke="#222" stroke-width="0.9"/>
<line x1="384.85" y1="495" x2="389.85" y2="495" stroke="#222" stroke-width="0.9"/>
<rect x="399.1" y="498.9" width="8.3" height="70.3" fill="#5c2479"/>
<line x1="403.25" y1="498.9" x2="403.25" y2="491" stroke="#222" stroke-width="0.9"/>
<line x1="400.75" y1="491" x2="405.75" y2="491" stroke="#222" stroke-width="0.9"/>
<circle cx="355.3" cy="477.6" r="2.85" fill="#fff" stroke="#111" stroke-width="0.85"/>
<circle cx="353.3" cy="487.1" r="2.85" fill="#fff" stroke="#111" stroke-width="0.85"/>
<circle cx="357.4" cy="487.1" r="2.85" fill="#fff" stroke="#111" stroke-width="0.85"/>
<circle cx="370.8" cy="512.7" r="2.85" fill="#fff" stroke="#111" stroke-width="0.85"/>
<circle cx="368.8" cy="516.9" r="2.85" fill="#fff" stroke="#111" stroke-width="0.85"/>
<circle cx="373.5" cy="516.9" r="2.85" fill="#fff" stroke="#111" stroke-width="0.85"/>
<circle cx="387.4" cy="494.1" r="2.85" fill="#fff" stroke="#111" stroke-width="0.85"/>
<circle cx="385.3" cy="504.5" r="2.85" fill="#fff" stroke="#111" stroke-width="0.85"/>
<circle cx="389.4" cy="504.5" r="2.85" fill="#fff" stroke="#111" stroke-width="0.85"/>
<circle cx="403.3" cy="489.6" r="2.85" fill="#fff" stroke="#111" stroke-width="0.85"/>
<circle cx="401.2" cy="496.8" r="2.85" fill="#fff" stroke="#111" stroke-width="0.85"/>
<circle cx="405.9" cy="495.4" r="2.85" fill="#fff" stroke="#111" stroke-width="0.85"/>
<line x1="344.6" y1="465" x2="344.6" y2="569.8" stroke="#111" stroke-width="1.2"/>
<line x1="344" y1="569.2" x2="414.8" y2="569.2" stroke="#111" stroke-width="1.3"/>
<line x1="341.6" y1="569.2" x2="344.6" y2="569.2" stroke="#222" stroke-width="1"/>
<text x="339.5" y="571.82" font-size="7.6" text-anchor="end" stroke="#222" stroke-width="0.12">0</text>
<line x1="341.6" y1="535.6" x2="344.6" y2="535.6" stroke="#222" stroke-width="1"/>
<text x="339.5" y="538.22" font-size="7.6" text-anchor="end" stroke="#222" stroke-width="0.12">20</text>
<line x1="341.6" y1="502" x2="344.6" y2="502" stroke="#222" stroke-width="1"/>
<text x="339.5" y="504.62" font-size="7.6" text-anchor="end" stroke="#222" stroke-width="0.12">40</text>
<line x1="341.6" y1="468.4" x2="344.6" y2="468.4" stroke="#222" stroke-width="1"/>
<text x="339.5" y="471.02" font-size="7.6" text-anchor="end" stroke="#222" stroke-width="0.12">60</text>
<line x1="351.2" y1="467.9" x2="376" y2="467.9" stroke="#333" stroke-width="1"/>
<text x="363.6" y="467.7" font-size="7.4" text-anchor="middle" stroke="#222" stroke-width="0.3">***</text>
<line x1="367.7" y1="487.1" x2="390.5" y2="487.1" stroke="#333" stroke-width="1"/>
<text x="379.1" y="486.9" font-size="7.4" text-anchor="middle" stroke="#222" stroke-width="0.3">*</text>
<line x1="370.2" y1="448.3" x2="408" y2="448.3" stroke="#333" stroke-width="1"/>
<text x="389.1" y="448.1" font-size="7.4" text-anchor="middle" stroke="#222" stroke-width="0.3">**</text>
<text x="322.99" y="537.1" font-size="7.8" textLength="37.6" lengthAdjust="spacingAndGlyphs" transform="rotate(-90 322.99 537.1)" stroke="#222" stroke-width="0.25">CD4<tspan dy="-2" font-size="5">+</tspan><tspan dy="2">Ki-67</tspan><tspan dy="-2" font-size="5">+</tspan><tspan dy="2"> %</tspan></text>
<rect x="168.5" y="499.4" width="11.2" height="4.2" fill="#1d4e8f"/>
<text x="183.1" y="504.3" font-size="7.35" stroke="#222" stroke-width="0.12">T</text>
<rect x="168.5" y="509.85" width="11.2" height="4.2" fill="#cc0f30"/>
<text x="183.1" y="514.75" font-size="7.35" stroke="#222" stroke-width="0.12">T+aPC</text>
<rect x="168.5" y="520.3" width="11.2" height="4.2" fill="#3aaa35"/>
<text x="183.1" y="525.2" font-size="7.35" stroke="#222" stroke-width="0.12">T+aPC+&#945;KG</text>
<rect x="168.5" y="530.75" width="11.2" height="4.2" fill="#5c2479"/>
<text x="183.1" y="535.65" font-size="7.35" stroke="#222" stroke-width="0.12">T+aPC+Q</text>
<rect x="430" y="499.4" width="11.2" height="4.2" fill="#1d4e8f"/>
<text x="444.3" y="504.3" font-size="7.35" stroke="#222" stroke-width="0.12">T</text>
<rect x="430" y="509.85" width="11.2" height="4.2" fill="#cc0f30"/>
<text x="444.3" y="514.75" font-size="7.35" stroke="#222" stroke-width="0.12">T+aPC</text>
<rect x="430" y="520.3" width="11.2" height="4.2" fill="#3aaa35"/>
<text x="444.3" y="525.2" font-size="7.35" stroke="#222" stroke-width="0.12">T+aPC+&#945;KG</text>
<rect x="430" y="530.75" width="11.2" height="4.2" fill="#5c2479"/>
<text x="444.3" y="535.65" font-size="7.35" stroke="#222" stroke-width="0.12">T+aPC+Q</text>
<rect x="0.55" y="0.5" width="518.9" height="580.0" fill="none" stroke="#585858" stroke-width="1.1"/></svg></body></html>
